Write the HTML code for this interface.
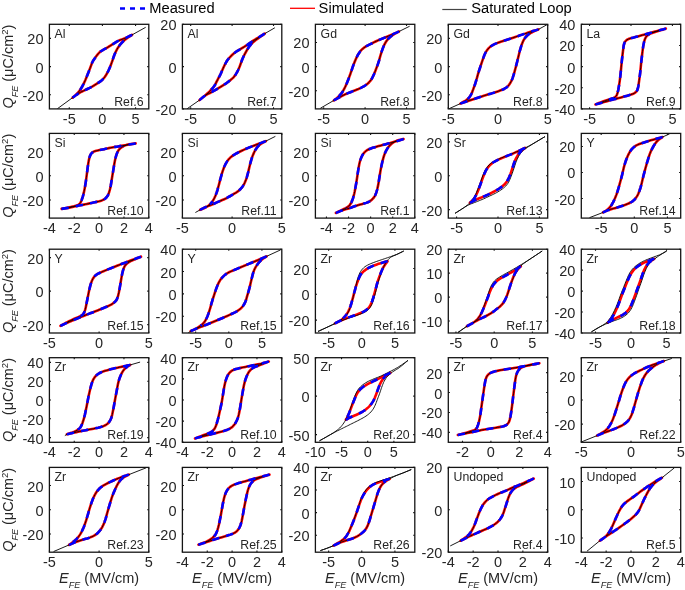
<!DOCTYPE html><html><head><meta charset="utf-8"><style>
html,body{margin:0;padding:0;background:#fff;}
svg{display:block;will-change:transform;}
text{font-family:"Liberation Sans",sans-serif;}
.red{fill:none;stroke:#ff0000;stroke-width:2.6;stroke-linejoin:round;}
.blk{fill:none;stroke:#000;stroke-width:0.9;stroke-linejoin:round;}
.blu{fill:none;stroke:#0000ff;stroke-width:2.6;stroke-dasharray:7.3 7.2;stroke-linejoin:round;}
.ax{fill:none;stroke:#141414;stroke-width:1.3;}
.tk{fill:none;stroke:#141414;stroke-width:1.1;}
.tl{font-size:14.5px;fill:#262626;}
.pl{font-size:12.3px;fill:#262626;}
.yl{font-size:14.5px;fill:#262626;}
.lg{font-size:14.7px;fill:#000;}
</style></head><body><svg width="685" height="590" viewBox="0 0 685 590"><defs><clipPath id="c00"><rect x="49.4" y="24.3" width="99.4" height="84.6"/></clipPath><clipPath id="c01"><rect x="182.4" y="24.3" width="99.4" height="84.6"/></clipPath><clipPath id="c02"><rect x="315.4" y="24.3" width="99.4" height="84.6"/></clipPath><clipPath id="c03"><rect x="448.3" y="24.3" width="99.4" height="84.6"/></clipPath><clipPath id="c04"><rect x="581.3" y="24.3" width="99.4" height="84.6"/></clipPath><clipPath id="c10"><rect x="49.4" y="133.4" width="99.4" height="84.7"/></clipPath><clipPath id="c11"><rect x="182.4" y="133.4" width="99.4" height="84.7"/></clipPath><clipPath id="c12"><rect x="315.4" y="133.4" width="99.4" height="84.7"/></clipPath><clipPath id="c13"><rect x="448.3" y="133.4" width="99.4" height="84.7"/></clipPath><clipPath id="c14"><rect x="581.3" y="133.4" width="99.4" height="84.7"/></clipPath><clipPath id="c20"><rect x="49.4" y="249.2" width="99.4" height="83.8"/></clipPath><clipPath id="c21"><rect x="182.4" y="249.2" width="99.4" height="83.8"/></clipPath><clipPath id="c22"><rect x="315.4" y="249.2" width="99.4" height="83.8"/></clipPath><clipPath id="c23"><rect x="448.3" y="249.2" width="99.4" height="83.8"/></clipPath><clipPath id="c24"><rect x="581.3" y="249.2" width="99.4" height="83.8"/></clipPath><clipPath id="c30"><rect x="49.4" y="357.7" width="99.4" height="84.6"/></clipPath><clipPath id="c31"><rect x="182.4" y="357.7" width="99.4" height="84.6"/></clipPath><clipPath id="c32"><rect x="315.4" y="357.7" width="99.4" height="84.6"/></clipPath><clipPath id="c33"><rect x="448.3" y="357.7" width="99.4" height="84.6"/></clipPath><clipPath id="c34"><rect x="581.3" y="357.7" width="99.4" height="84.6"/></clipPath><clipPath id="c40"><rect x="49.4" y="467.4" width="99.4" height="84.8"/></clipPath><clipPath id="c41"><rect x="182.4" y="467.4" width="99.4" height="84.8"/></clipPath><clipPath id="c42"><rect x="315.4" y="467.4" width="99.4" height="84.8"/></clipPath><clipPath id="c43"><rect x="448.3" y="467.4" width="99.4" height="84.8"/></clipPath><clipPath id="c44"><rect x="581.3" y="467.4" width="99.4" height="84.8"/></clipPath></defs><path d="M120 8.5H145" stroke="#0000ff" stroke-width="2.6" stroke-dasharray="5 5" fill="none"/>
<text x="149.3" y="12.6" class="lg">Measured</text>
<path d="M290 8.3H315" stroke="#ff0000" stroke-width="1.3" fill="none"/>
<text x="318.6" y="12.6" class="lg">Simulated</text>
<path d="M442.3 9.5H466.8" stroke="#444" stroke-width="1.2" fill="none"/>
<text x="471.3" y="12.6" class="lg">Saturated Loop</text><g clip-path="url(#c00)">
<path d="M132.11 34.84L130.76 35.5L129.19 36.26L127.84 36.91L126.25 37.65L124.87 38.25L123.24 38.87L121.83 39.38L120.19 40L118.83 40.62L117.29 41.44L116 42.21L114.52 43.15L113.25 43.95L111.98 44.73L110.48 45.64L109.2 46.42L107.7 47.33L106.41 48.09L104.88 48.95L103.56 49.66L102.04 50.52L100.79 51.34L99.45 52.46L98.41 53.54L97.31 54.89L96.41 56.09L95.37 57.5L94.49 58.71L93.65 59.95L92.76 61.46L92.11 62.81L91.46 64.43L90.94 65.84L90.35 67.48L89.82 68.89L89.18 70.52L88.63 71.91L87.99 73.54L87.43 74.93L86.78 76.56L86.22 77.95L85.56 79.57L84.96 80.94L84.34 82.31L83.59 83.89L82.91 85.22L82.07 86.76L81.3 88.05L80.35 89.52L79.49 90.75L78.42 92.12L77.43 93.25L76.19 94.49L75.08 95.49L73.75 96.63L72.61 97.61L73.8 96.73L75.21 95.7L76.42 94.82L77.87 93.83L79.14 93.04L80.67 92.2L82.02 91.53L83.37 90.89L84.95 90.14L86.31 89.49L87.89 88.74L89.24 88.09L90.8 87.3L92.12 86.59L93.42 85.84L94.92 84.94L96.2 84.15L97.67 83.2L98.92 82.37L100.35 81.38L101.54 80.46L102.65 79.45L103.82 78.16L104.74 76.98L105.72 75.53L106.51 74.26L107.37 72.73L108.05 71.4L108.7 70.05L109.42 68.45L110.01 67.07L110.66 65.45L111.19 64.04L111.79 62.4L112.29 60.98L112.77 59.56L113.32 57.9L113.8 56.48L114.41 54.84L114.98 53.46L115.71 51.87L116.37 50.52L117.09 49.2L117.98 47.7L118.8 46.44L119.82 45.03L120.77 43.86L121.94 42.56L123 41.5L124.1 40.49L125.44 39.36L126.63 38.44L128.05 37.43L129.31 36.61L130.79 35.67L132.06 34.88Z" class="red"/>
<path d="M132.11 34.84L130.76 35.5L129.19 36.26L127.84 36.91L126.25 37.65L124.87 38.25L123.24 38.87L121.83 39.38L120.19 40L118.83 40.62L117.29 41.44L116 42.21L114.52 43.15L113.25 43.95L111.98 44.73L110.48 45.64L109.2 46.42L107.7 47.33L106.41 48.09L104.88 48.95L103.56 49.66L102.04 50.52L100.79 51.34L99.45 52.46L98.41 53.54L97.31 54.89L96.41 56.09L95.37 57.5L94.49 58.71L93.65 59.95L92.76 61.46L92.11 62.81L91.46 64.43L90.94 65.84L90.35 67.48L89.82 68.89L89.18 70.52L88.63 71.91L87.99 73.54L87.43 74.93L86.78 76.56L86.22 77.95L85.56 79.57L84.96 80.94L84.34 82.31L83.59 83.89L82.91 85.22L82.07 86.76L81.3 88.05L80.35 89.52L79.49 90.75L78.42 92.12L77.43 93.25L76.19 94.49L75.08 95.49L73.75 96.63L72.61 97.61L73.8 96.73L75.21 95.7L76.42 94.82L77.87 93.83L79.14 93.04L80.67 92.2L82.02 91.53L83.37 90.89L84.95 90.14L86.31 89.49L87.89 88.74L89.24 88.09L90.8 87.3L92.12 86.59L93.42 85.84L94.92 84.94L96.2 84.15L97.67 83.2L98.92 82.37L100.35 81.38L101.54 80.46L102.65 79.45L103.82 78.16L104.74 76.98L105.72 75.53L106.51 74.26L107.37 72.73L108.05 71.4L108.7 70.05L109.42 68.45L110.01 67.07L110.66 65.45L111.19 64.04L111.79 62.4L112.29 60.98L112.77 59.56L113.32 57.9L113.8 56.48L114.41 54.84L114.98 53.46L115.71 51.87L116.37 50.52L117.09 49.2L117.98 47.7L118.8 46.44L119.82 45.03L120.77 43.86L121.94 42.56L123 41.5L124.1 40.49L125.44 39.36L126.63 38.44L128.05 37.43L129.31 36.61L130.79 35.67L132.06 34.88ZM57.39 108.74L72.61 97.61M132.11 34.84L145.68 27.32" class="blk"/>
<path d="M132.11 34.84L130.76 35.5L129.19 36.26L127.84 36.91L126.25 37.65L124.87 38.25L123.24 38.87L121.83 39.38L120.19 40L118.83 40.62L117.29 41.44L116 42.21L114.52 43.15L113.25 43.95L111.98 44.73L110.48 45.64L109.2 46.42L107.7 47.33L106.41 48.09L104.88 48.95L103.56 49.66L102.04 50.52L100.79 51.34L99.45 52.46L98.41 53.54L97.31 54.89L96.41 56.09L95.37 57.5L94.49 58.71L93.65 59.95L92.76 61.46L92.11 62.81L91.46 64.43L90.94 65.84L90.35 67.48L89.82 68.89L89.18 70.52L88.63 71.91L87.99 73.54L87.43 74.93L86.78 76.56L86.22 77.95L85.56 79.57L84.96 80.94L84.34 82.31L83.59 83.89L82.91 85.22L82.07 86.76L81.3 88.05L80.35 89.52L79.49 90.75L78.42 92.12M72.59 97.63L73.8 96.73L75.21 95.7L76.42 94.82L77.87 93.83L79.14 93.04L80.67 92.2L82.02 91.53L83.37 90.89L84.95 90.14L86.31 89.49L87.89 88.74L89.24 88.09L90.8 87.3L92.12 86.59L93.42 85.84L94.92 84.94L96.2 84.15L97.67 83.2L98.92 82.37L100.35 81.38L101.54 80.46L102.65 79.45L103.82 78.16L104.74 76.98L105.72 75.53L106.51 74.26L107.37 72.73L108.05 71.4L108.7 70.05L109.42 68.45L110.01 67.07L110.66 65.45L111.19 64.04L111.79 62.4L112.29 60.98L112.77 59.56L113.32 57.9L113.8 56.48L114.41 54.84L114.98 53.46L115.71 51.87L116.37 50.52L117.09 49.2L117.98 47.7L118.8 46.44L119.82 45.03L120.77 43.86L121.94 42.56L123 41.5L124.1 40.49L125.44 39.36L126.63 38.44" class="blu"/>
</g>
<rect x="49.4" y="24.3" width="99.4" height="84.6" class="ax"/>
<path d="M69.28 108.9v-1.6M69.28 24.3v1.6M102.41 108.9v-1.6M102.41 24.3v1.6M135.55 108.9v-1.6M135.55 24.3v1.6M49.4 94.8h1.6M148.8 94.8h-1.6M49.4 66.6h1.6M148.8 66.6h-1.6M49.4 38.4h1.6M148.8 38.4h-1.6" class="tk"/>
<text x="69.28" y="123.9" text-anchor="middle" class="tl">-5</text>
<text x="102.41" y="123.9" text-anchor="middle" class="tl">0</text>
<text x="135.55" y="123.9" text-anchor="middle" class="tl">5</text>
<text x="43.5" y="100.8" text-anchor="end" class="tl">-20</text>
<text x="43.5" y="72.6" text-anchor="end" class="tl">0</text>
<text x="43.5" y="44.4" text-anchor="end" class="tl">20</text>
<text x="54.6" y="37.8" class="pl">Al</text>
<text x="143.6" y="105.7" text-anchor="end" class="pl">Ref.6</text>
<g clip-path="url(#c01)">
<path d="M264.73 33.64L263.46 34.44L261.98 35.37L260.7 36.16L259.21 37.08L257.92 37.84L256.41 38.73L255.12 39.5L253.64 40.43L252.39 41.26L250.95 42.26L249.73 43.13L248.31 44.14L247.07 44.99L245.6 45.94L244.33 46.74L242.84 47.65L241.55 48.42L240.03 49.29L238.73 50.04L237.45 50.81L235.99 51.78L234.79 52.68L233.45 53.8L232.34 54.81L231.08 56.02L230.03 57.09L228.86 58.39L227.91 59.55L226.89 60.97L226.11 62.25L225.28 63.79L224.6 65.13L223.84 66.7L223.22 68.07L222.52 69.67L221.91 71.04L221.21 72.65L220.6 74.02L219.85 75.6L219.15 76.92L218.43 78.24L217.58 79.77L216.88 81.09L216.12 82.67L215.46 84.02L214.61 85.54L213.76 86.77L212.64 88.12L211.63 89.23L210.44 90.51L209.4 91.58L208.15 92.81L207.04 93.82L205.72 94.97L204.58 95.94L203.23 97.06L202.07 98.01L200.72 99.12L199.56 100.07L200.67 99.13L202.01 98.01L203.17 97.06L204.55 95.99L205.78 95.13L207.07 94.37L208.63 93.58L209.99 92.95L211.57 92.19L212.89 91.47L214.18 90.72L215.68 89.81L216.96 89.03L218.45 88.12L219.74 87.36L221.04 86.6L222.54 85.71L223.82 84.92L225.28 83.95L226.5 83.08L227.69 82.17L229.07 81.1L230.26 80.18L231.63 79.09L232.75 78.11L233.78 77.02L234.86 75.64L235.71 74.41L236.63 72.92L237.35 71.61L238.03 70.27L238.76 68.68L239.35 67.3L239.98 65.67L240.49 64.26L241 62.85L241.59 61.2L242.11 59.79L242.77 58.17L243.39 56.81L244.05 55.46L244.85 53.91L245.56 52.58L246.39 51.04L247.15 49.75L247.95 48.48L248.94 47.04L249.82 45.82L250.91 44.46L251.91 43.35L253 42.32L254.34 41.19L255.51 40.26L256.91 39.2L258.12 38.33L259.35 37.47L260.78 36.46L262 35.59L263.43 34.57L264.65 33.7Z" class="red"/>
<path d="M264.73 33.64L263.46 34.44L261.98 35.37L260.7 36.16L259.21 37.08L257.92 37.84L256.41 38.73L255.12 39.5L253.64 40.43L252.39 41.26L250.95 42.26L249.73 43.13L248.31 44.14L247.07 44.99L245.6 45.94L244.33 46.74L242.84 47.65L241.55 48.42L240.03 49.29L238.73 50.04L237.45 50.81L235.99 51.78L234.79 52.68L233.45 53.8L232.34 54.81L231.08 56.02L230.03 57.09L228.86 58.39L227.91 59.55L226.89 60.97L226.11 62.25L225.28 63.79L224.6 65.13L223.84 66.7L223.22 68.07L222.52 69.67L221.91 71.04L221.21 72.65L220.6 74.02L219.85 75.6L219.15 76.92L218.43 78.24L217.58 79.77L216.88 81.09L216.12 82.67L215.46 84.02L214.61 85.54L213.76 86.77L212.64 88.12L211.63 89.23L210.44 90.51L209.4 91.58L208.15 92.81L207.04 93.82L205.72 94.97L204.58 95.94L203.23 97.06L202.07 98.01L200.72 99.12L199.56 100.07L200.67 99.13L202.01 98.01L203.17 97.06L204.55 95.99L205.78 95.13L207.07 94.37L208.63 93.58L209.99 92.95L211.57 92.19L212.89 91.47L214.18 90.72L215.68 89.81L216.96 89.03L218.45 88.12L219.74 87.36L221.04 86.6L222.54 85.71L223.82 84.92L225.28 83.95L226.5 83.08L227.69 82.17L229.07 81.1L230.26 80.18L231.63 79.09L232.75 78.11L233.78 77.02L234.86 75.64L235.71 74.41L236.63 72.92L237.35 71.61L238.03 70.27L238.76 68.68L239.35 67.3L239.98 65.67L240.49 64.26L241 62.85L241.59 61.2L242.11 59.79L242.77 58.17L243.39 56.81L244.05 55.46L244.85 53.91L245.56 52.58L246.39 51.04L247.15 49.75L247.95 48.48L248.94 47.04L249.82 45.82L250.91 44.46L251.91 43.35L253 42.32L254.34 41.19L255.51 40.26L256.91 39.2L258.12 38.33L259.35 37.47L260.78 36.46L262 35.59L263.43 34.57L264.65 33.7ZM187.11 108.75L199.56 100.07M264.73 33.64L274.88 27.75" class="blk"/>
<path d="M264.73 33.64L263.46 34.44L261.98 35.37L260.7 36.16L259.21 37.08L257.92 37.84L256.41 38.73L255.12 39.5L253.64 40.43L252.39 41.26L250.95 42.26L249.73 43.13L248.31 44.14L247.07 44.99L245.6 45.94L244.33 46.74L242.84 47.65L241.55 48.42L240.03 49.29L238.73 50.04L237.45 50.81L235.99 51.78L234.79 52.68L233.45 53.8L232.34 54.81L231.08 56.02L230.03 57.09L228.86 58.39L227.91 59.55L226.89 60.97L226.11 62.25L225.28 63.79L224.6 65.13L223.84 66.7L223.22 68.07L222.52 69.67L221.91 71.04L221.21 72.65L220.6 74.02L219.85 75.6L219.15 76.92L218.43 78.24L217.58 79.77L216.88 81.09L216.12 82.67L215.46 84.02L214.61 85.54L213.76 86.77L212.64 88.12L211.63 89.23L210.44 90.51L209.4 91.58L208.15 92.81M199.52 100.1L200.67 99.13L202.01 98.01L203.17 97.06L204.55 95.99L205.78 95.13L207.07 94.37L208.63 93.58L209.99 92.95L211.57 92.19L212.89 91.47L214.18 90.72L215.68 89.81L216.96 89.03L218.45 88.12L219.74 87.36L221.04 86.6L222.54 85.71L223.82 84.92L225.28 83.95L226.5 83.08L227.69 82.17L229.07 81.1L230.26 80.18L231.63 79.09L232.75 78.11L233.78 77.02L234.86 75.64L235.71 74.41L236.63 72.92L237.35 71.61L238.03 70.27L238.76 68.68L239.35 67.3L239.98 65.67L240.49 64.26L241 62.85L241.59 61.2L242.11 59.79L242.77 58.17L243.39 56.81L244.05 55.46L244.85 53.91L245.56 52.58L246.39 51.04L247.15 49.75L247.95 48.48L248.94 47.04L249.82 45.82L250.91 44.46L251.91 43.35L253 42.32L254.34 41.19" class="blu"/>
</g>
<rect x="182.4" y="24.3" width="99.4" height="84.6" class="ax"/>
<path d="M190.68 108.9v-1.6M190.68 24.3v1.6M232.1 108.9v-1.6M232.1 24.3v1.6M273.52 108.9v-1.6M273.52 24.3v1.6M182.4 108.9h1.6M281.8 108.9h-1.6M182.4 66.6h1.6M281.8 66.6h-1.6M182.4 24.3h1.6M281.8 24.3h-1.6" class="tk"/>
<text x="190.68" y="123.9" text-anchor="middle" class="tl">-5</text>
<text x="232.1" y="123.9" text-anchor="middle" class="tl">0</text>
<text x="273.52" y="123.9" text-anchor="middle" class="tl">5</text>
<text x="176.5" y="114.9" text-anchor="end" class="tl">-20</text>
<text x="176.5" y="72.6" text-anchor="end" class="tl">0</text>
<text x="176.5" y="30.3" text-anchor="end" class="tl">20</text>
<text x="187.6" y="37.8" class="pl">Al</text>
<text x="276.6" y="105.7" text-anchor="end" class="pl">Ref.7</text>
<g clip-path="url(#c02)">
<path d="M398.98 31.51L397.61 32.12L396.01 32.83L394.64 33.43L393.03 34.13L391.65 34.72L390.04 35.39L388.65 35.97L387.04 36.64L385.65 37.21L384.03 37.88L382.64 38.45L381.02 39.11L379.64 39.68L378.03 40.38L376.67 41.01L375.1 41.78L373.76 42.46L372.21 43.26L370.86 43.93L369.29 44.69L367.94 45.35L366.41 46.19L365.13 46.97L363.68 47.95L362.52 48.89L361.27 50.11L360.31 51.26L359.29 52.68L358.48 53.94L357.62 55.46L356.93 56.79L356.28 58.15L355.56 59.74L354.97 61.12L354.31 62.74L353.77 64.14L353.16 65.78L352.66 67.19L352.1 68.85L351.63 70.27L351.06 71.93L350.57 73.35L349.98 75L349.47 76.41L348.86 78.05L348.33 79.45L347.7 81.08L347.14 82.48L346.46 84.09L345.85 85.45L345.11 87.04L344.44 88.39L343.61 89.93L342.84 91.21L341.88 92.67L340.99 93.87L339.86 95.21L338.81 96.28L337.51 97.45L336.36 98.41L334.99 99.5L333.82 100.44L335.08 99.74L336.6 98.87L337.91 98.14L339.45 97.29L340.77 96.59L342.1 95.89L343.66 95.1L345.01 94.45L346.6 93.72L347.98 93.13L349.6 92.48L351 91.94L352.4 91.4L354.03 90.76L355.43 90.21L357.05 89.57L358.44 88.99L359.81 88.38L361.39 87.63L362.72 86.94L364.24 86.07L365.5 85.26L366.72 84.4L368.08 83.29L369.15 82.25L370.29 80.93L371.16 79.71L372.07 78.22L372.76 76.88L373.39 75.53L374.1 73.93L374.68 72.54L375.33 70.92L375.88 69.52L376.41 68.12L377.03 66.48L377.55 65.08L378.14 63.43L378.61 62L379.12 60.33L379.52 58.89L379.92 57.44L380.39 55.75L380.81 54.31L381.34 52.64L381.8 51.22L382.29 49.8L382.9 48.16L383.44 46.76L384.13 45.15L384.79 43.81L385.54 42.51L386.5 41.05L387.39 39.85L388.53 38.52L389.59 37.47L390.94 36.36L392.16 35.48L393.4 34.65L394.89 33.72L396.19 32.98L397.72 32.17L398.98 31.51Z" class="red"/>
<path d="M398.98 31.51L397.61 32.12L396.01 32.83L394.64 33.43L393.03 34.13L391.65 34.72L390.04 35.39L388.65 35.97L387.04 36.64L385.65 37.21L384.03 37.88L382.64 38.45L381.02 39.11L379.64 39.68L378.03 40.38L376.67 41.01L375.1 41.78L373.76 42.46L372.21 43.26L370.86 43.93L369.29 44.69L367.94 45.35L366.41 46.19L365.13 46.97L363.68 47.95L362.52 48.89L361.27 50.11L360.31 51.26L359.29 52.68L358.48 53.94L357.62 55.46L356.93 56.79L356.28 58.15L355.56 59.74L354.97 61.12L354.31 62.74L353.77 64.14L353.16 65.78L352.66 67.19L352.1 68.85L351.63 70.27L351.06 71.93L350.57 73.35L349.98 75L349.47 76.41L348.86 78.05L348.33 79.45L347.7 81.08L347.14 82.48L346.46 84.09L345.85 85.45L345.11 87.04L344.44 88.39L343.61 89.93L342.84 91.21L341.88 92.67L340.99 93.87L339.86 95.21L338.81 96.28L337.51 97.45L336.36 98.41L334.99 99.5L333.82 100.44L335.08 99.74L336.6 98.87L337.91 98.14L339.45 97.29L340.77 96.59L342.1 95.89L343.66 95.1L345.01 94.45L346.6 93.72L347.98 93.13L349.6 92.48L351 91.94L352.4 91.4L354.03 90.76L355.43 90.21L357.05 89.57L358.44 88.99L359.81 88.38L361.39 87.63L362.72 86.94L364.24 86.07L365.5 85.26L366.72 84.4L368.08 83.29L369.15 82.25L370.29 80.93L371.16 79.71L372.07 78.22L372.76 76.88L373.39 75.53L374.1 73.93L374.68 72.54L375.33 70.92L375.88 69.52L376.41 68.12L377.03 66.48L377.55 65.08L378.14 63.43L378.61 62L379.12 60.33L379.52 58.89L379.92 57.44L380.39 55.75L380.81 54.31L381.34 52.64L381.8 51.22L382.29 49.8L382.9 48.16L383.44 46.76L384.13 45.15L384.79 43.81L385.54 42.51L386.5 41.05L387.39 39.85L388.53 38.52L389.59 37.47L390.94 36.36L392.16 35.48L393.4 34.65L394.89 33.72L396.19 32.98L397.72 32.17L398.98 31.51ZM320.36 108.25L333.82 100.44M398.98 31.51L409.64 26.24" class="blk"/>
<path d="M398.98 31.51L397.61 32.12L396.01 32.83L394.64 33.43L393.03 34.13L391.65 34.72L390.04 35.39L388.65 35.97L387.04 36.64L385.65 37.21L384.03 37.88L382.64 38.45L381.02 39.11L379.64 39.68L378.03 40.38L376.67 41.01L375.1 41.78L373.76 42.46L372.21 43.26L370.86 43.93L369.29 44.69L367.94 45.35L366.41 46.19L365.13 46.97L363.68 47.95L362.52 48.89L361.27 50.11L360.31 51.26L359.29 52.68L358.48 53.94L357.62 55.46L356.93 56.79L356.28 58.15L355.56 59.74L354.97 61.12L354.31 62.74L353.77 64.14L353.16 65.78L352.66 67.19L352.1 68.85L351.63 70.27L351.06 71.93L350.57 73.35L349.98 75L349.47 76.41L348.86 78.05L348.33 79.45L347.7 81.08L347.14 82.48L346.46 84.09L345.85 85.45L345.11 87.04L344.44 88.39L343.61 89.93L342.84 91.21L341.88 92.67L340.99 93.87L339.86 95.21L338.81 96.28M333.78 100.48L335.08 99.74L336.6 98.87L337.91 98.14L339.45 97.29L340.77 96.59L342.1 95.89L343.66 95.1L345.01 94.45L346.6 93.72L347.98 93.13L349.6 92.48L351 91.94L352.4 91.4L354.03 90.76L355.43 90.21L357.05 89.57L358.44 88.99L359.81 88.38L361.39 87.63L362.72 86.94L364.24 86.07L365.5 85.26L366.72 84.4L368.08 83.29L369.15 82.25L370.29 80.93L371.16 79.71L372.07 78.22L372.76 76.88L373.39 75.53L374.1 73.93L374.68 72.54L375.33 70.92L375.88 69.52L376.41 68.12L377.03 66.48L377.55 65.08L378.14 63.43L378.61 62L379.12 60.33L379.52 58.89L379.92 57.44L380.39 55.75L380.81 54.31L381.34 52.64L381.8 51.22L382.29 49.8L382.9 48.16L383.44 46.76L384.13 45.15L384.79 43.81L385.54 42.51L386.5 41.05L387.39 39.85L388.53 38.52L389.59 37.47L390.94 36.36L392.16 35.48" class="blu"/>
</g>
<rect x="315.4" y="24.3" width="99.4" height="84.6" class="ax"/>
<path d="M323.68 108.9v-1.6M323.68 24.3v1.6M365.1 108.9v-1.6M365.1 24.3v1.6M406.52 108.9v-1.6M406.52 24.3v1.6M315.4 90.77h1.6M414.8 90.77h-1.6M315.4 66.6h1.6M414.8 66.6h-1.6M315.4 42.43h1.6M414.8 42.43h-1.6" class="tk"/>
<text x="323.68" y="123.9" text-anchor="middle" class="tl">-5</text>
<text x="365.1" y="123.9" text-anchor="middle" class="tl">0</text>
<text x="406.52" y="123.9" text-anchor="middle" class="tl">5</text>
<text x="309.5" y="96.77" text-anchor="end" class="tl">-20</text>
<text x="309.5" y="72.6" text-anchor="end" class="tl">0</text>
<text x="309.5" y="48.43" text-anchor="end" class="tl">20</text>
<text x="320.6" y="37.8" class="pl">Gd</text>
<text x="409.6" y="105.7" text-anchor="end" class="pl">Ref.8</text>
<g clip-path="url(#c03)">
<path d="M538.36 29.44L536.92 29.88L535.25 30.39L533.82 30.83L532.15 31.35L530.72 31.81L529.05 32.35L527.63 32.82L525.97 33.38L524.55 33.86L523.13 34.34L521.47 34.89L520.04 35.36L518.38 35.92L516.96 36.39L515.3 36.94L513.88 37.42L512.45 37.89L510.79 38.45L509.37 38.92L507.71 39.47L506.29 39.95L504.62 40.49L503.2 40.95L501.53 41.49L500.11 41.97L498.7 42.47L497.06 43.1L495.67 43.66L494.08 44.37L492.75 45.06L491.27 45.99L490.08 46.9L488.98 47.91L487.81 49.21L486.9 50.4L485.96 51.87L485.24 53.19L484.51 54.77L483.97 56.17L483.38 57.82L482.89 59.24L482.39 60.65L481.82 62.31L481.34 63.73L480.79 65.39L480.32 66.81L479.77 68.47L479.31 69.9L478.85 71.33L478.34 73L477.92 74.44L477.45 76.13L477.05 77.58L476.58 79.26L476.16 80.7L475.64 82.37L475.18 83.8L474.7 85.22L474.11 86.87L473.6 88.28L473.01 89.93L472.5 91.34L471.84 92.96L471.2 94.31L470.47 95.62L469.49 97.06L468.53 98.21L467.26 99.4L466.07 100.31L464.59 101.24L463.29 101.99L461.76 102.84L460.45 103.57L461.84 103.1L463.5 102.53L464.92 102.05L466.58 101.49L468 101.01L469.42 100.53L471.08 99.98L472.5 99.51L474.16 98.95L475.59 98.48L477.01 98L478.67 97.44L480.09 96.96L481.75 96.41L483.18 95.95L484.61 95.51L486.28 95L487.72 94.58L489.4 94.08L490.84 93.65L492.51 93.13L493.94 92.67L495.36 92.21L497.03 91.66L498.44 91.17L500.09 90.57L501.48 90.03L502.87 89.46L504.46 88.72L505.76 87.98L507.14 86.93L508.19 85.86L509.12 84.69L510.11 83.25L510.87 81.96L511.66 80.4L512.25 79.02L512.76 77.62L513.3 75.95L513.73 74.52L514.23 72.84L514.64 71.39L515.03 69.95L515.48 68.26L515.86 66.8L516.3 65.11L516.67 63.66L517.03 62.2L517.45 60.5L517.81 59.05L518.23 57.35L518.58 55.89L518.93 54.43L519.34 52.73L519.72 51.28L520.19 49.59L520.62 48.15L521.13 46.48L521.59 45.05L522.09 43.64L522.75 42.02L523.38 40.66L524.22 39.13L525.05 37.88L526 36.72L527.23 35.49L528.39 34.54L529.81 33.53L531.09 32.74L532.4 32.01L533.98 31.26L535.35 30.67L536.97 30L538.36 29.44Z" class="red"/>
<path d="M538.36 29.44L536.92 29.88L535.25 30.39L533.82 30.83L532.15 31.35L530.72 31.81L529.05 32.35L527.63 32.82L525.97 33.38L524.55 33.86L523.13 34.34L521.47 34.89L520.04 35.36L518.38 35.92L516.96 36.39L515.3 36.94L513.88 37.42L512.45 37.89L510.79 38.45L509.37 38.92L507.71 39.47L506.29 39.95L504.62 40.49L503.2 40.95L501.53 41.49L500.11 41.97L498.7 42.47L497.06 43.1L495.67 43.66L494.08 44.37L492.75 45.06L491.27 45.99L490.08 46.9L488.98 47.91L487.81 49.21L486.9 50.4L485.96 51.87L485.24 53.19L484.51 54.77L483.97 56.17L483.38 57.82L482.89 59.24L482.39 60.65L481.82 62.31L481.34 63.73L480.79 65.39L480.32 66.81L479.77 68.47L479.31 69.9L478.85 71.33L478.34 73L477.92 74.44L477.45 76.13L477.05 77.58L476.58 79.26L476.16 80.7L475.64 82.37L475.18 83.8L474.7 85.22L474.11 86.87L473.6 88.28L473.01 89.93L472.5 91.34L471.84 92.96L471.2 94.31L470.47 95.62L469.49 97.06L468.53 98.21L467.26 99.4L466.07 100.31L464.59 101.24L463.29 101.99L461.76 102.84L460.45 103.57L461.84 103.1L463.5 102.53L464.92 102.05L466.58 101.49L468 101.01L469.42 100.53L471.08 99.98L472.5 99.51L474.16 98.95L475.59 98.48L477.01 98L478.67 97.44L480.09 96.96L481.75 96.41L483.18 95.95L484.61 95.51L486.28 95L487.72 94.58L489.4 94.08L490.84 93.65L492.51 93.13L493.94 92.67L495.36 92.21L497.03 91.66L498.44 91.17L500.09 90.57L501.48 90.03L502.87 89.46L504.46 88.72L505.76 87.98L507.14 86.93L508.19 85.86L509.12 84.69L510.11 83.25L510.87 81.96L511.66 80.4L512.25 79.02L512.76 77.62L513.3 75.95L513.73 74.52L514.23 72.84L514.64 71.39L515.03 69.95L515.48 68.26L515.86 66.8L516.3 65.11L516.67 63.66L517.03 62.2L517.45 60.5L517.81 59.05L518.23 57.35L518.58 55.89L518.93 54.43L519.34 52.73L519.72 51.28L520.19 49.59L520.62 48.15L521.13 46.48L521.59 45.05L522.09 43.64L522.75 42.02L523.38 40.66L524.22 39.13L525.05 37.88L526 36.72L527.23 35.49L528.39 34.54L529.81 33.53L531.09 32.74L532.4 32.01L533.98 31.26L535.35 30.67L536.97 30L538.36 29.44ZM448.36 109L460.45 103.57M538.36 29.44L547.71 24.29" class="blk"/>
<path d="M538.36 29.44L536.92 29.88L535.25 30.39L533.82 30.83L532.15 31.35L530.72 31.81L529.05 32.35L527.63 32.82L525.97 33.38L524.55 33.86L523.13 34.34L521.47 34.89L520.04 35.36L518.38 35.92L516.96 36.39L515.3 36.94L513.88 37.42L512.45 37.89L510.79 38.45L509.37 38.92L507.71 39.47L506.29 39.95L504.62 40.49L503.2 40.95L501.53 41.49L500.11 41.97L498.7 42.47L497.06 43.1L495.67 43.66L494.08 44.37L492.75 45.06L491.27 45.99L490.08 46.9L488.98 47.91L487.81 49.21L486.9 50.4L485.96 51.87L485.24 53.19L484.51 54.77L483.97 56.17L483.38 57.82L482.89 59.24L482.39 60.65L481.82 62.31L481.34 63.73L480.79 65.39L480.32 66.81L479.77 68.47L479.31 69.9L478.85 71.33L478.34 73L477.92 74.44L477.45 76.13L477.05 77.58L476.58 79.26L476.16 80.7L475.64 82.37L475.18 83.8L474.7 85.22L474.11 86.87L473.6 88.28L473.01 89.93L472.5 91.34L471.84 92.96L471.2 94.31L470.47 95.62L469.49 97.06L468.53 98.21L467.26 99.4L466.07 100.31L464.59 101.24M460.42 103.58L461.84 103.1L463.5 102.53L464.92 102.05L466.58 101.49L468 101.01L469.42 100.53L471.08 99.98L472.5 99.51L474.16 98.95L475.59 98.48L477.01 98L478.67 97.44L480.09 96.96L481.75 96.41L483.18 95.95L484.61 95.51L486.28 95L487.72 94.58L489.4 94.08L490.84 93.65L492.51 93.13L493.94 92.67L495.36 92.21L497.03 91.66L498.44 91.17L500.09 90.57L501.48 90.03L502.87 89.46L504.46 88.72L505.76 87.98L507.14 86.93L508.19 85.86L509.12 84.69L510.11 83.25L510.87 81.96L511.66 80.4L512.25 79.02L512.76 77.62L513.3 75.95L513.73 74.52L514.23 72.84L514.64 71.39L515.03 69.95L515.48 68.26L515.86 66.8L516.3 65.11L516.67 63.66L517.03 62.2L517.45 60.5L517.81 59.05L518.23 57.35L518.58 55.89L518.93 54.43L519.34 52.73L519.72 51.28L520.19 49.59L520.62 48.15L521.13 46.48L521.59 45.05L522.09 43.64L522.75 42.02L523.38 40.66L524.22 39.13L525.05 37.88L526 36.72L527.23 35.49L528.39 34.54L529.81 33.53L531.09 32.74" class="blu"/>
</g>
<rect x="448.3" y="24.3" width="99.4" height="84.6" class="ax"/>
<path d="M448.3 108.9v-1.6M448.3 24.3v1.6M498 108.9v-1.6M498 24.3v1.6M547.7 108.9v-1.6M547.7 24.3v1.6M448.3 94.8h1.6M547.7 94.8h-1.6M448.3 66.6h1.6M547.7 66.6h-1.6M448.3 38.4h1.6M547.7 38.4h-1.6" class="tk"/>
<text x="448.3" y="123.9" text-anchor="middle" class="tl">-5</text>
<text x="498" y="123.9" text-anchor="middle" class="tl">0</text>
<text x="547.7" y="123.9" text-anchor="middle" class="tl">5</text>
<text x="442.4" y="100.8" text-anchor="end" class="tl">-20</text>
<text x="442.4" y="72.6" text-anchor="end" class="tl">0</text>
<text x="442.4" y="44.4" text-anchor="end" class="tl">20</text>
<text x="453.5" y="37.8" class="pl">Gd</text>
<text x="542.5" y="105.7" text-anchor="end" class="pl">Ref.8</text>
<g clip-path="url(#c04)">
<path d="M665.9 28.63L664.45 29.01L662.76 29.46L661.31 29.84L659.62 30.29L658.17 30.69L656.49 31.15L655.04 31.56L653.36 32.04L651.92 32.45L650.23 32.93L648.79 33.34L647.11 33.82L645.67 34.23L643.98 34.71L642.54 35.12L640.85 35.58L639.4 35.97L637.71 36.41L636.26 36.8L634.57 37.25L633.12 37.64L631.43 38.1L629.99 38.51L628.34 39.09L627.02 39.76L625.86 40.67L624.83 42.04L624.25 43.41L623.81 45.1L623.55 46.57L623.32 48.31L623.13 49.8L622.92 51.53L622.74 53.02L622.53 54.76L622.35 56.25L622.16 57.99L622 59.48L621.81 61.22L621.66 62.71L621.49 64.45L621.34 65.95L621.17 67.69L621.03 69.18L620.86 70.92L620.72 72.42L620.54 74.16L620.38 75.65L620.17 77.39L619.99 78.87L619.79 80.36L619.55 82.09L619.33 83.58L619.06 85.31L618.82 86.79L618.53 88.51L618.25 89.99L617.86 91.69L617.47 93.14L616.89 94.78L616.18 96.08L614.97 97.26L613.65 97.91L612 98.47L610.58 98.95L608.91 99.49L607.49 99.95L605.82 100.5L604.4 100.98L602.76 101.58L601.36 102.12L599.73 102.77L598.34 103.33L596.74 103.99L595.42 104.53L596.86 104.12L598.55 103.64L599.99 103.24L601.68 102.76L603.12 102.35L604.8 101.87L606.24 101.46L607.93 100.98L609.37 100.57L611.06 100.1L612.5 99.7L613.95 99.31L615.64 98.87L617.09 98.48L618.78 98.03L620.23 97.64L621.92 97.17L623.36 96.77L625.05 96.29L626.49 95.88L628.17 95.39L629.61 94.96L631.04 94.53L632.69 93.94L634.05 93.33L635.54 92.43L636.59 91.41L637.41 89.91L637.84 88.48L638.22 86.77L638.48 85.29L638.74 83.56L638.95 82.08L639.16 80.59L639.4 78.86L639.6 77.37L639.83 75.64L640.02 74.15L640.22 72.41L640.38 70.92L640.55 69.18L640.7 67.69L640.84 66.19L641.01 64.45L641.17 62.96L641.36 61.22L641.53 59.73L641.72 57.99L641.9 56.5L642.1 54.76L642.28 53.27L642.49 51.54L642.67 50.05L642.87 48.56L643.13 46.83L643.39 45.35L643.72 43.63L644.03 42.17L644.49 40.48L644.98 39.07L645.71 37.49L646.55 36.26L647.81 35.08L649.07 34.3L650.43 33.66L652.06 33.03L653.47 32.51L655.13 31.95L656.56 31.52L658.24 31.04L659.68 30.62L661.36 30.11L662.78 29.65L664.45 29.11L665.87 28.64Z" class="red"/>
<path d="M665.9 28.63L664.45 29.01L662.76 29.46L661.31 29.84L659.62 30.29L658.17 30.69L656.49 31.15L655.04 31.56L653.36 32.04L651.92 32.45L650.23 32.93L648.79 33.34L647.11 33.82L645.67 34.23L643.98 34.71L642.54 35.12L640.85 35.58L639.4 35.97L637.71 36.41L636.26 36.8L634.57 37.25L633.12 37.64L631.43 38.1L629.99 38.51L628.34 39.09L627.02 39.76L625.86 40.67L624.83 42.04L624.25 43.41L623.81 45.1L623.55 46.57L623.32 48.31L623.13 49.8L622.92 51.53L622.74 53.02L622.53 54.76L622.35 56.25L622.16 57.99L622 59.48L621.81 61.22L621.66 62.71L621.49 64.45L621.34 65.95L621.17 67.69L621.03 69.18L620.86 70.92L620.72 72.42L620.54 74.16L620.38 75.65L620.17 77.39L619.99 78.87L619.79 80.36L619.55 82.09L619.33 83.58L619.06 85.31L618.82 86.79L618.53 88.51L618.25 89.99L617.86 91.69L617.47 93.14L616.89 94.78L616.18 96.08L614.97 97.26L613.65 97.91L612 98.47L610.58 98.95L608.91 99.49L607.49 99.95L605.82 100.5L604.4 100.98L602.76 101.58L601.36 102.12L599.73 102.77L598.34 103.33L596.74 103.99L595.42 104.53L596.86 104.12L598.55 103.64L599.99 103.24L601.68 102.76L603.12 102.35L604.8 101.87L606.24 101.46L607.93 100.98L609.37 100.57L611.06 100.1L612.5 99.7L613.95 99.31L615.64 98.87L617.09 98.48L618.78 98.03L620.23 97.64L621.92 97.17L623.36 96.77L625.05 96.29L626.49 95.88L628.17 95.39L629.61 94.96L631.04 94.53L632.69 93.94L634.05 93.33L635.54 92.43L636.59 91.41L637.41 89.91L637.84 88.48L638.22 86.77L638.48 85.29L638.74 83.56L638.95 82.08L639.16 80.59L639.4 78.86L639.6 77.37L639.83 75.64L640.02 74.15L640.22 72.41L640.38 70.92L640.55 69.18L640.7 67.69L640.84 66.19L641.01 64.45L641.17 62.96L641.36 61.22L641.53 59.73L641.72 57.99L641.9 56.5L642.1 54.76L642.28 53.27L642.49 51.54L642.67 50.05L642.87 48.56L643.13 46.83L643.39 45.35L643.72 43.63L644.03 42.17L644.49 40.48L644.98 39.07L645.71 37.49L646.55 36.26L647.81 35.08L649.07 34.3L650.43 33.66L652.06 33.03L653.47 32.51L655.13 31.95L656.56 31.52L658.24 31.04L659.68 30.62L661.36 30.11L662.78 29.65L664.45 29.11L665.87 28.64Z" class="blk"/>
<path d="M665.9 28.63L664.45 29.01L662.76 29.46L661.31 29.84L659.62 30.29L658.17 30.69L656.49 31.15L655.04 31.56L653.36 32.04L651.92 32.45L650.23 32.93L648.79 33.34L647.11 33.82L645.67 34.23L643.98 34.71L642.54 35.12L640.85 35.58L639.4 35.97L637.71 36.41L636.26 36.8L634.57 37.25L633.12 37.64L631.43 38.1L629.99 38.51L628.34 39.09L627.02 39.76L625.86 40.67L624.83 42.04L624.25 43.41L623.81 45.1L623.55 46.57L623.32 48.31L623.13 49.8L622.92 51.53L622.74 53.02L622.53 54.76L622.35 56.25L622.16 57.99L622 59.48L621.81 61.22L621.66 62.71L621.49 64.45L621.34 65.95L621.17 67.69L621.03 69.18L620.86 70.92L620.72 72.42L620.54 74.16L620.38 75.65L620.17 77.39L619.99 78.87L619.79 80.36L619.55 82.09L619.33 83.58L619.06 85.31L618.82 86.79L618.53 88.51L618.25 89.99L617.86 91.69L617.47 93.14L616.89 94.78L616.18 96.08L614.97 97.26L613.65 97.91L612 98.47L610.58 98.95L608.91 99.49M595.42 104.53L596.86 104.12L598.55 103.64L599.99 103.24L601.68 102.76L603.12 102.35L604.8 101.87L606.24 101.46L607.93 100.98L609.37 100.57L611.06 100.1L612.5 99.7L613.95 99.31L615.64 98.87L617.09 98.48L618.78 98.03L620.23 97.64L621.92 97.17L623.36 96.77L625.05 96.29L626.49 95.88L628.17 95.39L629.61 94.96L631.04 94.53L632.69 93.94L634.05 93.33L635.54 92.43L636.59 91.41L637.41 89.91L637.84 88.48L638.22 86.77L638.48 85.29L638.74 83.56L638.95 82.08L639.16 80.59L639.4 78.86L639.6 77.37L639.83 75.64L640.02 74.15L640.22 72.41L640.38 70.92L640.55 69.18L640.7 67.69L640.84 66.19L641.01 64.45L641.17 62.96L641.36 61.22L641.53 59.73L641.72 57.99L641.9 56.5L642.1 54.76L642.28 53.27L642.49 51.54L642.67 50.05L642.87 48.56L643.13 46.83L643.39 45.35L643.72 43.63L644.03 42.17L644.49 40.48L644.98 39.07L645.71 37.49L646.55 36.26L647.81 35.08L649.07 34.3" class="blu"/>
</g>
<rect x="581.3" y="24.3" width="99.4" height="84.6" class="ax"/>
<path d="M589.58 108.9v-1.6M589.58 24.3v1.6M631 108.9v-1.6M631 24.3v1.6M672.42 108.9v-1.6M672.42 24.3v1.6M581.3 108.9h1.6M680.7 108.9h-1.6M581.3 87.75h1.6M680.7 87.75h-1.6M581.3 66.6h1.6M680.7 66.6h-1.6M581.3 45.45h1.6M680.7 45.45h-1.6M581.3 24.3h1.6M680.7 24.3h-1.6" class="tk"/>
<text x="589.58" y="123.9" text-anchor="middle" class="tl">-5</text>
<text x="631" y="123.9" text-anchor="middle" class="tl">0</text>
<text x="672.42" y="123.9" text-anchor="middle" class="tl">5</text>
<text x="575.4" y="114.9" text-anchor="end" class="tl">-40</text>
<text x="575.4" y="93.75" text-anchor="end" class="tl">-20</text>
<text x="575.4" y="72.6" text-anchor="end" class="tl">0</text>
<text x="575.4" y="51.45" text-anchor="end" class="tl">20</text>
<text x="575.4" y="30.3" text-anchor="end" class="tl">40</text>
<text x="586.5" y="37.8" class="pl">La</text>
<text x="675.5" y="105.7" text-anchor="end" class="pl">Ref.9</text>
<g clip-path="url(#c10)">
<path d="M135.65 143.4L134.17 143.68L132.45 143.99L130.98 144.26L129.25 144.57L127.78 144.83L126.3 145.08L124.57 145.37L123.09 145.61L121.36 145.9L119.88 146.14L118.16 146.42L116.68 146.66L115.19 146.9L113.47 147.19L111.99 147.46L110.28 147.81L108.81 148.12L107.35 148.45L105.64 148.83L104.17 149.15L102.46 149.5L100.99 149.78L99.51 150.06L97.8 150.42L96.34 150.76L94.66 151.25L93.3 151.84L91.93 152.87L90.98 154.01L90.25 155.31L89.64 156.94L89.25 158.39L88.87 160.1L88.6 161.57L88.35 163.05L88.08 164.78L87.87 166.26L87.63 168L87.44 169.49L87.25 170.97L87.02 172.71L86.83 174.2L86.6 175.93L86.41 177.42L86.21 178.91L85.97 180.64L85.75 182.12L85.48 183.85L85.24 185.33L84.95 187.06L84.68 188.53L84.39 190L84.03 191.72L83.71 193.18L83.29 194.88L82.88 196.32L82.43 197.76L81.88 199.41L81.35 200.82L80.62 202.4L79.8 203.63L78.71 204.59L77.14 205.31L75.72 205.77L74.03 206.21L72.56 206.54L70.85 206.91L69.39 207.22L67.92 207.54L66.21 207.9L64.74 208.2L63.02 208.56L61.55 208.86L62.99 208.64L64.72 208.38L66.2 208.14L67.93 207.86L69.4 207.6L71.12 207.27L72.59 206.96L74.3 206.58L75.76 206.25L77.47 205.88L78.94 205.57L80.66 205.23L82.13 204.94L83.84 204.6L85.31 204.3L87.03 203.95L88.5 203.64L90.21 203.27L91.67 202.95L93.38 202.57L94.85 202.25L96.55 201.87L98.02 201.54L99.47 201.19L101.15 200.68L102.54 200.14L104.1 199.35L105.33 198.5L106.58 197.3L107.46 196.1L108.26 194.56L108.8 193.16L109.34 191.5L109.75 190.05L110.17 188.36L110.49 186.89L110.82 185.17L111.07 183.69L111.35 181.97L111.59 180.48L111.87 178.76L112.11 177.28L112.4 175.55L112.64 174.07L112.93 172.34L113.18 170.87L113.46 169.14L113.7 167.66L113.93 166.18L114.22 164.45L114.48 162.97L114.81 161.25L115.12 159.79L115.51 158.08L115.89 156.63L116.4 154.96L116.9 153.55L117.58 151.93L118.29 150.62L119.34 149.23L120.4 148.19L121.8 147.15L123.09 146.38L124.67 145.63L126.07 145.11L127.75 144.62L129.21 144.3L130.93 144.01L132.42 143.8L134.16 143.59L135.65 143.4Z" class="red"/>
<path d="M135.65 143.4L134.17 143.68L132.45 143.99L130.98 144.26L129.25 144.57L127.78 144.83L126.3 145.08L124.57 145.37L123.09 145.61L121.36 145.9L119.88 146.14L118.16 146.42L116.68 146.66L115.19 146.9L113.47 147.19L111.99 147.46L110.28 147.81L108.81 148.12L107.35 148.45L105.64 148.83L104.17 149.15L102.46 149.5L100.99 149.78L99.51 150.06L97.8 150.42L96.34 150.76L94.66 151.25L93.3 151.84L91.93 152.87L90.98 154.01L90.25 155.31L89.64 156.94L89.25 158.39L88.87 160.1L88.6 161.57L88.35 163.05L88.08 164.78L87.87 166.26L87.63 168L87.44 169.49L87.25 170.97L87.02 172.71L86.83 174.2L86.6 175.93L86.41 177.42L86.21 178.91L85.97 180.64L85.75 182.12L85.48 183.85L85.24 185.33L84.95 187.06L84.68 188.53L84.39 190L84.03 191.72L83.71 193.18L83.29 194.88L82.88 196.32L82.43 197.76L81.88 199.41L81.35 200.82L80.62 202.4L79.8 203.63L78.71 204.59L77.14 205.31L75.72 205.77L74.03 206.21L72.56 206.54L70.85 206.91L69.39 207.22L67.92 207.54L66.21 207.9L64.74 208.2L63.02 208.56L61.55 208.86L62.99 208.64L64.72 208.38L66.2 208.14L67.93 207.86L69.4 207.6L71.12 207.27L72.59 206.96L74.3 206.58L75.76 206.25L77.47 205.88L78.94 205.57L80.66 205.23L82.13 204.94L83.84 204.6L85.31 204.3L87.03 203.95L88.5 203.64L90.21 203.27L91.67 202.95L93.38 202.57L94.85 202.25L96.55 201.87L98.02 201.54L99.47 201.19L101.15 200.68L102.54 200.14L104.1 199.35L105.33 198.5L106.58 197.3L107.46 196.1L108.26 194.56L108.8 193.16L109.34 191.5L109.75 190.05L110.17 188.36L110.49 186.89L110.82 185.17L111.07 183.69L111.35 181.97L111.59 180.48L111.87 178.76L112.11 177.28L112.4 175.55L112.64 174.07L112.93 172.34L113.18 170.87L113.46 169.14L113.7 167.66L113.93 166.18L114.22 164.45L114.48 162.97L114.81 161.25L115.12 159.79L115.51 158.08L115.89 156.63L116.4 154.96L116.9 153.55L117.58 151.93L118.29 150.62L119.34 149.23L120.4 148.19L121.8 147.15L123.09 146.38L124.67 145.63L126.07 145.11L127.75 144.62L129.21 144.3L130.93 144.01L132.42 143.8L134.16 143.59L135.65 143.4Z" class="blk"/>
<path d="M135.65 143.4L134.17 143.68L132.45 143.99L130.98 144.26L129.25 144.57L127.78 144.83L126.3 145.08L124.57 145.37L123.09 145.61L121.36 145.9L119.88 146.14L118.16 146.42L116.68 146.66L115.19 146.9L113.47 147.19L111.99 147.46L110.28 147.81L108.81 148.12L107.35 148.45L105.64 148.83L104.17 149.15L102.46 149.5L100.99 149.78L99.51 150.06L97.8 150.42L96.34 150.76L94.66 151.25L93.3 151.84L91.93 152.87L90.98 154.01L90.25 155.31L89.64 156.94L89.25 158.39L88.87 160.1L88.6 161.57L88.35 163.05L88.08 164.78L87.87 166.26L87.63 168L87.44 169.49L87.25 170.97L87.02 172.71L86.83 174.2L86.6 175.93L86.41 177.42L86.21 178.91L85.97 180.64L85.75 182.12L85.48 183.85L85.24 185.33L84.95 187.06L84.68 188.53L84.39 190L84.03 191.72L83.71 193.18L83.29 194.88L82.88 196.32L82.43 197.76L81.88 199.41L81.35 200.82L80.62 202.4L79.8 203.63L78.71 204.59M61.51 208.87L62.99 208.64L64.72 208.38L66.2 208.14L67.93 207.86L69.4 207.6L71.12 207.27L72.59 206.96L74.3 206.58L75.76 206.25L77.47 205.88L78.94 205.57L80.66 205.23L82.13 204.94L83.84 204.6L85.31 204.3L87.03 203.95L88.5 203.64L90.21 203.27L91.67 202.95L93.38 202.57L94.85 202.25L96.55 201.87L98.02 201.54L99.47 201.19L101.15 200.68L102.54 200.14L104.1 199.35L105.33 198.5L106.58 197.3L107.46 196.1L108.26 194.56L108.8 193.16L109.34 191.5L109.75 190.05L110.17 188.36L110.49 186.89L110.82 185.17L111.07 183.69L111.35 181.97L111.59 180.48L111.87 178.76L112.11 177.28L112.4 175.55L112.64 174.07L112.93 172.34L113.18 170.87L113.46 169.14L113.7 167.66L113.93 166.18L114.22 164.45L114.48 162.97L114.81 161.25L115.12 159.79L115.51 158.08L115.89 156.63L116.4 154.96L116.9 153.55L117.58 151.93L118.29 150.62L119.34 149.23L120.4 148.19L121.8 147.15L123.09 146.38" class="blu"/>
</g>
<rect x="49.4" y="133.4" width="99.4" height="84.7" class="ax"/>
<path d="M49.4 218.1v-1.6M49.4 133.4v1.6M74.25 218.1v-1.6M74.25 133.4v1.6M99.1 218.1v-1.6M99.1 133.4v1.6M123.95 218.1v-1.6M123.95 133.4v1.6M148.8 218.1v-1.6M148.8 133.4v1.6M49.4 199.95h1.6M148.8 199.95h-1.6M49.4 175.75h1.6M148.8 175.75h-1.6M49.4 151.55h1.6M148.8 151.55h-1.6" class="tk"/>
<text x="49.4" y="233.1" text-anchor="middle" class="tl">-4</text>
<text x="74.25" y="233.1" text-anchor="middle" class="tl">-2</text>
<text x="99.1" y="233.1" text-anchor="middle" class="tl">0</text>
<text x="123.95" y="233.1" text-anchor="middle" class="tl">2</text>
<text x="148.8" y="233.1" text-anchor="middle" class="tl">4</text>
<text x="43.5" y="205.95" text-anchor="end" class="tl">-20</text>
<text x="43.5" y="181.75" text-anchor="end" class="tl">0</text>
<text x="43.5" y="157.55" text-anchor="end" class="tl">20</text>
<text x="54.6" y="146.9" class="pl">Si</text>
<text x="143.6" y="214.9" text-anchor="end" class="pl">Ref.10</text>
<g clip-path="url(#c11)">
<path d="M265.87 141.1L264.23 141.72L262.83 142.25L261.19 142.86L259.79 143.4L258.15 144.02L256.75 144.55L255.11 145.17L253.71 145.71L252.09 146.35L250.69 146.9L249.07 147.56L247.68 148.12L246.07 148.8L244.69 149.39L243.09 150.11L241.73 150.74L240.16 151.51L238.82 152.19L237.28 153.01L235.96 153.73L234.44 154.6L233.17 155.39L231.74 156.39L230.58 157.34L229.33 158.56L228.35 159.69L227.31 161.09L226.5 162.36L225.64 163.88L224.98 165.23L224.27 166.82L223.71 168.22L223.12 169.86L222.64 171.28L222.1 172.95L221.66 174.38L221.18 176.06L220.79 177.51L220.33 179.2L219.95 180.65L219.52 182.35L219.14 183.8L218.7 185.49L218.31 186.94L217.84 188.63L217.43 190.07L216.91 191.74L216.43 193.16L215.81 194.8L215.23 196.18L214.5 197.77L213.82 199.11L212.94 200.62L212.12 201.87L211.05 203.25L210.02 204.34L208.69 205.47L207.47 206.33L205.98 207.25L204.66 207.94L203.06 208.66L201.68 209.21L200.13 209.82L201.46 209.13L203.02 208.33L204.37 207.67L205.96 206.95L207.34 206.37L208.97 205.73L210.37 205.18L211.99 204.53L213.38 203.95L214.98 203.25L216.35 202.64L217.95 201.93L219.32 201.33L220.7 200.73L222.31 200.05L223.69 199.45L225.28 198.72L226.62 198.05L228.16 197.22L229.47 196.49L230.99 195.62L232.28 194.86L233.79 193.98L235.09 193.22L236.57 192.3L237.8 191.43L238.96 190.49L240.25 189.31L241.27 188.21L242.36 186.85L243.19 185.6L244.05 184.08L244.71 182.73L245.42 181.13L245.97 179.74L246.54 178.09L246.99 176.66L247.4 175.21L247.85 173.52L248.21 172.07L248.62 170.37L248.97 168.91L249.37 167.2L249.72 165.74L250.14 164.04L250.52 162.59L250.99 160.91L251.41 159.47L251.94 157.8L252.44 156.39L252.98 154.99L253.66 153.38L254.3 152.02L255.11 150.47L255.88 149.19L256.87 147.74L257.8 146.57L259.02 145.33L260.19 144.39L261.63 143.41L262.91 142.63L264.45 141.8L265.8 141.14Z" class="red"/>
<path d="M265.87 141.1L264.23 141.72L262.83 142.25L261.19 142.86L259.79 143.4L258.15 144.02L256.75 144.55L255.11 145.17L253.71 145.71L252.09 146.35L250.69 146.9L249.07 147.56L247.68 148.12L246.07 148.8L244.69 149.39L243.09 150.11L241.73 150.74L240.16 151.51L238.82 152.19L237.28 153.01L235.96 153.73L234.44 154.6L233.17 155.39L231.74 156.39L230.58 157.34L229.33 158.56L228.35 159.69L227.31 161.09L226.5 162.36L225.64 163.88L224.98 165.23L224.27 166.82L223.71 168.22L223.12 169.86L222.64 171.28L222.1 172.95L221.66 174.38L221.18 176.06L220.79 177.51L220.33 179.2L219.95 180.65L219.52 182.35L219.14 183.8L218.7 185.49L218.31 186.94L217.84 188.63L217.43 190.07L216.91 191.74L216.43 193.16L215.81 194.8L215.23 196.18L214.5 197.77L213.82 199.11L212.94 200.62L212.12 201.87L211.05 203.25L210.02 204.34L208.69 205.47L207.47 206.33L205.98 207.25L204.66 207.94L203.06 208.66L201.68 209.21L200.13 209.82L201.46 209.13L203.02 208.33L204.37 207.67L205.96 206.95L207.34 206.37L208.97 205.73L210.37 205.18L211.99 204.53L213.38 203.95L214.98 203.25L216.35 202.64L217.95 201.93L219.32 201.33L220.7 200.73L222.31 200.05L223.69 199.45L225.28 198.72L226.62 198.05L228.16 197.22L229.47 196.49L230.99 195.62L232.28 194.86L233.79 193.98L235.09 193.22L236.57 192.3L237.8 191.43L238.96 190.49L240.25 189.31L241.27 188.21L242.36 186.85L243.19 185.6L244.05 184.08L244.71 182.73L245.42 181.13L245.97 179.74L246.54 178.09L246.99 176.66L247.4 175.21L247.85 173.52L248.21 172.07L248.62 170.37L248.97 168.91L249.37 167.2L249.72 165.74L250.14 164.04L250.52 162.59L250.99 160.91L251.41 159.47L251.94 157.8L252.44 156.39L252.98 154.99L253.66 153.38L254.3 152.02L255.11 150.47L255.88 149.19L256.87 147.74L257.8 146.57L259.02 145.33L260.19 144.39L261.63 143.41L262.91 142.63L264.45 141.8L265.8 141.14ZM195.39 212.53L200.13 209.82M265.87 141.1L275.36 136.36" class="blk"/>
<path d="M265.87 141.1L264.23 141.72L262.83 142.25L261.19 142.86L259.79 143.4L258.15 144.02L256.75 144.55L255.11 145.17L253.71 145.71L252.09 146.35L250.69 146.9L249.07 147.56L247.68 148.12L246.07 148.8L244.69 149.39L243.09 150.11L241.73 150.74L240.16 151.51L238.82 152.19L237.28 153.01L235.96 153.73L234.44 154.6L233.17 155.39L231.74 156.39L230.58 157.34L229.33 158.56L228.35 159.69L227.31 161.09L226.5 162.36L225.64 163.88L224.98 165.23L224.27 166.82L223.71 168.22L223.12 169.86L222.64 171.28L222.1 172.95L221.66 174.38L221.18 176.06L220.79 177.51L220.33 179.2L219.95 180.65L219.52 182.35L219.14 183.8L218.7 185.49L218.31 186.94L217.84 188.63L217.43 190.07L216.91 191.74L216.43 193.16L215.81 194.8L215.23 196.18L214.5 197.77L213.82 199.11L212.94 200.62L212.12 201.87L211.05 203.25L210.02 204.34M200.13 209.82L201.46 209.13L203.02 208.33L204.37 207.67L205.96 206.95L207.34 206.37L208.97 205.73L210.37 205.18L211.99 204.53L213.38 203.95L214.98 203.25L216.35 202.64L217.95 201.93L219.32 201.33L220.7 200.73L222.31 200.05L223.69 199.45L225.28 198.72L226.62 198.05L228.16 197.22L229.47 196.49L230.99 195.62L232.28 194.86L233.79 193.98L235.09 193.22L236.57 192.3L237.8 191.43L238.96 190.49L240.25 189.31L241.27 188.21L242.36 186.85L243.19 185.6L244.05 184.08L244.71 182.73L245.42 181.13L245.97 179.74L246.54 178.09L246.99 176.66L247.4 175.21L247.85 173.52L248.21 172.07L248.62 170.37L248.97 168.91L249.37 167.2L249.72 165.74L250.14 164.04L250.52 162.59L250.99 160.91L251.41 159.47L251.94 157.8L252.44 156.39L252.98 154.99L253.66 153.38L254.3 152.02L255.11 150.47L255.88 149.19L256.87 147.74L257.8 146.57L259.02 145.33L260.19 144.39" class="blu"/>
</g>
<rect x="182.4" y="133.4" width="99.4" height="84.7" class="ax"/>
<path d="M182.4 218.1v-1.6M182.4 133.4v1.6M232.1 218.1v-1.6M232.1 133.4v1.6M281.8 218.1v-1.6M281.8 133.4v1.6M182.4 199.95h1.6M281.8 199.95h-1.6M182.4 175.75h1.6M281.8 175.75h-1.6M182.4 151.55h1.6M281.8 151.55h-1.6" class="tk"/>
<text x="182.4" y="233.1" text-anchor="middle" class="tl">-5</text>
<text x="232.1" y="233.1" text-anchor="middle" class="tl">0</text>
<text x="281.8" y="233.1" text-anchor="middle" class="tl">5</text>
<text x="176.5" y="205.95" text-anchor="end" class="tl">-20</text>
<text x="176.5" y="181.75" text-anchor="end" class="tl">0</text>
<text x="176.5" y="157.55" text-anchor="end" class="tl">20</text>
<text x="187.6" y="146.9" class="pl">Si</text>
<text x="276.6" y="214.9" text-anchor="end" class="pl">Ref.11</text>
<g clip-path="url(#c12)">
<path d="M403.61 139.07L402.18 139.5L400.5 140.01L399.07 140.44L397.39 140.94L395.95 141.36L394.27 141.84L392.82 142.25L391.14 142.73L389.7 143.13L388.01 143.59L386.56 143.98L384.87 144.43L383.42 144.81L381.73 145.26L380.28 145.65L378.59 146.11L377.14 146.5L375.69 146.9L374.01 147.39L372.58 147.84L370.93 148.42L369.54 148.96L367.95 149.7L366.67 150.46L365.3 151.54L364.25 152.6L363.18 153.98L362.38 155.25L361.6 156.81L361.01 158.18L360.42 159.83L359.98 161.26L359.54 162.96L359.22 164.42L358.94 165.89L358.64 167.62L358.39 169.1L358.12 170.83L357.89 172.31L357.63 174.04L357.41 175.52L357.16 177.26L356.93 178.74L356.65 180.47L356.41 181.95L356.13 183.67L355.87 185.15L355.57 186.87L355.3 188.35L354.98 190.07L354.7 191.54L354.33 193.25L353.98 194.71L353.6 196.16L353.12 197.85L352.66 199.27L352.06 200.91L351.44 202.28L350.59 203.8L349.73 205.03L348.55 206.31L347.39 207.24L345.87 208.09L344.51 208.71L342.91 209.43L341.56 210.08L340 210.86L338.65 211.53L337.11 212.31L335.84 212.94L337.23 212.36L338.85 211.7L340.24 211.14L341.87 210.51L343.29 210.02L344.72 209.57L346.4 209.08L347.84 208.66L349.51 208.14L350.93 207.65L352.57 207.05L353.98 206.53L355.39 206.03L357.06 205.49L358.5 205.08L360.19 204.62L361.63 204.22L363.08 203.82L364.76 203.33L366.19 202.88L367.83 202.28L369.18 201.63L370.63 200.68L371.79 199.73L372.86 198.69L373.97 197.34L374.77 196.08L375.53 194.51L376.08 193.12L376.56 191.69L377.04 190.01L377.4 188.56L377.78 186.85L378.08 185.38L378.36 183.91L378.66 182.18L378.9 180.7L379.17 178.97L379.41 177.49L379.69 175.76L379.93 174.28L380.17 172.8L380.45 171.08L380.72 169.6L381.04 167.88L381.34 166.41L381.64 164.94L382.02 163.23L382.36 161.77L382.78 160.07L383.17 158.62L383.65 156.94L384.1 155.51L384.61 154.1L385.27 152.48L385.9 151.12L386.73 149.58L387.53 148.32L388.4 147.1L389.5 145.74L390.54 144.65L391.85 143.51L393.07 142.64L394.57 141.75L395.92 141.1L397.32 140.56L398.99 140.06L400.45 139.72L402.16 139.36L403.61 139.07Z" class="red"/>
<path d="M403.61 139.07L402.18 139.5L400.5 140.01L399.07 140.44L397.39 140.94L395.95 141.36L394.27 141.84L392.82 142.25L391.14 142.73L389.7 143.13L388.01 143.59L386.56 143.98L384.87 144.43L383.42 144.81L381.73 145.26L380.28 145.65L378.59 146.11L377.14 146.5L375.69 146.9L374.01 147.39L372.58 147.84L370.93 148.42L369.54 148.96L367.95 149.7L366.67 150.46L365.3 151.54L364.25 152.6L363.18 153.98L362.38 155.25L361.6 156.81L361.01 158.18L360.42 159.83L359.98 161.26L359.54 162.96L359.22 164.42L358.94 165.89L358.64 167.62L358.39 169.1L358.12 170.83L357.89 172.31L357.63 174.04L357.41 175.52L357.16 177.26L356.93 178.74L356.65 180.47L356.41 181.95L356.13 183.67L355.87 185.15L355.57 186.87L355.3 188.35L354.98 190.07L354.7 191.54L354.33 193.25L353.98 194.71L353.6 196.16L353.12 197.85L352.66 199.27L352.06 200.91L351.44 202.28L350.59 203.8L349.73 205.03L348.55 206.31L347.39 207.24L345.87 208.09L344.51 208.71L342.91 209.43L341.56 210.08L340 210.86L338.65 211.53L337.11 212.31L335.84 212.94L337.23 212.36L338.85 211.7L340.24 211.14L341.87 210.51L343.29 210.02L344.72 209.57L346.4 209.08L347.84 208.66L349.51 208.14L350.93 207.65L352.57 207.05L353.98 206.53L355.39 206.03L357.06 205.49L358.5 205.08L360.19 204.62L361.63 204.22L363.08 203.82L364.76 203.33L366.19 202.88L367.83 202.28L369.18 201.63L370.63 200.68L371.79 199.73L372.86 198.69L373.97 197.34L374.77 196.08L375.53 194.51L376.08 193.12L376.56 191.69L377.04 190.01L377.4 188.56L377.78 186.85L378.08 185.38L378.36 183.91L378.66 182.18L378.9 180.7L379.17 178.97L379.41 177.49L379.69 175.76L379.93 174.28L380.17 172.8L380.45 171.08L380.72 169.6L381.04 167.88L381.34 166.41L381.64 164.94L382.02 163.23L382.36 161.77L382.78 160.07L383.17 158.62L383.65 156.94L384.1 155.51L384.61 154.1L385.27 152.48L385.9 151.12L386.73 149.58L387.53 148.32L388.4 147.1L389.5 145.74L390.54 144.65L391.85 143.51L393.07 142.64L394.57 141.75L395.92 141.1L397.32 140.56L398.99 140.06L400.45 139.72L402.16 139.36L403.61 139.07Z" class="blk"/>
<path d="M403.61 139.07L402.18 139.5L400.5 140.01L399.07 140.44L397.39 140.94L395.95 141.36L394.27 141.84L392.82 142.25L391.14 142.73L389.7 143.13L388.01 143.59L386.56 143.98L384.87 144.43L383.42 144.81L381.73 145.26L380.28 145.65L378.59 146.11L377.14 146.5L375.69 146.9L374.01 147.39L372.58 147.84L370.93 148.42L369.54 148.96L367.95 149.7L366.67 150.46L365.3 151.54L364.25 152.6L363.18 153.98L362.38 155.25L361.6 156.81L361.01 158.18L360.42 159.83L359.98 161.26L359.54 162.96L359.22 164.42L358.94 165.89L358.64 167.62L358.39 169.1L358.12 170.83L357.89 172.31L357.63 174.04L357.41 175.52L357.16 177.26L356.93 178.74L356.65 180.47L356.41 181.95L356.13 183.67L355.87 185.15L355.57 186.87L355.3 188.35L354.98 190.07L354.7 191.54L354.33 193.25L353.98 194.71L353.6 196.16L353.12 197.85L352.66 199.27L352.06 200.91L351.44 202.28L350.59 203.8L349.73 205.03L348.55 206.31L347.39 207.24L345.87 208.09M335.84 212.94L337.23 212.36L338.85 211.7L340.24 211.14L341.87 210.51L343.29 210.02L344.72 209.57L346.4 209.08L347.84 208.66L349.51 208.14L350.93 207.65L352.57 207.05L353.98 206.53L355.39 206.03L357.06 205.49L358.5 205.08L360.19 204.62L361.63 204.22L363.08 203.82L364.76 203.33L366.19 202.88L367.83 202.28L369.18 201.63L370.63 200.68L371.79 199.73L372.86 198.69L373.97 197.34L374.77 196.08L375.53 194.51L376.08 193.12L376.56 191.69L377.04 190.01L377.4 188.56L377.78 186.85L378.08 185.38L378.36 183.91L378.66 182.18L378.9 180.7L379.17 178.97L379.41 177.49L379.69 175.76L379.93 174.28L380.17 172.8L380.45 171.08L380.72 169.6L381.04 167.88L381.34 166.41L381.64 164.94L382.02 163.23L382.36 161.77L382.78 160.07L383.17 158.62L383.65 156.94L384.1 155.51L384.61 154.1L385.27 152.48L385.9 151.12L386.73 149.58L387.53 148.32L388.4 147.1L389.5 145.74L390.54 144.65L391.85 143.51" class="blu"/>
</g>
<rect x="315.4" y="133.4" width="99.4" height="84.7" class="ax"/>
<path d="M326.44 218.1v-1.6M326.44 133.4v1.6M348.53 218.1v-1.6M348.53 133.4v1.6M370.62 218.1v-1.6M370.62 133.4v1.6M392.71 218.1v-1.6M392.71 133.4v1.6M414.8 218.1v-1.6M414.8 133.4v1.6M315.4 199.95h1.6M414.8 199.95h-1.6M315.4 175.75h1.6M414.8 175.75h-1.6M315.4 151.55h1.6M414.8 151.55h-1.6" class="tk"/>
<text x="326.44" y="233.1" text-anchor="middle" class="tl">-4</text>
<text x="348.53" y="233.1" text-anchor="middle" class="tl">-2</text>
<text x="370.62" y="233.1" text-anchor="middle" class="tl">0</text>
<text x="392.71" y="233.1" text-anchor="middle" class="tl">2</text>
<text x="414.8" y="233.1" text-anchor="middle" class="tl">4</text>
<text x="309.5" y="205.95" text-anchor="end" class="tl">-20</text>
<text x="309.5" y="181.75" text-anchor="end" class="tl">0</text>
<text x="309.5" y="157.55" text-anchor="end" class="tl">20</text>
<text x="320.6" y="146.9" class="pl">Si</text>
<text x="409.6" y="214.9" text-anchor="end" class="pl">Ref.1</text>
<g clip-path="url(#c13)">
<path d="M525.21 147.88L523.86 148.53L522.29 149.29L520.93 149.94L519.35 150.69L517.99 151.32L516.39 152.04L515.02 152.64L513.42 153.34L512.04 153.93L510.42 154.59L509.02 155.14L507.39 155.78L506 156.34L504.39 157.01L503.01 157.6L501.4 158.3L500.03 158.91L498.44 159.64L497.08 160.27L495.51 161.05L494.21 161.78L492.75 162.75L491.57 163.67L490.27 164.83L489.22 165.9L488.09 167.24L487.2 168.44L486.26 169.92L485.55 171.24L484.8 172.82L484.2 174.19L483.55 175.81L483.02 177.22L482.42 178.86L481.91 180.27L481.32 181.92L480.82 183.34L480.23 184.98L479.71 186.39L479.09 188.03L478.56 189.43L477.91 191.05L477.33 192.44L476.6 194.03L475.94 195.37L475.11 196.91L474.31 198.18L473.23 199.55L472.2 200.63L470.94 201.82L469.91 202.77L471.24 202.09L472.8 201.29L474.14 200.61L475.71 199.85L477.08 199.22L478.69 198.55L480.09 198.01L481.72 197.37L483.11 196.81L484.72 196.12L486.09 195.51L487.46 194.89L489.04 194.14L490.38 193.48L491.94 192.68L493.27 191.99L494.81 191.15L496.12 190.42L497.62 189.52L498.89 188.73L500.14 187.9L501.57 186.89L502.74 185.96L504.05 184.8L505.1 183.73L506.22 182.39L507.06 181.15L507.91 179.63L508.58 178.28L509.31 176.69L509.9 175.32L510.45 173.92L511.05 172.28L511.52 170.85L512.07 169.19L512.53 167.76L513.06 166.1L513.51 164.67L514.07 163.01L514.59 161.6L515.17 160.22L515.92 158.64L516.61 157.31L517.5 155.8L518.32 154.55L519.36 153.15L520.34 152.01L521.58 150.78L522.72 149.81L524.09 148.74L525.21 147.88Z" class="red"/>
<path d="M545 136.63L543.71 137.4L542.21 138.29L540.92 139.06L539.42 139.96L538.13 140.72L536.62 141.61L535.32 142.36L533.81 143.24L532.51 143.98L531.2 144.72L529.67 145.58L528.35 146.29L526.8 147.09L525.44 147.74L523.85 148.47L522.49 149.09L520.91 149.84L519.55 150.47L518.19 151.1L516.59 151.81L515.21 152.4L513.59 153.07L512.19 153.62L510.57 154.26L509.17 154.81L507.78 155.36L506.15 156L504.75 156.56L503.13 157.22L501.75 157.79L500.14 158.48L498.77 159.09L497.18 159.82L495.82 160.46L494.48 161.13L492.93 161.95L491.66 162.74L490.27 163.79L489.18 164.81L488 166.11L487.09 167.29L486.12 168.75L485.36 170.04L484.67 171.37L483.92 172.95L483.33 174.33L482.68 175.95L482.16 177.36L481.58 179.01L481.09 180.43L480.5 182.08L479.98 183.48L479.45 184.89L478.83 186.52L478.29 187.92L477.67 189.56L477.14 190.96L476.49 192.59L475.9 193.96L475.25 195.31L474.41 196.85L473.64 198.14L472.67 199.59L471.76 200.78L470.62 202.11L469.57 203.17L468.27 204.35L467.12 205.3L465.93 206.22L464.51 207.24L463.27 208.09L461.81 209.06L460.55 209.87L459.07 210.8L457.8 211.6L456.32 212.52L455.04 213.32M455 213.34L456.27 212.54L457.74 211.6L459.01 210.79L460.49 209.86L461.75 209.06L463.24 208.13L464.5 207.32L465.99 206.39L467.28 205.63L468.61 204.94L470.2 204.22L471.59 203.66L473.23 203.04L474.63 202.5L476.26 201.86L477.65 201.32L479.28 200.67L480.67 200.11L482.06 199.53L483.66 198.83L485.02 198.21L486.61 197.47L487.97 196.83L489.55 196.09L490.91 195.46L492.27 194.82L493.85 194.06L495.19 193.39L496.73 192.56L498.03 191.81L499.52 190.9L500.78 190.09L502.21 189.08L503.4 188.16L504.54 187.19L505.79 185.97L506.78 184.85L507.83 183.45L508.61 182.18L509.38 180.61L509.97 179.23L510.63 177.61L511.18 176.21L511.71 174.81L512.3 173.16L512.8 171.75L513.37 170.09L513.85 168.67L514.4 167.01L514.86 165.58L515.4 163.92L515.89 162.5L516.43 161.1L517.1 159.49L517.72 158.12L518.51 156.56L519.25 155.26L520.18 153.77L521.04 152.55L522 151.4L523.27 150.2L524.45 149.29L525.89 148.29L527.15 147.47L528.63 146.55L529.91 145.77L531.4 144.85L532.67 144.05L533.94 143.25L535.43 142.33L536.71 141.55L538.21 140.65L539.5 139.88L541 138.99L542.29 138.23L543.79 137.34L545 136.63" class="blk"/>
<path d="M525.21 147.88L523.86 148.53L522.29 149.29L520.93 149.94L519.35 150.69L517.99 151.32L516.39 152.04L515.02 152.64L513.42 153.34L512.04 153.93L510.42 154.59L509.02 155.14L507.39 155.78L506 156.34L504.39 157.01L503.01 157.6L501.4 158.3L500.03 158.91L498.44 159.64L497.08 160.27L495.51 161.05L494.21 161.78L492.75 162.75L491.57 163.67L490.27 164.83L489.22 165.9L488.09 167.24L487.2 168.44L486.26 169.92L485.55 171.24L484.8 172.82L484.2 174.19L483.55 175.81L483.02 177.22L482.42 178.86L481.91 180.27L481.32 181.92L480.82 183.34L480.23 184.98L479.71 186.39L479.09 188.03L478.56 189.43L477.91 191.05L477.33 192.44L476.6 194.03L475.94 195.37L475.11 196.91L474.31 198.18L473.23 199.55L472.2 200.63M469.91 202.77L471.24 202.09L472.8 201.29L474.14 200.61L475.71 199.85L477.08 199.22L478.69 198.55L480.09 198.01L481.72 197.37L483.11 196.81L484.72 196.12L486.09 195.51L487.46 194.89L489.04 194.14L490.38 193.48L491.94 192.68L493.27 191.99L494.81 191.15L496.12 190.42L497.62 189.52L498.89 188.73L500.14 187.9L501.57 186.89L502.74 185.96L504.05 184.8L505.1 183.73L506.22 182.39L507.06 181.15L507.91 179.63L508.58 178.28L509.31 176.69L509.9 175.32L510.45 173.92L511.05 172.28L511.52 170.85L512.07 169.19L512.53 167.76L513.06 166.1L513.51 164.67L514.07 163.01L514.59 161.6L515.17 160.22L515.92 158.64L516.61 157.31L517.5 155.8L518.32 154.55L519.36 153.15L520.34 152.01L521.58 150.78" class="blu"/>
</g>
<rect x="448.3" y="133.4" width="99.4" height="84.7" class="ax"/>
<path d="M456.58 218.1v-1.6M456.58 133.4v1.6M498 218.1v-1.6M498 133.4v1.6M539.42 218.1v-1.6M539.42 133.4v1.6M448.3 209.63h1.6M547.7 209.63h-1.6M448.3 175.75h1.6M547.7 175.75h-1.6M448.3 141.87h1.6M547.7 141.87h-1.6" class="tk"/>
<text x="456.58" y="233.1" text-anchor="middle" class="tl">-5</text>
<text x="498" y="233.1" text-anchor="middle" class="tl">0</text>
<text x="539.42" y="233.1" text-anchor="middle" class="tl">5</text>
<text x="442.4" y="215.63" text-anchor="end" class="tl">-20</text>
<text x="442.4" y="181.75" text-anchor="end" class="tl">0</text>
<text x="442.4" y="147.87" text-anchor="end" class="tl">20</text>
<text x="453.5" y="146.9" class="pl">Sr</text>
<text x="542.5" y="214.9" text-anchor="end" class="pl">Ref.13</text>
<g clip-path="url(#c14)">
<path d="M662.52 137.03L661.07 137.45L659.39 137.94L657.95 138.35L656.27 138.83L654.82 139.24L653.14 139.7L651.69 140.1L650.01 140.59L648.57 141.02L647.14 141.46L645.47 141.99L644.05 142.46L642.39 143.02L640.97 143.5L639.32 144.08L637.93 144.64L636.37 145.42L635.1 146.21L633.9 147.11L632.61 148.28L631.6 149.39L630.56 150.79L629.76 152.06L628.9 153.58L628.22 154.92L627.5 156.51L626.92 157.9L626.37 159.29L625.78 160.94L625.3 162.36L624.78 164.03L624.36 165.47L623.91 167.16L623.56 168.62L623.17 170.33L622.84 171.79L622.45 173.49L622.09 174.95L621.72 176.4L621.27 178.1L620.88 179.54L620.42 181.23L620.03 182.68L619.57 184.37L619.17 185.81L618.7 187.5L618.28 188.94L617.84 190.37L617.3 192.04L616.82 193.46L616.23 195.11L615.69 196.51L615.03 198.12L614.43 199.5L613.69 201.09L613.03 202.43L612.3 203.74L611.38 205.23L610.5 206.44L609.38 207.78L608.33 208.85L607.01 209.99L605.78 210.84L604.27 211.74L602.97 212.47L604.23 211.89L605.82 211.15L607.19 210.55L608.82 209.9L610.24 209.43L611.92 208.95L613.37 208.57L614.82 208.18L616.5 207.69L617.94 207.25L619.6 206.72L621.03 206.26L622.69 205.7L624.1 205.2L625.52 204.7L627.15 204.07L628.53 203.48L630.11 202.73L631.43 202.02L632.88 201.06L634.02 200.09L635.04 199L636.1 197.61L636.93 196.36L637.78 194.84L638.42 193.48L639.08 191.86L639.6 190.45L640.08 189.03L640.6 187.36L641.01 185.92L641.46 184.23L641.82 182.77L642.21 181.07L642.53 179.6L642.93 177.9L643.28 176.44L643.65 174.99L644.1 173.3L644.49 171.85L644.95 170.16L645.35 168.71L645.81 167.03L646.21 165.58L646.61 164.13L647.1 162.45L647.53 161.02L648.04 159.34L648.48 157.91L649.02 156.24L649.5 154.82L650.02 153.42L650.67 151.79L651.28 150.42L652.05 148.85L652.75 147.52L653.62 146.01L654.42 144.74L655.26 143.5L656.31 142.1L657.29 140.97L658.56 139.77L659.75 138.86L661.2 137.88L662.46 137.07Z" class="red"/>
<path d="M662.52 137.03L661.07 137.45L659.39 137.94L657.95 138.35L656.27 138.83L654.82 139.24L653.14 139.7L651.69 140.1L650.01 140.59L648.57 141.02L647.14 141.46L645.47 141.99L644.05 142.46L642.39 143.02L640.97 143.5L639.32 144.08L637.93 144.64L636.37 145.42L635.1 146.21L633.9 147.11L632.61 148.28L631.6 149.39L630.56 150.79L629.76 152.06L628.9 153.58L628.22 154.92L627.5 156.51L626.92 157.9L626.37 159.29L625.78 160.94L625.3 162.36L624.78 164.03L624.36 165.47L623.91 167.16L623.56 168.62L623.17 170.33L622.84 171.79L622.45 173.49L622.09 174.95L621.72 176.4L621.27 178.1L620.88 179.54L620.42 181.23L620.03 182.68L619.57 184.37L619.17 185.81L618.7 187.5L618.28 188.94L617.84 190.37L617.3 192.04L616.82 193.46L616.23 195.11L615.69 196.51L615.03 198.12L614.43 199.5L613.69 201.09L613.03 202.43L612.3 203.74L611.38 205.23L610.5 206.44L609.38 207.78L608.33 208.85L607.01 209.99L605.78 210.84L604.27 211.74L602.97 212.47L604.23 211.89L605.82 211.15L607.19 210.55L608.82 209.9L610.24 209.43L611.92 208.95L613.37 208.57L614.82 208.18L616.5 207.69L617.94 207.25L619.6 206.72L621.03 206.26L622.69 205.7L624.1 205.2L625.52 204.7L627.15 204.07L628.53 203.48L630.11 202.73L631.43 202.02L632.88 201.06L634.02 200.09L635.04 199L636.1 197.61L636.93 196.36L637.78 194.84L638.42 193.48L639.08 191.86L639.6 190.45L640.08 189.03L640.6 187.36L641.01 185.92L641.46 184.23L641.82 182.77L642.21 181.07L642.53 179.6L642.93 177.9L643.28 176.44L643.65 174.99L644.1 173.3L644.49 171.85L644.95 170.16L645.35 168.71L645.81 167.03L646.21 165.58L646.61 164.13L647.1 162.45L647.53 161.02L648.04 159.34L648.48 157.91L649.02 156.24L649.5 154.82L650.02 153.42L650.67 151.79L651.28 150.42L652.05 148.85L652.75 147.52L653.62 146.01L654.42 144.74L655.26 143.5L656.31 142.1L657.29 140.97L658.56 139.77L659.75 138.86L661.2 137.88L662.46 137.07ZM589.46 217.68L602.97 212.47M662.52 137.03L669.56 133.92" class="blk"/>
<path d="M662.52 137.03L661.07 137.45L659.39 137.94L657.95 138.35L656.27 138.83L654.82 139.24L653.14 139.7L651.69 140.1L650.01 140.59L648.57 141.02L647.14 141.46L645.47 141.99L644.05 142.46L642.39 143.02L640.97 143.5L639.32 144.08L637.93 144.64L636.37 145.42L635.1 146.21L633.9 147.11L632.61 148.28L631.6 149.39L630.56 150.79L629.76 152.06L628.9 153.58L628.22 154.92L627.5 156.51L626.92 157.9L626.37 159.29L625.78 160.94L625.3 162.36L624.78 164.03L624.36 165.47L623.91 167.16L623.56 168.62L623.17 170.33L622.84 171.79L622.45 173.49L622.09 174.95L621.72 176.4L621.27 178.1L620.88 179.54L620.42 181.23L620.03 182.68L619.57 184.37L619.17 185.81L618.7 187.5L618.28 188.94L617.84 190.37L617.3 192.04L616.82 193.46L616.23 195.11L615.69 196.51L615.03 198.12L614.43 199.5L613.69 201.09L613.03 202.43L612.3 203.74L611.38 205.23L610.5 206.44L609.38 207.78L608.33 208.85M602.88 212.53L604.23 211.89L605.82 211.15L607.19 210.55L608.82 209.9L610.24 209.43L611.92 208.95L613.37 208.57L614.82 208.18L616.5 207.69L617.94 207.25L619.6 206.72L621.03 206.26L622.69 205.7L624.1 205.2L625.52 204.7L627.15 204.07L628.53 203.48L630.11 202.73L631.43 202.02L632.88 201.06L634.02 200.09L635.04 199L636.1 197.61L636.93 196.36L637.78 194.84L638.42 193.48L639.08 191.86L639.6 190.45L640.08 189.03L640.6 187.36L641.01 185.92L641.46 184.23L641.82 182.77L642.21 181.07L642.53 179.6L642.93 177.9L643.28 176.44L643.65 174.99L644.1 173.3L644.49 171.85L644.95 170.16L645.35 168.71L645.81 167.03L646.21 165.58L646.61 164.13L647.1 162.45L647.53 161.02L648.04 159.34L648.48 157.91L649.02 156.24L649.5 154.82L650.02 153.42L650.67 151.79L651.28 150.42L652.05 148.85L652.75 147.52L653.62 146.01L654.42 144.74L655.26 143.5L656.31 142.1L657.29 140.97L658.56 139.77L659.75 138.86" class="blu"/>
</g>
<rect x="581.3" y="133.4" width="99.4" height="84.7" class="ax"/>
<path d="M601.18 218.1v-1.6M601.18 133.4v1.6M634.31 218.1v-1.6M634.31 133.4v1.6M667.45 218.1v-1.6M667.45 133.4v1.6M581.3 198.55h1.6M680.7 198.55h-1.6M581.3 172.49h1.6M680.7 172.49h-1.6M581.3 146.43h1.6M680.7 146.43h-1.6" class="tk"/>
<text x="601.18" y="233.1" text-anchor="middle" class="tl">-5</text>
<text x="634.31" y="233.1" text-anchor="middle" class="tl">0</text>
<text x="667.45" y="233.1" text-anchor="middle" class="tl">5</text>
<text x="575.4" y="204.55" text-anchor="end" class="tl">-20</text>
<text x="575.4" y="178.49" text-anchor="end" class="tl">0</text>
<text x="575.4" y="152.43" text-anchor="end" class="tl">20</text>
<text x="586.5" y="146.9" class="pl">Y</text>
<text x="675.5" y="214.9" text-anchor="end" class="pl">Ref.14</text>
<g clip-path="url(#c20)">
<path d="M141.07 256.69L139.66 257.2L138.01 257.8L136.6 258.31L134.96 258.91L133.55 259.43L131.91 260.05L130.51 260.58L128.88 261.21L127.48 261.75L125.85 262.38L124.45 262.92L122.81 263.54L121.41 264.07L120.01 264.61L118.38 265.24L116.98 265.79L115.35 266.43L113.96 266.98L112.33 267.63L110.94 268.19L109.32 268.85L107.93 269.42L106.31 270.08L104.92 270.65L103.54 271.23L101.94 271.93L100.57 272.54L98.98 273.27L97.65 273.96L96.18 274.9L95.04 275.86L93.9 277.18L93.08 278.43L92.28 279.98L91.71 281.36L91.19 282.77L90.65 284.43L90.24 285.87L89.8 287.57L89.45 289.03L89.07 290.74L88.75 292.2L88.41 293.92L88.13 295.39L87.8 297.11L87.5 298.58L87.17 300.3L86.87 301.77L86.57 303.24L86.23 304.95L85.94 306.43L85.57 308.14L85.18 309.58L84.64 311.24L84.06 312.63L83.17 314.1L82.12 315.14L80.63 316.01L79.26 316.62L77.66 317.32L76.29 317.93L74.92 318.53L73.31 319.24L71.95 319.85L70.36 320.59L69.02 321.26L67.46 322.06L66.13 322.76L64.59 323.58L63.27 324.29L61.73 325.12L60.42 325.82L61.79 325.2L63.38 324.47L64.75 323.86L66.34 323.14L67.71 322.53L69.32 321.83L70.7 321.25L72.32 320.58L73.7 320L75.32 319.34L76.71 318.76L78.32 318.09L79.7 317.5L81.09 316.92L82.7 316.25L84.09 315.68L85.71 315.03L87.11 314.49L88.75 313.87L90.15 313.34L91.79 312.71L93.19 312.17L94.81 311.53L96.21 310.98L97.6 310.42L99.22 309.77L100.61 309.2L102.24 308.55L103.63 307.98L105.25 307.32L106.63 306.74L108.23 306.03L109.58 305.38L111.12 304.55L112.4 303.77L113.62 302.9L114.96 301.78L115.97 300.69L116.9 299.23L117.47 297.85L117.97 296.18L118.34 294.72L118.74 293.02L119.05 291.55L119.38 289.83L119.65 288.36L119.95 286.63L120.2 285.15L120.44 283.67L120.72 281.95L120.97 280.47L121.28 278.74L121.54 277.27L121.86 275.55L122.15 274.08L122.53 272.37L122.9 270.91L123.39 269.24L123.9 267.83L124.66 266.26L125.49 265.02L126.5 263.92L127.84 262.81L129.09 262L130.64 261.17L131.99 260.54L133.59 259.82L134.97 259.22L136.58 258.54L137.96 257.97L139.58 257.3L140.97 256.73Z" class="red"/>
<path d="M141.07 256.69L139.66 257.2L138.01 257.8L136.6 258.31L134.96 258.91L133.55 259.43L131.91 260.05L130.51 260.58L128.88 261.21L127.48 261.75L125.85 262.38L124.45 262.92L122.81 263.54L121.41 264.07L120.01 264.61L118.38 265.24L116.98 265.79L115.35 266.43L113.96 266.98L112.33 267.63L110.94 268.19L109.32 268.85L107.93 269.42L106.31 270.08L104.92 270.65L103.54 271.23L101.94 271.93L100.57 272.54L98.98 273.27L97.65 273.96L96.18 274.9L95.04 275.86L93.9 277.18L93.08 278.43L92.28 279.98L91.71 281.36L91.19 282.77L90.65 284.43L90.24 285.87L89.8 287.57L89.45 289.03L89.07 290.74L88.75 292.2L88.41 293.92L88.13 295.39L87.8 297.11L87.5 298.58L87.17 300.3L86.87 301.77L86.57 303.24L86.23 304.95L85.94 306.43L85.57 308.14L85.18 309.58L84.64 311.24L84.06 312.63L83.17 314.1L82.12 315.14L80.63 316.01L79.26 316.62L77.66 317.32L76.29 317.93L74.92 318.53L73.31 319.24L71.95 319.85L70.36 320.59L69.02 321.26L67.46 322.06L66.13 322.76L64.59 323.58L63.27 324.29L61.73 325.12L60.42 325.82L61.79 325.2L63.38 324.47L64.75 323.86L66.34 323.14L67.71 322.53L69.32 321.83L70.7 321.25L72.32 320.58L73.7 320L75.32 319.34L76.71 318.76L78.32 318.09L79.7 317.5L81.09 316.92L82.7 316.25L84.09 315.68L85.71 315.03L87.11 314.49L88.75 313.87L90.15 313.34L91.79 312.71L93.19 312.17L94.81 311.53L96.21 310.98L97.6 310.42L99.22 309.77L100.61 309.2L102.24 308.55L103.63 307.98L105.25 307.32L106.63 306.74L108.23 306.03L109.58 305.38L111.12 304.55L112.4 303.77L113.62 302.9L114.96 301.78L115.97 300.69L116.9 299.23L117.47 297.85L117.97 296.18L118.34 294.72L118.74 293.02L119.05 291.55L119.38 289.83L119.65 288.36L119.95 286.63L120.2 285.15L120.44 283.67L120.72 281.95L120.97 280.47L121.28 278.74L121.54 277.27L121.86 275.55L122.15 274.08L122.53 272.37L122.9 270.91L123.39 269.24L123.9 267.83L124.66 266.26L125.49 265.02L126.5 263.92L127.84 262.81L129.09 262L130.64 261.17L131.99 260.54L133.59 259.82L134.97 259.22L136.58 258.54L137.96 257.97L139.58 257.3L140.97 256.73Z" class="blk"/>
<path d="M141.07 256.69L139.66 257.2L138.01 257.8L136.6 258.31L134.96 258.91L133.55 259.43L131.91 260.05L130.51 260.58L128.88 261.21L127.48 261.75L125.85 262.38L124.45 262.92L122.81 263.54L121.41 264.07L120.01 264.61L118.38 265.24L116.98 265.79L115.35 266.43L113.96 266.98L112.33 267.63L110.94 268.19L109.32 268.85L107.93 269.42L106.31 270.08L104.92 270.65L103.54 271.23L101.94 271.93L100.57 272.54L98.98 273.27L97.65 273.96L96.18 274.9L95.04 275.86L93.9 277.18L93.08 278.43L92.28 279.98L91.71 281.36L91.19 282.77L90.65 284.43L90.24 285.87L89.8 287.57L89.45 289.03L89.07 290.74L88.75 292.2L88.41 293.92L88.13 295.39L87.8 297.11L87.5 298.58L87.17 300.3L86.87 301.77L86.57 303.24L86.23 304.95L85.94 306.43L85.57 308.14L85.18 309.58L84.64 311.24L84.06 312.63L83.17 314.1L82.12 315.14L80.63 316.01M60.42 325.82L61.79 325.2L63.38 324.47L64.75 323.86L66.34 323.14L67.71 322.53L69.32 321.83L70.7 321.25L72.32 320.58L73.7 320L75.32 319.34L76.71 318.76L78.32 318.09L79.7 317.5L81.09 316.92L82.7 316.25L84.09 315.68L85.71 315.03L87.11 314.49L88.75 313.87L90.15 313.34L91.79 312.71L93.19 312.17L94.81 311.53L96.21 310.98L97.6 310.42L99.22 309.77L100.61 309.2L102.24 308.55L103.63 307.98L105.25 307.32L106.63 306.74L108.23 306.03L109.58 305.38L111.12 304.55L112.4 303.77L113.62 302.9L114.96 301.78L115.97 300.69L116.9 299.23L117.47 297.85L117.97 296.18L118.34 294.72L118.74 293.02L119.05 291.55L119.38 289.83L119.65 288.36L119.95 286.63L120.2 285.15L120.44 283.67L120.72 281.95L120.97 280.47L121.28 278.74L121.54 277.27L121.86 275.55L122.15 274.08L122.53 272.37L122.9 270.91L123.39 269.24L123.9 267.83L124.66 266.26L125.49 265.02L126.5 263.92L127.84 262.81" class="blu"/>
</g>
<rect x="49.4" y="249.2" width="99.4" height="83.8" class="ax"/>
<path d="M49.4 333v-1.6M49.4 249.2v1.6M99.1 333v-1.6M99.1 249.2v1.6M148.8 333v-1.6M148.8 249.2v1.6M49.4 324.62h1.6M148.8 324.62h-1.6M49.4 291.1h1.6M148.8 291.1h-1.6M49.4 257.58h1.6M148.8 257.58h-1.6" class="tk"/>
<text x="49.4" y="348" text-anchor="middle" class="tl">-5</text>
<text x="99.1" y="348" text-anchor="middle" class="tl">0</text>
<text x="148.8" y="348" text-anchor="middle" class="tl">5</text>
<text x="43.5" y="330.62" text-anchor="end" class="tl">-20</text>
<text x="43.5" y="297.1" text-anchor="end" class="tl">0</text>
<text x="43.5" y="263.58" text-anchor="end" class="tl">20</text>
<text x="54.6" y="262.7" class="pl">Y</text>
<text x="143.6" y="329.8" text-anchor="end" class="pl">Ref.15</text>
<g clip-path="url(#c21)">
<path d="M266.58 256.34L265.2 256.95L263.6 257.66L262.23 258.27L260.63 258.97L259.25 259.56L257.64 260.24L256.25 260.82L254.64 261.49L253.25 262.06L251.64 262.73L250.25 263.31L248.87 263.89L247.25 264.56L245.87 265.14L244.25 265.81L242.87 266.39L241.25 267.06L239.86 267.63L238.24 268.3L236.86 268.87L235.48 269.45L233.87 270.14L232.49 270.73L230.88 271.42L229.51 272.03L227.95 272.82L226.67 273.6L225.26 274.63L224.13 275.61L222.89 276.84L221.87 277.94L220.92 279.1L219.92 280.53L219.17 281.82L218.39 283.39L217.78 284.76L217.12 286.38L216.57 287.78L215.97 289.42L215.49 290.84L215.02 292.26L214.47 293.93L214.01 295.35L213.46 297.02L213 298.44L212.47 300.11L212.04 301.55L211.55 303.23L211.15 304.67L210.69 306.36L210.29 307.81L209.86 309.25L209.34 310.92L208.87 312.34L208.31 314L207.79 315.41L207.13 317.03L206.51 318.39L205.7 319.94L204.94 321.23L204.07 322.45L202.92 323.76L201.81 324.77L200.43 325.83L199.19 326.68L197.71 327.6L196.4 328.35L194.85 329.15L193.5 329.81L191.93 330.55L190.63 331.17L191.99 330.55L193.59 329.84L194.96 329.23L196.57 328.54L197.95 327.96L199.58 327.32L200.98 326.79L202.62 326.17L204.03 325.64L205.66 325.01L207.05 324.45L208.67 323.79L210.05 323.21L211.67 322.53L213.05 321.95L214.66 321.27L216.05 320.7L217.67 320.03L219.05 319.46L220.67 318.79L222.05 318.2L223.66 317.51L225.03 316.91L226.63 316.2L228 315.59L229.59 314.86L230.95 314.23L232.53 313.48L233.89 312.83L235.45 312.05L236.77 311.33L238.26 310.41L239.47 309.54L240.8 308.41L241.85 307.34L242.96 305.99L243.82 304.77L244.7 303.26L245.35 301.91L245.95 300.27L246.38 298.83L246.85 297.14L247.26 295.7L247.76 294.03L248.19 292.59L248.68 290.91L249.09 289.47L249.54 287.77L249.89 286.32L250.28 284.61L250.61 283.15L251 281.44L251.35 279.98L251.77 278.28L252.13 276.83L252.56 275.13L252.95 273.68L253.47 272.01L253.98 270.6L254.67 269L255.36 267.67L256.25 266.16L257.07 264.91L258.1 263.5L259.05 262.34L260.25 261.06L261.34 260.03L262.69 258.93L263.91 258.06L265.37 257.12L266.58 256.34Z" class="red"/>
<path d="M266.58 256.34L265.2 256.95L263.6 257.66L262.23 258.27L260.63 258.97L259.25 259.56L257.64 260.24L256.25 260.82L254.64 261.49L253.25 262.06L251.64 262.73L250.25 263.31L248.87 263.89L247.25 264.56L245.87 265.14L244.25 265.81L242.87 266.39L241.25 267.06L239.86 267.63L238.24 268.3L236.86 268.87L235.48 269.45L233.87 270.14L232.49 270.73L230.88 271.42L229.51 272.03L227.95 272.82L226.67 273.6L225.26 274.63L224.13 275.61L222.89 276.84L221.87 277.94L220.92 279.1L219.92 280.53L219.17 281.82L218.39 283.39L217.78 284.76L217.12 286.38L216.57 287.78L215.97 289.42L215.49 290.84L215.02 292.26L214.47 293.93L214.01 295.35L213.46 297.02L213 298.44L212.47 300.11L212.04 301.55L211.55 303.23L211.15 304.67L210.69 306.36L210.29 307.81L209.86 309.25L209.34 310.92L208.87 312.34L208.31 314L207.79 315.41L207.13 317.03L206.51 318.39L205.7 319.94L204.94 321.23L204.07 322.45L202.92 323.76L201.81 324.77L200.43 325.83L199.19 326.68L197.71 327.6L196.4 328.35L194.85 329.15L193.5 329.81L191.93 330.55L190.63 331.17L191.99 330.55L193.59 329.84L194.96 329.23L196.57 328.54L197.95 327.96L199.58 327.32L200.98 326.79L202.62 326.17L204.03 325.64L205.66 325.01L207.05 324.45L208.67 323.79L210.05 323.21L211.67 322.53L213.05 321.95L214.66 321.27L216.05 320.7L217.67 320.03L219.05 319.46L220.67 318.79L222.05 318.2L223.66 317.51L225.03 316.91L226.63 316.2L228 315.59L229.59 314.86L230.95 314.23L232.53 313.48L233.89 312.83L235.45 312.05L236.77 311.33L238.26 310.41L239.47 309.54L240.8 308.41L241.85 307.34L242.96 305.99L243.82 304.77L244.7 303.26L245.35 301.91L245.95 300.27L246.38 298.83L246.85 297.14L247.26 295.7L247.76 294.03L248.19 292.59L248.68 290.91L249.09 289.47L249.54 287.77L249.89 286.32L250.28 284.61L250.61 283.15L251 281.44L251.35 279.98L251.77 278.28L252.13 276.83L252.56 275.13L252.95 273.68L253.47 272.01L253.98 270.6L254.67 269L255.36 267.67L256.25 266.16L257.07 264.91L258.1 263.5L259.05 262.34L260.25 261.06L261.34 260.03L262.69 258.93L263.91 258.06L265.37 257.12L266.58 256.34ZM187.81 333.42L190.63 331.17M266.58 256.34L280.64 249.87" class="blk"/>
<path d="M266.58 256.34L265.2 256.95L263.6 257.66L262.23 258.27L260.63 258.97L259.25 259.56L257.64 260.24L256.25 260.82L254.64 261.49L253.25 262.06L251.64 262.73L250.25 263.31L248.87 263.89L247.25 264.56L245.87 265.14L244.25 265.81L242.87 266.39L241.25 267.06L239.86 267.63L238.24 268.3L236.86 268.87L235.48 269.45L233.87 270.14L232.49 270.73L230.88 271.42L229.51 272.03L227.95 272.82L226.67 273.6L225.26 274.63L224.13 275.61L222.89 276.84L221.87 277.94L220.92 279.1L219.92 280.53L219.17 281.82L218.39 283.39L217.78 284.76L217.12 286.38L216.57 287.78L215.97 289.42L215.49 290.84L215.02 292.26L214.47 293.93L214.01 295.35L213.46 297.02L213 298.44L212.47 300.11L212.04 301.55L211.55 303.23L211.15 304.67L210.69 306.36L210.29 307.81L209.86 309.25L209.34 310.92L208.87 312.34L208.31 314L207.79 315.41L207.13 317.03L206.51 318.39L205.7 319.94L204.94 321.23L204.07 322.45L202.92 323.76L201.81 324.77L200.43 325.83M190.63 331.17L191.99 330.55L193.59 329.84L194.96 329.23L196.57 328.54L197.95 327.96L199.58 327.32L200.98 326.79L202.62 326.17L204.03 325.64L205.66 325.01L207.05 324.45L208.67 323.79L210.05 323.21L211.67 322.53L213.05 321.95L214.66 321.27L216.05 320.7L217.67 320.03L219.05 319.46L220.67 318.79L222.05 318.2L223.66 317.51L225.03 316.91L226.63 316.2L228 315.59L229.59 314.86L230.95 314.23L232.53 313.48L233.89 312.83L235.45 312.05L236.77 311.33L238.26 310.41L239.47 309.54L240.8 308.41L241.85 307.34L242.96 305.99L243.82 304.77L244.7 303.26L245.35 301.91L245.95 300.27L246.38 298.83L246.85 297.14L247.26 295.7L247.76 294.03L248.19 292.59L248.68 290.91L249.09 289.47L249.54 287.77L249.89 286.32L250.28 284.61L250.61 283.15L251 281.44L251.35 279.98L251.77 278.28L252.13 276.83L252.56 275.13L252.95 273.68L253.47 272.01L253.98 270.6L254.67 269L255.36 267.67L256.25 266.16L257.07 264.91L258.1 263.5L259.05 262.34L260.25 261.06L261.34 260.03L262.69 258.93" class="blu"/>
</g>
<rect x="182.4" y="249.2" width="99.4" height="83.8" class="ax"/>
<path d="M195.65 333v-1.6M195.65 249.2v1.6M228.79 333v-1.6M228.79 249.2v1.6M261.92 333v-1.6M261.92 249.2v1.6M182.4 316.24h1.6M281.8 316.24h-1.6M182.4 293.89h1.6M281.8 293.89h-1.6M182.4 271.55h1.6M281.8 271.55h-1.6M182.4 249.2h1.6M281.8 249.2h-1.6" class="tk"/>
<text x="195.65" y="348" text-anchor="middle" class="tl">-5</text>
<text x="228.79" y="348" text-anchor="middle" class="tl">0</text>
<text x="261.92" y="348" text-anchor="middle" class="tl">5</text>
<text x="176.5" y="322.24" text-anchor="end" class="tl">-20</text>
<text x="176.5" y="299.89" text-anchor="end" class="tl">0</text>
<text x="176.5" y="277.55" text-anchor="end" class="tl">20</text>
<text x="176.5" y="255.2" text-anchor="end" class="tl">40</text>
<text x="187.6" y="262.7" class="pl">Y</text>
<text x="276.6" y="329.8" text-anchor="end" class="pl">Ref.15</text>
<g clip-path="url(#c22)">
<path d="M387.62 261.13L386.18 261.53L384.49 262.01L383.05 262.43L381.38 262.93L379.95 263.39L378.52 263.85L376.86 264.41L375.45 264.91L373.81 265.53L372.42 266.1L371.05 266.7L369.47 267.46L368.15 268.17L366.66 269.07L365.43 269.93L364.25 270.85L362.93 272L361.88 273.06L360.8 274.43L360.04 275.72L359.38 277.07L358.7 278.67L358.14 280.07L357.53 281.71L357.03 283.12L356.56 284.54L356.03 286.21L355.61 287.65L355.14 289.34L354.74 290.79L354.36 292.23L353.91 293.93L353.54 295.38L353.11 297.08L352.73 298.53L352.33 299.97L351.86 301.66L351.45 303.1L350.94 304.78L350.47 306.2L349.95 307.61L349.31 309.23L348.71 310.61L347.92 312.17L347.15 313.45L346.3 314.69L345.23 316.07L344.26 317.21L343.03 318.46L341.9 319.43L340.68 320.31L339.2 321.24L337.89 321.97L336.33 322.75L334.97 323.39L336.21 322.74L337.77 321.95L339.11 321.28L340.7 320.55L342.08 319.95L343.7 319.29L345.09 318.74L346.49 318.2L348.13 317.6L349.55 317.11L351.21 316.55L352.64 316.08L354.05 315.59L355.7 314.99L357.1 314.45L358.72 313.79L360.1 313.21L361.7 312.5L363.06 311.87L364.39 311.18L365.86 310.24L367.05 309.33L368.32 308.14L369.28 306.99L370.1 305.74L370.91 304.19L371.51 302.82L372.14 301.19L372.62 299.77L373.14 298.1L373.57 296.66L373.98 295.22L374.45 293.53L374.83 292.08L375.28 290.39L375.67 288.94L376.06 287.49L376.5 285.8L376.88 284.35L377.35 282.66L377.79 281.23L378.33 279.57L378.83 278.15L379.34 276.74L379.96 275.11L380.51 273.71L381.16 272.08L381.72 270.69L382.33 269.32L383.11 267.76L383.86 266.46L384.82 265L385.68 263.77L386.71 262.36L387.6 261.15Z" class="red"/>
<path d="M403.79 251L402.45 251.66L400.88 252.43L399.53 253.09L397.94 253.83L396.57 254.44L394.95 255.1L393.55 255.63L391.9 256.22L390.49 256.71L388.83 257.28L387.41 257.76L385.75 258.32L384.33 258.8L382.67 259.36L381.25 259.83L379.83 260.31L378.17 260.88L376.76 261.38L375.11 261.97L373.7 262.49L372.07 263.11L370.68 263.68L369.08 264.39L367.73 265.04L366.2 265.88L364.95 266.71L363.6 267.82L362.55 268.88L361.45 270.23L360.62 271.48L359.78 273.01L359.16 274.38L358.61 275.77L358.05 277.43L357.62 278.86L357.17 280.55L356.81 282.01L356.41 283.71L356.1 285.18L355.73 286.89L355.41 288.36L355 290.06L354.63 291.51L354.18 293.2L353.8 294.65L353.36 296.35L353 297.8L352.64 299.26L352.22 300.96L351.84 302.41L351.36 304.09L350.92 305.53L350.36 307.18L349.83 308.59L349.15 310.2L348.5 311.55L347.67 313.09L346.87 314.35L345.81 315.74L344.77 316.82L343.46 317.97L342.29 318.91L340.9 319.97L339.67 320.83L338.39 321.61L336.87 322.47L335.54 323.16L333.98 323.95L332.63 324.61L331.06 325.38L329.7 326.03L328.12 326.78L326.76 327.42L325.18 328.15L323.82 328.78L322.23 329.51L320.86 330.14L319.29 330.86L318 331.45M318 331.45L319.36 330.82L320.95 330.09L322.31 329.46L323.9 328.72L325.26 328.09L326.85 327.36L328.21 326.73L329.8 325.99L331.16 325.36L332.52 324.73L334.11 324L335.48 323.38L337.07 322.66L338.45 322.06L340.06 321.38L341.45 320.81L343.07 320.16L344.47 319.62L345.88 319.1L347.52 318.49L348.93 317.99L350.59 317.42L352.01 316.94L353.67 316.38L355.09 315.9L356.74 315.34L358.17 314.86L359.58 314.36L361.22 313.74L362.61 313.18L364.21 312.48L365.53 311.78L366.97 310.79L368.09 309.81L369.27 308.52L370.17 307.33L370.96 306.05L371.75 304.5L372.35 303.12L372.95 301.48L373.41 300.05L373.9 298.37L374.31 296.93L374.72 295.49L375.17 293.8L375.56 292.35L376 290.65L376.38 289.2L376.82 287.51L377.19 286.06L377.63 284.36L378.01 282.91L378.42 281.47L378.92 279.79L379.37 278.36L379.91 276.69L380.39 275.27L380.97 273.62L381.48 272.21L382.1 270.58L382.65 269.18L383.23 267.8L383.96 266.21L384.63 264.87L385.47 263.33L386.27 262.07L387.31 260.66L388.27 259.51L389.5 258.27L390.65 257.32L391.91 256.52L393.49 255.79L394.9 255.26L396.52 254.6L397.88 253.97L399.45 253.2L400.79 252.53L402.35 251.73L403.68 251.06" class="blk"/>
<path d="M387.62 261.13L386.18 261.53L384.49 262.01L383.05 262.43L381.38 262.93L379.95 263.39L378.52 263.85L376.86 264.41L375.45 264.91L373.81 265.53L372.42 266.1L371.05 266.7L369.47 267.46L368.15 268.17L366.66 269.07L365.43 269.93L364.25 270.85L362.93 272L361.88 273.06L360.8 274.43L360.04 275.72L359.38 277.07L358.7 278.67L358.14 280.07L357.53 281.71L357.03 283.12L356.56 284.54L356.03 286.21L355.61 287.65L355.14 289.34L354.74 290.79L354.36 292.23L353.91 293.93L353.54 295.38L353.11 297.08L352.73 298.53L352.33 299.97L351.86 301.66L351.45 303.1L350.94 304.78L350.47 306.2L349.95 307.61L349.31 309.23L348.71 310.61L347.92 312.17L347.15 313.45L346.3 314.69L345.23 316.07L344.26 317.21L343.03 318.46M334.88 323.43L336.21 322.74L337.77 321.95L339.11 321.28L340.7 320.55L342.08 319.95L343.7 319.29L345.09 318.74L346.49 318.2L348.13 317.6L349.55 317.11L351.21 316.55L352.64 316.08L354.05 315.59L355.7 314.99L357.1 314.45L358.72 313.79L360.1 313.21L361.7 312.5L363.06 311.87L364.39 311.18L365.86 310.24L367.05 309.33L368.32 308.14L369.28 306.99L370.1 305.74L370.91 304.19L371.51 302.82L372.14 301.19L372.62 299.77L373.14 298.1L373.57 296.66L373.98 295.22L374.45 293.53L374.83 292.08L375.28 290.39L375.67 288.94L376.06 287.49L376.5 285.8L376.88 284.35L377.35 282.66L377.79 281.23L378.33 279.57L378.83 278.15L379.34 276.74L379.96 275.11L380.51 273.71L381.16 272.08L381.72 270.69L382.33 269.32L383.11 267.76L383.86 266.46L384.82 265L385.68 263.77L386.71 262.36" class="blu"/>
</g>
<rect x="315.4" y="249.2" width="99.4" height="83.8" class="ax"/>
<path d="M328.65 333v-1.6M328.65 249.2v1.6M361.79 333v-1.6M361.79 249.2v1.6M394.92 333v-1.6M394.92 249.2v1.6M315.4 320.11h1.6M414.8 320.11h-1.6M315.4 294.32h1.6M414.8 294.32h-1.6M315.4 268.54h1.6M414.8 268.54h-1.6" class="tk"/>
<text x="328.65" y="348" text-anchor="middle" class="tl">-5</text>
<text x="361.79" y="348" text-anchor="middle" class="tl">0</text>
<text x="394.92" y="348" text-anchor="middle" class="tl">5</text>
<text x="309.5" y="326.11" text-anchor="end" class="tl">-20</text>
<text x="309.5" y="300.32" text-anchor="end" class="tl">0</text>
<text x="309.5" y="274.54" text-anchor="end" class="tl">20</text>
<text x="320.6" y="262.7" class="pl">Zr</text>
<text x="409.6" y="329.8" text-anchor="end" class="pl">Ref.16</text>
<g clip-path="url(#c23)">
<path d="M520.82 266.19L519.61 267.07L518.2 268.1L516.97 268.97L515.52 269.94L514.24 270.73L512.73 271.61L511.42 272.35L509.89 273.2L508.58 273.93L507.05 274.77L505.73 275.49L504.2 276.33L502.88 277.05L501.36 277.91L500.07 278.67L498.61 279.63L497.41 280.53L496.09 281.68L495.05 282.76L493.94 284.11L493.08 285.33L492.19 286.83L491.49 288.16L490.74 289.74L490.15 291.12L489.6 292.51L488.99 294.16L488.47 295.56L487.86 297.21L487.34 298.61L486.72 300.25L486.19 301.65L485.57 303.28L485.03 304.68L484.39 306.31L483.83 307.71L483.15 309.32L482.54 310.69L481.82 312.28L481.16 313.63L480.33 315.17L479.53 316.44L478.51 317.86L477.57 319.02L476.38 320.3L475.25 321.28L473.82 322.27L472.53 323.05L471.02 323.94L469.73 324.69L468.21 325.54L466.95 326.25L468.26 325.5L469.78 324.63L471.3 323.76L472.59 323.01L473.89 322.25L475.4 321.37L476.93 320.52L478.26 319.83L479.61 319.17L481.19 318.43L482.78 317.69L484.12 317.03L485.46 316.34L487 315.52L488.54 314.68L489.84 313.93L491.12 313.15L492.58 312.19L494 311.16L495.19 310.25L496.36 309.32L497.74 308.24L499.12 307.16L500.27 306.2L501.35 305.17L502.5 303.86L503.54 302.45L504.33 301.18L505.05 299.87L505.8 298.29L506.49 296.68L507.04 295.28L507.55 293.87L508.11 292.21L508.64 290.55L509.1 289.12L509.57 287.69L510.12 286.03L510.67 284.37L511.16 282.95L511.65 281.54L512.24 279.89L512.87 278.25L513.44 276.87L514.04 275.49L514.77 273.9L515.6 272.37L516.43 271.12L517.35 269.94L518.51 268.63L519.71 267.36L520.75 266.27Z" class="red"/>
<path d="M542.2 251L540.95 251.83L539.5 252.8L538.25 253.64L536.79 254.61L535.55 255.44L534.09 256.41L532.84 257.24L531.38 258.21L530.14 259.04L528.88 259.87L527.42 260.82L526.15 261.62L524.66 262.54L523.37 263.3L521.86 264.2L520.57 264.96L519.07 265.87L517.79 266.64L516.5 267.41L514.99 268.3L513.7 269.05L512.18 269.93L510.88 270.67L509.35 271.53L508.04 272.25L506.5 273.09L505.19 273.81L503.66 274.66L502.35 275.4L501.05 276.14L499.55 277.04L498.28 277.84L496.84 278.84L495.67 279.77L494.42 280.99L493.46 282.13L492.44 283.56L491.68 284.84L491.01 286.18L490.32 287.79L489.79 289.19L489.21 290.84L488.77 292.28L488.26 293.95L487.82 295.39L487.27 297.05L486.78 298.46L486.27 299.87L485.68 301.52L485.17 302.93L484.59 304.58L484.09 306L483.49 307.64L482.95 309.04L482.29 310.66L481.7 312.04L480.96 313.63L480.27 314.96L479.5 316.24L478.53 317.69L477.62 318.88L476.46 320.19L475.36 321.2L473.94 322.21L472.65 322.98L471.13 323.85L469.82 324.57L468.51 325.31L467.02 326.22L465.77 327.04L464.32 328.03L463.09 328.88L461.65 329.88L460.42 330.74L459 331.74L457.81 332.58M457.81 332.58L459.04 331.71L460.47 330.71L461.7 329.85L463.14 328.85L464.37 327.99L465.82 327.01L467.07 326.19L468.35 325.4L469.87 324.53L471.18 323.81L472.7 322.95L474 322.19L475.29 321.43L476.82 320.58L478.15 319.88L479.72 319.12L481.08 318.48L482.67 317.74L484.01 317.08L485.35 316.4L486.89 315.58L488.21 314.86L489.73 313.99L491.01 313.22L492.48 312.26L493.7 311.39L494.89 310.48L496.27 309.4L497.45 308.47L498.82 307.39L499.98 306.44L501.09 305.43L502.29 304.16L503.23 303L504.23 301.56L504.99 300.27L505.76 298.7L506.36 297.33L506.92 295.94L507.54 294.3L508.03 292.88L508.57 291.22L509.03 289.79L509.57 288.13L510.03 286.7L510.5 285.28L511.06 283.62L511.57 282.21L512.18 280.57L512.74 279.17L513.32 277.79L514.02 276.19L514.65 274.83L515.42 273.26L516.15 271.95L517.1 270.48L517.99 269.27L518.93 268.11L520.1 266.81L521.15 265.74L522.44 264.55L523.59 263.59L524.97 262.52L526.19 261.64L527.42 260.79L528.88 259.82L530.13 259L531.6 258.04L532.86 257.22L534.11 256.4L535.56 255.43L536.81 254.59L538.27 253.62L539.52 252.79L540.97 251.82L542.2 251" class="blk"/>
<path d="M520.82 266.19L519.61 267.07L518.2 268.1L516.97 268.97L515.52 269.94L514.24 270.73L512.73 271.61L511.42 272.35L509.89 273.2L508.58 273.93L507.05 274.77L505.73 275.49L504.2 276.33L502.88 277.05L501.36 277.91L500.07 278.67L498.61 279.63L497.41 280.53L496.09 281.68L495.05 282.76L493.94 284.11L493.08 285.33L492.19 286.83L491.49 288.16L490.74 289.74L490.15 291.12L489.6 292.51L488.99 294.16L488.47 295.56L487.86 297.21L487.34 298.61L486.72 300.25L486.19 301.65L485.57 303.28L485.03 304.68L484.39 306.31L483.83 307.71L483.15 309.32L482.54 310.69L481.82 312.28L481.16 313.63L480.33 315.17L479.53 316.44L478.51 317.86L477.57 319.02M466.95 326.25L468.26 325.5L469.78 324.63L471.3 323.76L472.59 323.01L473.89 322.25L475.4 321.37L476.93 320.52L478.26 319.83L479.61 319.17L481.19 318.43L482.78 317.69L484.12 317.03L485.46 316.34L487 315.52L488.54 314.68L489.84 313.93L491.12 313.15L492.58 312.19L494 311.16L495.19 310.25L496.36 309.32L497.74 308.24L499.12 307.16L500.27 306.2L501.35 305.17L502.5 303.86L503.54 302.45L504.33 301.18L505.05 299.87L505.8 298.29L506.49 296.68L507.04 295.28L507.55 293.87L508.11 292.21L508.64 290.55L509.1 289.12L509.57 287.69L510.12 286.03L510.67 284.37L511.16 282.95L511.65 281.54L512.24 279.89L512.87 278.25L513.44 276.87L514.04 275.49L514.77 273.9L515.6 272.37L516.43 271.12L517.35 269.94" class="blu"/>
</g>
<rect x="448.3" y="249.2" width="99.4" height="83.8" class="ax"/>
<path d="M455.95 333v-1.6M455.95 249.2v1.6M494.18 333v-1.6M494.18 249.2v1.6M532.41 333v-1.6M532.41 249.2v1.6M448.3 321.03h1.6M547.7 321.03h-1.6M448.3 297.09h1.6M547.7 297.09h-1.6M448.3 273.14h1.6M547.7 273.14h-1.6M448.3 249.2h1.6M547.7 249.2h-1.6" class="tk"/>
<text x="455.95" y="348" text-anchor="middle" class="tl">-5</text>
<text x="494.18" y="348" text-anchor="middle" class="tl">0</text>
<text x="532.41" y="348" text-anchor="middle" class="tl">5</text>
<text x="442.4" y="327.03" text-anchor="end" class="tl">-10</text>
<text x="442.4" y="303.09" text-anchor="end" class="tl">0</text>
<text x="442.4" y="279.14" text-anchor="end" class="tl">10</text>
<text x="442.4" y="255.2" text-anchor="end" class="tl">20</text>
<text x="453.5" y="262.7" class="pl">Zr</text>
<text x="542.5" y="329.8" text-anchor="end" class="pl">Ref.17</text>
<g clip-path="url(#c24)">
<path d="M654.42 258.74L652.75 259.28L651.33 259.76L649.68 260.35L648.28 260.88L646.66 261.53L645.28 262.12L643.69 262.85L642.35 263.52L640.81 264.36L639.53 265.13L638.07 266.1L636.87 266.99L635.53 268.12L634.46 269.16L633.32 270.49L632.42 271.69L631.45 273.14L630.56 274.64L629.84 275.96L629.07 277.53L628.43 278.89L627.72 280.49L627.13 281.87L626.48 283.49L625.93 284.89L625.29 286.52L624.74 287.91L624.09 289.54L623.52 290.93L622.87 292.55L622.32 293.95L621.71 295.58L621.2 297L620.62 298.65L620.03 300.29L619.51 301.7L618.88 303.34L618.34 304.73L617.69 306.36L617.11 307.74L616.41 309.35L615.79 310.71L615.03 312.29L614.36 313.63L613.52 315.16L612.76 316.45L611.81 317.93L610.95 319.15L609.85 320.51L608.81 321.58L607.58 322.73L608.88 321.97L610.39 321.1L611.7 320.36L613.24 319.54L614.58 318.86L615.92 318.19L617.49 317.42L618.84 316.77L620.43 316.02L621.78 315.37L623.09 314.66L624.55 313.69L625.71 312.75L626.97 311.53L627.96 310.41L628.87 309.22L629.81 307.75L630.54 306.44L631.29 304.87L631.88 303.48L632.44 302.09L633.08 300.46L633.62 299.07L634.24 297.43L634.76 296.02L635.28 294.62L635.88 292.97L636.39 291.56L636.98 289.91L637.49 288.5L638.08 286.85L638.59 285.44L639.1 284.03L639.69 282.39L640.19 280.97L640.76 279.32L641.23 277.89L641.7 276.47L642.27 274.81L642.79 273.41L643.43 271.78L644 270.39L644.62 269.03L645.42 267.47L646.18 266.18L647.16 264.74L648.11 263.58L649.16 262.51L650.5 261.4L651.72 260.52L653.17 259.55L654.42 258.74Z" class="red"/>
<path d="M666.65 251L665.35 251.75L663.84 252.62L662.53 253.36L660.98 254.17L659.62 254.81L658 255.45L656.59 255.96L654.94 256.54L653.53 257.06L651.89 257.66L650.48 258.19L648.85 258.83L647.46 259.38L645.84 260.05L644.47 260.65L642.89 261.41L641.56 262.11L640.04 262.96L638.76 263.75L637.32 264.74L636.13 265.65L634.79 266.77L633.69 267.8L632.49 269.07L631.54 270.23L630.53 271.65L629.74 272.92L628.9 274.46L628.26 275.81L627.57 277.42L626.99 278.8L626.33 280.42L625.76 281.81L625.11 283.44L624.56 284.83L623.92 286.46L623.36 287.85L622.79 289.24L622.14 290.86L621.58 292.26L620.95 293.89L620.43 295.3L619.84 296.94L619.34 298.36L618.75 300L618.23 301.41L617.6 303.04L617.05 304.44L616.4 306.06L615.82 307.45L615.1 309.04L614.47 310.4L613.7 311.98L613.02 313.31L612.19 314.85L611.44 316.15L610.51 317.63L609.65 318.86L608.59 320.25L607.62 321.39L606.38 322.63L605.23 323.57L603.78 324.56L602.5 325.33L600.98 326.2L599.67 326.94L598.16 327.82L596.88 328.59L595.37 329.49L594.09 330.26L592.61 331.15L591.41 331.87M591.41 331.87L592.68 331.09L594.18 330.17L595.46 329.39L596.96 328.5L598.27 327.76L599.8 326.92L601.13 326.23L602.47 325.56L604.05 324.8L605.41 324.17L607.02 323.47L608.41 322.9L610.04 322.27L611.44 321.73L612.84 321.21L614.49 320.62L615.91 320.14L617.56 319.56L618.96 319.02L620.33 318.41L621.9 317.64L623.22 316.92L624.7 315.99L625.91 315.11L627.24 313.98L628.31 312.93L629.3 311.81L630.32 310.39L631.09 309.11L631.9 307.56L632.54 306.2L633.21 304.59L633.75 303.19L634.28 301.78L634.9 300.15L635.43 298.74L636.03 297.1L636.54 295.69L637.13 294.04L637.61 292.62L638.09 291.2L638.65 289.54L639.14 288.12L639.72 286.47L640.23 285.06L640.83 283.42L641.33 282L641.83 280.59L642.39 278.93L642.86 277.51L643.42 275.85L643.92 274.43L644.53 272.79L645.07 271.4L645.64 270.01L646.36 268.41L647.04 267.08L647.93 265.57L648.77 264.34L649.7 263.16L650.89 261.89L652.01 260.88L653.38 259.8L654.59 258.91L656 257.88L657.23 257.01L658.46 256.17L659.92 255.2L661.19 254.39L662.67 253.46L663.94 252.67L665.42 251.76L666.65 251" class="blk"/>
<path d="M654.42 258.74L652.75 259.28L651.33 259.76L649.68 260.35L648.28 260.88L646.66 261.53L645.28 262.12L643.69 262.85L642.35 263.52L640.81 264.36L639.53 265.13L638.07 266.1L636.87 266.99L635.53 268.12L634.46 269.16L633.32 270.49L632.42 271.69L631.45 273.14L630.56 274.64L629.84 275.96L629.07 277.53L628.43 278.89L627.72 280.49L627.13 281.87L626.48 283.49L625.93 284.89L625.29 286.52L624.74 287.91L624.09 289.54L623.52 290.93L622.87 292.55L622.32 293.95L621.71 295.58L621.2 297L620.62 298.65L620.03 300.29L619.51 301.7L618.88 303.34L618.34 304.73L617.69 306.36L617.11 307.74L616.41 309.35L615.79 310.71L615.03 312.29L614.36 313.63L613.52 315.16L612.76 316.45L611.81 317.93L610.95 319.15L609.85 320.51M607.58 322.73L608.88 321.97L610.39 321.1L611.7 320.36L613.24 319.54L614.58 318.86L615.92 318.19L617.49 317.42L618.84 316.77L620.43 316.02L621.78 315.37L623.09 314.66L624.55 313.69L625.71 312.75L626.97 311.53L627.96 310.41L628.87 309.22L629.81 307.75L630.54 306.44L631.29 304.87L631.88 303.48L632.44 302.09L633.08 300.46L633.62 299.07L634.24 297.43L634.76 296.02L635.28 294.62L635.88 292.97L636.39 291.56L636.98 289.91L637.49 288.5L638.08 286.85L638.59 285.44L639.1 284.03L639.69 282.39L640.19 280.97L640.76 279.32L641.23 277.89L641.7 276.47L642.27 274.81L642.79 273.41L643.43 271.78L644 270.39L644.62 269.03L645.42 267.47L646.18 266.18L647.16 264.74L648.11 263.58L649.16 262.51L650.5 261.4L651.72 260.52" class="blu"/>
</g>
<rect x="581.3" y="249.2" width="99.4" height="83.8" class="ax"/>
<path d="M595.5 333v-1.6M595.5 249.2v1.6M631 333v-1.6M631 249.2v1.6M666.5 333v-1.6M666.5 249.2v1.6M581.3 333h1.6M680.7 333h-1.6M581.3 312.05h1.6M680.7 312.05h-1.6M581.3 291.1h1.6M680.7 291.1h-1.6M581.3 270.15h1.6M680.7 270.15h-1.6M581.3 249.2h1.6M680.7 249.2h-1.6" class="tk"/>
<text x="595.5" y="348" text-anchor="middle" class="tl">-5</text>
<text x="631" y="348" text-anchor="middle" class="tl">0</text>
<text x="666.5" y="348" text-anchor="middle" class="tl">5</text>
<text x="575.4" y="339" text-anchor="end" class="tl">-40</text>
<text x="575.4" y="318.05" text-anchor="end" class="tl">-20</text>
<text x="575.4" y="297.1" text-anchor="end" class="tl">0</text>
<text x="575.4" y="276.15" text-anchor="end" class="tl">20</text>
<text x="575.4" y="255.2" text-anchor="end" class="tl">40</text>
<text x="586.5" y="262.7" class="pl">Zr</text>
<text x="675.5" y="329.8" text-anchor="end" class="pl">Ref.18</text>
<g clip-path="url(#c30)">
<path d="M130.25 364.91L128.78 365.23L127.07 365.61L125.61 365.94L123.9 366.32L122.43 366.63L120.72 367L119.26 367.31L117.55 367.68L116.08 368.01L114.62 368.34L112.92 368.74L111.46 369.09L109.76 369.51L108.31 369.9L106.63 370.38L105.19 370.82L103.77 371.29L102.13 371.89L100.74 372.47L99.19 373.26L97.93 374.07L96.57 375.16L95.52 376.22L94.43 377.59L93.64 378.86L92.96 380.19L92.3 381.81L91.81 383.23L91.3 384.9L90.89 386.34L90.45 388.04L90.09 389.49L89.75 390.95L89.37 392.66L89.05 394.13L88.69 395.84L88.39 397.31L88.05 399.03L87.76 400.5L87.42 402.22L87.13 403.69L86.85 405.16L86.51 406.88L86.22 408.35L85.87 410.06L85.56 411.53L85.19 413.24L84.87 414.71L84.46 416.41L84.08 417.86L83.67 419.3L83.16 420.97L82.69 422.4L82.1 424.05L81.52 425.43L80.68 426.95L79.77 428.13L78.68 429.14L77.26 430.15L75.96 430.91L74.39 431.66L73 432.24L71.36 432.85L69.94 433.32L68.29 433.84L66.95 434.25L68.42 433.92L70.13 433.54L71.59 433.21L73.3 432.84L74.77 432.51L76.47 432.14L77.94 431.82L79.41 431.5L81.12 431.14L82.59 430.83L84.3 430.49L85.77 430.19L87.24 429.9L88.96 429.56L90.43 429.27L92.15 428.94L93.63 428.66L95.34 428.33L96.81 428.03L98.28 427.7L99.97 427.27L101.41 426.85L103.06 426.28L104.44 425.68L105.77 424.99L107.22 424.03L108.32 423.03L109.41 421.68L110.19 420.4L110.93 418.82L111.46 417.42L111.88 415.98L112.28 414.28L112.59 412.81L112.93 411.09L113.23 409.62L113.51 408.15L113.83 406.43L114.09 404.95L114.4 403.23L114.67 401.76L114.99 400.03L115.26 398.56L115.53 397.08L115.85 395.36L116.12 393.89L116.45 392.17L116.73 390.69L117 389.22L117.31 387.5L117.59 386.02L117.93 384.31L118.25 382.84L118.68 381.15L119.1 379.71L119.56 378.28L120.17 376.64L120.76 375.26L121.5 373.68L122.19 372.35L122.96 371.06L123.98 369.65L125 368.55L126.34 367.44L127.57 366.59L129.04 365.66L130.25 364.91Z" class="red"/>
<path d="M130.25 364.91L128.78 365.23L127.07 365.61L125.61 365.94L123.9 366.32L122.43 366.63L120.72 367L119.26 367.31L117.55 367.68L116.08 368.01L114.62 368.34L112.92 368.74L111.46 369.09L109.76 369.51L108.31 369.9L106.63 370.38L105.19 370.82L103.77 371.29L102.13 371.89L100.74 372.47L99.19 373.26L97.93 374.07L96.57 375.16L95.52 376.22L94.43 377.59L93.64 378.86L92.96 380.19L92.3 381.81L91.81 383.23L91.3 384.9L90.89 386.34L90.45 388.04L90.09 389.49L89.75 390.95L89.37 392.66L89.05 394.13L88.69 395.84L88.39 397.31L88.05 399.03L87.76 400.5L87.42 402.22L87.13 403.69L86.85 405.16L86.51 406.88L86.22 408.35L85.87 410.06L85.56 411.53L85.19 413.24L84.87 414.71L84.46 416.41L84.08 417.86L83.67 419.3L83.16 420.97L82.69 422.4L82.1 424.05L81.52 425.43L80.68 426.95L79.77 428.13L78.68 429.14L77.26 430.15L75.96 430.91L74.39 431.66L73 432.24L71.36 432.85L69.94 433.32L68.29 433.84L66.95 434.25L68.42 433.92L70.13 433.54L71.59 433.21L73.3 432.84L74.77 432.51L76.47 432.14L77.94 431.82L79.41 431.5L81.12 431.14L82.59 430.83L84.3 430.49L85.77 430.19L87.24 429.9L88.96 429.56L90.43 429.27L92.15 428.94L93.63 428.66L95.34 428.33L96.81 428.03L98.28 427.7L99.97 427.27L101.41 426.85L103.06 426.28L104.44 425.68L105.77 424.99L107.22 424.03L108.32 423.03L109.41 421.68L110.19 420.4L110.93 418.82L111.46 417.42L111.88 415.98L112.28 414.28L112.59 412.81L112.93 411.09L113.23 409.62L113.51 408.15L113.83 406.43L114.09 404.95L114.4 403.23L114.67 401.76L114.99 400.03L115.26 398.56L115.53 397.08L115.85 395.36L116.12 393.89L116.45 392.17L116.73 390.69L117 389.22L117.31 387.5L117.59 386.02L117.93 384.31L118.25 382.84L118.68 381.15L119.1 379.71L119.56 378.28L120.17 376.64L120.76 375.26L121.5 373.68L122.19 372.35L122.96 371.06L123.98 369.65L125 368.55L126.34 367.44L127.57 366.59L129.04 365.66L130.25 364.91ZM64.85 435.65L66.95 434.25M130.25 364.91L140.09 362.09" class="blk"/>
<path d="M130.25 364.91L128.78 365.23L127.07 365.61L125.61 365.94L123.9 366.32L122.43 366.63L120.72 367L119.26 367.31L117.55 367.68L116.08 368.01L114.62 368.34L112.92 368.74L111.46 369.09L109.76 369.51L108.31 369.9L106.63 370.38L105.19 370.82L103.77 371.29L102.13 371.89L100.74 372.47L99.19 373.26L97.93 374.07L96.57 375.16L95.52 376.22L94.43 377.59L93.64 378.86L92.96 380.19L92.3 381.81L91.81 383.23L91.3 384.9L90.89 386.34L90.45 388.04L90.09 389.49L89.75 390.95L89.37 392.66L89.05 394.13L88.69 395.84L88.39 397.31L88.05 399.03L87.76 400.5L87.42 402.22L87.13 403.69L86.85 405.16L86.51 406.88L86.22 408.35L85.87 410.06L85.56 411.53L85.19 413.24L84.87 414.71L84.46 416.41L84.08 417.86L83.67 419.3L83.16 420.97L82.69 422.4L82.1 424.05L81.52 425.43L80.68 426.95L79.77 428.13L78.68 429.14L77.26 430.15L75.96 430.91L74.39 431.66M66.95 434.25L68.42 433.92L70.13 433.54L71.59 433.21L73.3 432.84L74.77 432.51L76.47 432.14L77.94 431.82L79.41 431.5L81.12 431.14L82.59 430.83L84.3 430.49L85.77 430.19L87.24 429.9L88.96 429.56L90.43 429.27L92.15 428.94L93.63 428.66L95.34 428.33L96.81 428.03L98.28 427.7L99.97 427.27L101.41 426.85L103.06 426.28L104.44 425.68L105.77 424.99L107.22 424.03L108.32 423.03L109.41 421.68L110.19 420.4L110.93 418.82L111.46 417.42L111.88 415.98L112.28 414.28L112.59 412.81L112.93 411.09L113.23 409.62L113.51 408.15L113.83 406.43L114.09 404.95L114.4 403.23L114.67 401.76L114.99 400.03L115.26 398.56L115.53 397.08L115.85 395.36L116.12 393.89L116.45 392.17L116.73 390.69L117 389.22L117.31 387.5L117.59 386.02L117.93 384.31L118.25 382.84L118.68 381.15L119.1 379.71L119.56 378.28L120.17 376.64L120.76 375.26L121.5 373.68L122.19 372.35L122.96 371.06L123.98 369.65L125 368.55L126.34 367.44L127.57 366.59" class="blu"/>
</g>
<rect x="49.4" y="357.7" width="99.4" height="84.6" class="ax"/>
<path d="M49.4 442.3v-1.6M49.4 357.7v1.6M74.25 442.3v-1.6M74.25 357.7v1.6M99.1 442.3v-1.6M99.1 357.7v1.6M123.95 442.3v-1.6M123.95 357.7v1.6M148.8 442.3v-1.6M148.8 357.7v1.6M49.4 437.6h1.6M148.8 437.6h-1.6M49.4 418.8h1.6M148.8 418.8h-1.6M49.4 400h1.6M148.8 400h-1.6M49.4 381.2h1.6M148.8 381.2h-1.6M49.4 362.4h1.6M148.8 362.4h-1.6" class="tk"/>
<text x="49.4" y="457.3" text-anchor="middle" class="tl">-4</text>
<text x="74.25" y="457.3" text-anchor="middle" class="tl">-2</text>
<text x="99.1" y="457.3" text-anchor="middle" class="tl">0</text>
<text x="123.95" y="457.3" text-anchor="middle" class="tl">2</text>
<text x="148.8" y="457.3" text-anchor="middle" class="tl">4</text>
<text x="43.5" y="443.6" text-anchor="end" class="tl">-40</text>
<text x="43.5" y="424.8" text-anchor="end" class="tl">-20</text>
<text x="43.5" y="406" text-anchor="end" class="tl">0</text>
<text x="43.5" y="387.2" text-anchor="end" class="tl">20</text>
<text x="43.5" y="368.4" text-anchor="end" class="tl">40</text>
<text x="54.6" y="371.2" class="pl">Zr</text>
<text x="143.6" y="439.1" text-anchor="end" class="pl">Ref.19</text>
<g clip-path="url(#c31)">
<path d="M268.76 361.53L267.32 361.95L265.64 362.44L264.2 362.85L262.51 363.3L261.05 363.65L259.58 363.96L257.86 364.29L256.39 364.57L254.67 364.92L253.21 365.22L251.74 365.54L250.03 365.91L248.56 366.23L246.85 366.6L245.39 366.92L243.67 367.27L242.2 367.57L240.74 367.88L239.03 368.27L237.58 368.64L235.89 369.11L234.47 369.57L233.08 370.13L231.56 370.99L230.39 371.9L229.19 373.17L228.32 374.38L227.57 375.67L226.85 377.26L226.32 378.67L225.78 380.33L225.38 381.77L225.02 383.23L224.63 384.94L224.33 386.41L224.02 388.13L223.77 389.61L223.5 391.34L223.27 392.82L223.03 394.3L222.75 396.03L222.51 397.51L222.23 399.24L221.98 400.71L221.72 402.19L221.38 403.91L221.08 405.38L220.71 407.09L220.38 408.55L220.05 410.01L219.67 411.72L219.35 413.19L218.97 414.9L218.64 416.36L218.28 417.82L217.84 419.51L217.43 420.95L216.95 422.64L216.52 424.07L216.04 425.49L215.38 427.11L214.69 428.44L213.7 429.86L212.66 430.93L211.27 431.97L209.97 432.71L208.6 433.31L206.95 433.91L205.54 434.41L203.9 435.02L202.5 435.56L201.1 436.1L199.47 436.73L198.06 437.26L196.43 437.89L195.03 438.42L196.37 438.07L198.06 437.6L199.5 437.2L201.19 436.75L202.64 436.36L204.09 435.99L205.79 435.56L207.25 435.2L208.95 434.78L210.4 434.42L212.1 434L213.56 433.64L215.01 433.29L216.71 432.87L218.17 432.5L219.86 432.05L221.3 431.65L222.75 431.24L224.42 430.74L225.85 430.27L227.49 429.66L228.87 429.08L230.42 428.28L231.65 427.44L232.77 426.45L233.93 425.15L234.82 423.94L235.75 422.46L236.47 421.15L237.11 419.79L237.76 418.17L238.22 416.75L238.66 415.05L238.99 413.59L239.29 412.12L239.62 410.4L239.89 408.93L240.18 407.2L240.42 405.72L240.69 403.99L240.93 402.51L241.17 401.03L241.46 399.3L241.7 397.82L241.99 396.1L242.24 394.62L242.5 393.14L242.8 391.42L243.05 389.94L243.36 388.22L243.64 386.74L243.95 385.27L244.34 383.57L244.71 382.12L245.19 380.43L245.65 379.01L246.24 377.36L246.8 375.97L247.41 374.6L248.22 373.05L249.02 371.79L250.11 370.42L251.15 369.36L252.31 368.41L253.79 367.49L255.14 366.84L256.77 366.21L258.18 365.7L259.82 365.09L261.22 364.55L262.61 363.99L264.24 363.34L265.63 362.78L267.25 362.13L268.65 361.58Z" class="red"/>
<path d="M268.76 361.53L267.32 361.95L265.64 362.44L264.2 362.85L262.51 363.3L261.05 363.65L259.58 363.96L257.86 364.29L256.39 364.57L254.67 364.92L253.21 365.22L251.74 365.54L250.03 365.91L248.56 366.23L246.85 366.6L245.39 366.92L243.67 367.27L242.2 367.57L240.74 367.88L239.03 368.27L237.58 368.64L235.89 369.11L234.47 369.57L233.08 370.13L231.56 370.99L230.39 371.9L229.19 373.17L228.32 374.38L227.57 375.67L226.85 377.26L226.32 378.67L225.78 380.33L225.38 381.77L225.02 383.23L224.63 384.94L224.33 386.41L224.02 388.13L223.77 389.61L223.5 391.34L223.27 392.82L223.03 394.3L222.75 396.03L222.51 397.51L222.23 399.24L221.98 400.71L221.72 402.19L221.38 403.91L221.08 405.38L220.71 407.09L220.38 408.55L220.05 410.01L219.67 411.72L219.35 413.19L218.97 414.9L218.64 416.36L218.28 417.82L217.84 419.51L217.43 420.95L216.95 422.64L216.52 424.07L216.04 425.49L215.38 427.11L214.69 428.44L213.7 429.86L212.66 430.93L211.27 431.97L209.97 432.71L208.6 433.31L206.95 433.91L205.54 434.41L203.9 435.02L202.5 435.56L201.1 436.1L199.47 436.73L198.06 437.26L196.43 437.89L195.03 438.42L196.37 438.07L198.06 437.6L199.5 437.2L201.19 436.75L202.64 436.36L204.09 435.99L205.79 435.56L207.25 435.2L208.95 434.78L210.4 434.42L212.1 434L213.56 433.64L215.01 433.29L216.71 432.87L218.17 432.5L219.86 432.05L221.3 431.65L222.75 431.24L224.42 430.74L225.85 430.27L227.49 429.66L228.87 429.08L230.42 428.28L231.65 427.44L232.77 426.45L233.93 425.15L234.82 423.94L235.75 422.46L236.47 421.15L237.11 419.79L237.76 418.17L238.22 416.75L238.66 415.05L238.99 413.59L239.29 412.12L239.62 410.4L239.89 408.93L240.18 407.2L240.42 405.72L240.69 403.99L240.93 402.51L241.17 401.03L241.46 399.3L241.7 397.82L241.99 396.1L242.24 394.62L242.5 393.14L242.8 391.42L243.05 389.94L243.36 388.22L243.64 386.74L243.95 385.27L244.34 383.57L244.71 382.12L245.19 380.43L245.65 379.01L246.24 377.36L246.8 375.97L247.41 374.6L248.22 373.05L249.02 371.79L250.11 370.42L251.15 369.36L252.31 368.41L253.79 367.49L255.14 366.84L256.77 366.21L258.18 365.7L259.82 365.09L261.22 364.55L262.61 363.99L264.24 363.34L265.63 362.78L267.25 362.13L268.65 361.58Z" class="blk"/>
<path d="M268.76 361.53L267.32 361.95L265.64 362.44L264.2 362.85L262.51 363.3L261.05 363.65L259.58 363.96L257.86 364.29L256.39 364.57L254.67 364.92L253.21 365.22L251.74 365.54L250.03 365.91L248.56 366.23L246.85 366.6L245.39 366.92L243.67 367.27L242.2 367.57L240.74 367.88L239.03 368.27L237.58 368.64L235.89 369.11L234.47 369.57L233.08 370.13L231.56 370.99L230.39 371.9L229.19 373.17L228.32 374.38L227.57 375.67L226.85 377.26L226.32 378.67L225.78 380.33L225.38 381.77L225.02 383.23L224.63 384.94L224.33 386.41L224.02 388.13L223.77 389.61L223.5 391.34L223.27 392.82L223.03 394.3L222.75 396.03L222.51 397.51L222.23 399.24L221.98 400.71L221.72 402.19L221.38 403.91L221.08 405.38L220.71 407.09L220.38 408.55L220.05 410.01L219.67 411.72L219.35 413.19L218.97 414.9L218.64 416.36L218.28 417.82L217.84 419.51L217.43 420.95L216.95 422.64L216.52 424.07L216.04 425.49L215.38 427.11L214.69 428.44L213.7 429.86L212.66 430.93L211.27 431.97L209.97 432.71L208.6 433.31L206.95 433.91L205.54 434.41M194.92 438.47L196.37 438.07L198.06 437.6L199.5 437.2L201.19 436.75L202.64 436.36L204.09 435.99L205.79 435.56L207.25 435.2L208.95 434.78L210.4 434.42L212.1 434L213.56 433.64L215.01 433.29L216.71 432.87L218.17 432.5L219.86 432.05L221.3 431.65L222.75 431.24L224.42 430.74L225.85 430.27L227.49 429.66L228.87 429.08L230.42 428.28L231.65 427.44L232.77 426.45L233.93 425.15L234.82 423.94L235.75 422.46L236.47 421.15L237.11 419.79L237.76 418.17L238.22 416.75L238.66 415.05L238.99 413.59L239.29 412.12L239.62 410.4L239.89 408.93L240.18 407.2L240.42 405.72L240.69 403.99L240.93 402.51L241.17 401.03L241.46 399.3L241.7 397.82L241.99 396.1L242.24 394.62L242.5 393.14L242.8 391.42L243.05 389.94L243.36 388.22L243.64 386.74L243.95 385.27L244.34 383.57L244.71 382.12L245.19 380.43L245.65 379.01L246.24 377.36L246.8 375.97L247.41 374.6L248.22 373.05L249.02 371.79L250.11 370.42L251.15 369.36L252.31 368.41L253.79 367.49L255.14 366.84L256.77 366.21L258.18 365.7L259.82 365.09" class="blu"/>
</g>
<rect x="182.4" y="357.7" width="99.4" height="84.6" class="ax"/>
<path d="M182.4 442.3v-1.6M182.4 357.7v1.6M207.25 442.3v-1.6M207.25 357.7v1.6M232.1 442.3v-1.6M232.1 357.7v1.6M256.95 442.3v-1.6M256.95 357.7v1.6M281.8 442.3v-1.6M281.8 357.7v1.6M182.4 442.3h1.6M281.8 442.3h-1.6M182.4 421.15h1.6M281.8 421.15h-1.6M182.4 400h1.6M281.8 400h-1.6M182.4 378.85h1.6M281.8 378.85h-1.6M182.4 357.7h1.6M281.8 357.7h-1.6" class="tk"/>
<text x="182.4" y="457.3" text-anchor="middle" class="tl">-4</text>
<text x="207.25" y="457.3" text-anchor="middle" class="tl">-2</text>
<text x="232.1" y="457.3" text-anchor="middle" class="tl">0</text>
<text x="256.95" y="457.3" text-anchor="middle" class="tl">2</text>
<text x="281.8" y="457.3" text-anchor="middle" class="tl">4</text>
<text x="176.5" y="448.3" text-anchor="end" class="tl">-40</text>
<text x="176.5" y="427.15" text-anchor="end" class="tl">-20</text>
<text x="176.5" y="406" text-anchor="end" class="tl">0</text>
<text x="176.5" y="384.85" text-anchor="end" class="tl">20</text>
<text x="176.5" y="363.7" text-anchor="end" class="tl">40</text>
<text x="187.6" y="371.2" class="pl">Zr</text>
<text x="276.6" y="439.1" text-anchor="end" class="pl">Ref.10</text>
<g clip-path="url(#c32)">
<path d="M390.43 372.78L388.86 373.55L387.51 374.2L385.94 374.97L384.59 375.63L383.02 376.41L381.68 377.09L380.12 377.87L378.78 378.54L377.21 379.32L375.87 379.99L374.31 380.78L372.96 381.44L371.39 382.21L370.05 382.89L368.5 383.69L367.17 384.39L365.64 385.24L364.36 386.02L362.92 387.01L361.75 387.94L360.46 389.13L359.29 390.42L358.36 391.6L357.37 393.04L356.62 394.33L355.86 395.91L355.28 397.29L354.63 398.92L354.07 400.31L353.42 401.93L352.86 403.32L352.22 404.95L351.68 406.35L351.07 407.99L350.54 409.4L349.92 411.03L349.37 412.42L348.7 414.04L348.1 415.42L347.35 417L346.66 418.32L345.85 419.76L347.16 419.04L348.7 418.21L350.04 417.53L351.64 416.81L353.02 416.23L354.63 415.56L356.01 414.95L357.59 414.22L358.94 413.56L360.5 412.76L361.81 412.03L363.1 411.27L364.58 410.33L365.8 409.46L367.16 408.36L368.26 407.35L369.49 406.1L370.48 404.98L371.57 403.61L372.42 402.38L373.32 400.88L374 399.55L374.61 398.18L375.27 396.56L375.82 395.16L376.45 393.53L376.97 392.12L377.57 390.48L378.09 389.07L378.67 387.42L379.19 386.01L379.77 384.63L380.52 383.05L381.23 381.73L382.14 380.24L383.01 379.02L384.12 377.67L385.16 376.59L386.47 375.44L387.67 374.54L389.14 373.59L390.41 372.8Z" class="red"/>
<path d="M408.01 360.41L406.79 361.28L405.37 362.29L404.14 363.16L402.71 364.16L401.47 365L400 365.95L398.73 366.75L397.44 367.53L395.94 368.41L394.63 369.16L393.1 370L391.76 370.68L390.19 371.45L388.84 372.11L387.5 372.78L385.95 373.58L384.61 374.26L383.04 375.04L381.69 375.68L380.32 376.29L378.7 376.95L377.3 377.49L375.67 378.13L374.28 378.69L372.66 379.36L371.28 379.95L369.91 380.56L368.33 381.31L367.01 382.02L365.5 382.91L364.25 383.73L362.83 384.75L361.67 385.7L360.56 386.7L359.35 387.97L358.42 389.14L357.46 390.6L356.72 391.9L356.05 393.24L355.35 394.84L354.8 396.24L354.19 397.88L353.67 399.29L353.08 400.94L352.58 402.35L352.09 403.77L351.51 405.42L351.01 406.83L350.43 408.48L349.92 409.89L349.32 411.54L348.78 412.94L348.23 414.33L347.56 415.95L346.95 417.32L346.2 418.9L345.51 420.23L344.61 421.73L343.79 422.99L342.93 424.22L341.87 425.61L340.9 426.75L339.68 428L338.57 429.01L337.22 430.12L336.03 431.02L334.8 431.89L333.34 432.85L332.06 433.64L330.55 434.52L329.25 435.27L327.95 436.01L326.43 436.89L325.13 437.63L323.61 438.49L322.3 439.23L320.78 440.09L319.47 440.82M319.41 440.86L320.71 440.12L322.23 439.25L323.54 438.51L325.06 437.65L326.37 436.91L327.67 436.17L329.19 435.31L330.5 434.57L332.02 433.7L333.33 432.97L334.65 432.26L336.2 431.45L337.54 430.78L339.11 430L340.45 429.33L341.8 428.67L343.37 427.89L344.71 427.22L346.27 426.44L347.61 425.77L348.96 425.1L350.52 424.31L351.86 423.65L353.43 422.87L354.78 422.2L356.12 421.54L357.68 420.75L359.01 420.06L360.56 419.24L361.88 418.53L363.19 417.8L364.7 416.91L365.96 416.1L367.39 415.09L368.57 414.17L369.69 413.18L370.92 411.93L371.89 410.8L372.93 409.39L373.73 408.12L374.42 406.79L375.15 405.2L375.73 403.82L376.29 402.43L376.9 400.79L377.41 399.38L378.02 397.74L378.55 396.34L379.08 394.93L379.69 393.29L380.18 391.87L380.72 390.21L381.19 388.78L381.67 387.36L382.27 385.72L382.8 384.32L383.48 382.7L384.12 381.35L384.84 380.04L385.77 378.55L386.65 377.34L387.79 376.02L388.85 374.96L389.97 373.96L391.33 372.86L392.53 371.97L393.98 371L395.26 370.21L396.54 369.43L398.02 368.5L399.26 367.65L400.65 366.59L401.82 365.65L402.98 364.7L404.32 363.57L405.46 362.6L406.78 361.46L407.92 360.48" class="blk"/>
<path d="M390.43 372.78L388.86 373.55L387.51 374.2L385.94 374.97L384.59 375.63L383.02 376.41L381.68 377.09L380.12 377.87L378.78 378.54L377.21 379.32L375.87 379.99L374.31 380.78L372.96 381.44L371.39 382.21L370.05 382.89L368.5 383.69L367.17 384.39L365.64 385.24L364.36 386.02L362.92 387.01L361.75 387.94L360.46 389.13L359.29 390.42L358.36 391.6L357.37 393.04L356.62 394.33L355.86 395.91L355.28 397.29L354.63 398.92L354.07 400.31L353.42 401.93L352.86 403.32L352.22 404.95L351.68 406.35L351.07 407.99L350.54 409.4L349.92 411.03L349.37 412.42L348.7 414.04L348.1 415.42L347.35 417L346.66 418.32M345.85 419.76L347.16 419.04L348.7 418.21L350.04 417.53L351.64 416.81L353.02 416.23L354.63 415.56L356.01 414.95L357.59 414.22L358.94 413.56L360.5 412.76L361.81 412.03L363.1 411.27L364.58 410.33L365.8 409.46L367.16 408.36L368.26 407.35L369.49 406.1L370.48 404.98L371.57 403.61L372.42 402.38L373.32 400.88L374 399.55L374.61 398.18L375.27 396.56L375.82 395.16L376.45 393.53L376.97 392.12L377.57 390.48L378.09 389.07L378.67 387.42L379.19 386.01L379.77 384.63L380.52 383.05L381.23 381.73L382.14 380.24L383.01 379.02L384.12 377.67L385.16 376.59" class="blu"/>
</g>
<rect x="315.4" y="357.7" width="99.4" height="84.6" class="ax"/>
<path d="M315.4 442.3v-1.6M315.4 357.7v1.6M341.56 442.3v-1.6M341.56 357.7v1.6M367.72 442.3v-1.6M367.72 357.7v1.6M393.87 442.3v-1.6M393.87 357.7v1.6M315.4 434.61h1.6M414.8 434.61h-1.6M315.4 396.15h1.6M414.8 396.15h-1.6M315.4 357.7h1.6M414.8 357.7h-1.6" class="tk"/>
<text x="315.4" y="457.3" text-anchor="middle" class="tl">-10</text>
<text x="341.56" y="457.3" text-anchor="middle" class="tl">-5</text>
<text x="367.72" y="457.3" text-anchor="middle" class="tl">0</text>
<text x="393.87" y="457.3" text-anchor="middle" class="tl">5</text>
<text x="309.5" y="440.61" text-anchor="end" class="tl">-50</text>
<text x="309.5" y="402.15" text-anchor="end" class="tl">0</text>
<text x="309.5" y="363.7" text-anchor="end" class="tl">50</text>
<text x="320.6" y="371.2" class="pl">Zr</text>
<text x="409.6" y="439.1" text-anchor="end" class="pl">Ref.20</text>
<g clip-path="url(#c33)">
<path d="M539.39 363.22L537.92 363.51L536.2 363.86L534.73 364.15L533.01 364.49L531.54 364.79L529.83 365.14L528.36 365.44L526.89 365.74L525.17 366.07L523.7 366.35L521.97 366.65L520.5 366.9L518.77 367.18L517.29 367.42L515.81 367.67L514.08 367.95L512.6 368.2L510.87 368.49L509.4 368.73L507.92 368.98L506.19 369.26L504.71 369.5L502.98 369.77L501.5 370.01L499.77 370.31L498.3 370.6L496.83 370.91L495.13 371.29L493.68 371.67L492.02 372.22L490.66 372.84L489.19 373.77L488.08 374.76L487.16 375.92L486.34 377.46L485.84 378.87L485.39 380.55L485.09 382.02L484.79 383.75L484.55 385.23L484.32 386.71L484.05 388.44L483.84 389.92L483.59 391.66L483.38 393.14L483.14 394.88L482.93 396.36L482.72 397.85L482.48 399.58L482.26 401.06L482.02 402.8L481.8 404.28L481.56 406.01L481.35 407.5L481.15 408.98L480.92 410.72L480.72 412.21L480.47 413.94L480.24 415.42L479.94 417.14L479.65 418.62L479.34 420.08L478.94 421.79L478.55 423.23L478.03 424.91L477.54 426.32L476.93 427.68L475.91 429.06L474.74 429.93L473.14 430.61L471.71 431.06L470.04 431.58L468.61 432.03L467.18 432.47L465.5 432.96L464.06 433.37L462.37 433.82L460.91 434.2L459.22 434.61L457.81 434.95L459.28 434.66L461 434.31L462.47 434.02L464.19 433.67L465.66 433.38L467.37 433.04L468.85 432.75L470.56 432.41L472.03 432.11L473.75 431.75L475.21 431.44L476.92 431.06L478.38 430.73L479.85 430.41L481.56 430.06L483.04 429.79L484.76 429.49L486.24 429.25L487.97 428.97L489.45 428.74L491.18 428.45L492.66 428.21L494.39 427.94L495.87 427.69L497.59 427.39L499.07 427.13L500.55 426.87L502.26 426.54L503.72 426.18L505.34 425.55L506.62 424.79L507.88 423.62L508.72 422.39L509.4 420.8L509.82 419.36L510.21 417.66L510.51 416.19L510.81 414.46L511.05 412.98L511.27 411.5L511.52 409.77L511.72 408.28L511.95 406.55L512.14 405.06L512.35 403.32L512.53 401.83L512.74 400.09L512.92 398.61L513.13 396.87L513.32 395.38L513.53 393.64L513.71 392.15L513.93 390.42L514.12 388.93L514.31 387.44L514.54 385.71L514.73 384.22L514.95 382.48L515.15 381L515.41 379.27L515.67 377.79L516.04 376.08L516.42 374.63L516.99 372.98L517.64 371.64L518.57 370.16L519.54 369.03L520.68 368.07L522.18 367.21L523.56 366.63L525.23 366.1L526.68 365.7L528.37 365.28L529.84 364.96L531.55 364.61L533.03 364.34L534.75 364.03L536.23 363.77L537.95 363.47L539.39 363.22Z" class="red"/>
<path d="M539.39 363.22L537.92 363.51L536.2 363.86L534.73 364.15L533.01 364.49L531.54 364.79L529.83 365.14L528.36 365.44L526.89 365.74L525.17 366.07L523.7 366.35L521.97 366.65L520.5 366.9L518.77 367.18L517.29 367.42L515.81 367.67L514.08 367.95L512.6 368.2L510.87 368.49L509.4 368.73L507.92 368.98L506.19 369.26L504.71 369.5L502.98 369.77L501.5 370.01L499.77 370.31L498.3 370.6L496.83 370.91L495.13 371.29L493.68 371.67L492.02 372.22L490.66 372.84L489.19 373.77L488.08 374.76L487.16 375.92L486.34 377.46L485.84 378.87L485.39 380.55L485.09 382.02L484.79 383.75L484.55 385.23L484.32 386.71L484.05 388.44L483.84 389.92L483.59 391.66L483.38 393.14L483.14 394.88L482.93 396.36L482.72 397.85L482.48 399.58L482.26 401.06L482.02 402.8L481.8 404.28L481.56 406.01L481.35 407.5L481.15 408.98L480.92 410.72L480.72 412.21L480.47 413.94L480.24 415.42L479.94 417.14L479.65 418.62L479.34 420.08L478.94 421.79L478.55 423.23L478.03 424.91L477.54 426.32L476.93 427.68L475.91 429.06L474.74 429.93L473.14 430.61L471.71 431.06L470.04 431.58L468.61 432.03L467.18 432.47L465.5 432.96L464.06 433.37L462.37 433.82L460.91 434.2L459.22 434.61L457.81 434.95L459.28 434.66L461 434.31L462.47 434.02L464.19 433.67L465.66 433.38L467.37 433.04L468.85 432.75L470.56 432.41L472.03 432.11L473.75 431.75L475.21 431.44L476.92 431.06L478.38 430.73L479.85 430.41L481.56 430.06L483.04 429.79L484.76 429.49L486.24 429.25L487.97 428.97L489.45 428.74L491.18 428.45L492.66 428.21L494.39 427.94L495.87 427.69L497.59 427.39L499.07 427.13L500.55 426.87L502.26 426.54L503.72 426.18L505.34 425.55L506.62 424.79L507.88 423.62L508.72 422.39L509.4 420.8L509.82 419.36L510.21 417.66L510.51 416.19L510.81 414.46L511.05 412.98L511.27 411.5L511.52 409.77L511.72 408.28L511.95 406.55L512.14 405.06L512.35 403.32L512.53 401.83L512.74 400.09L512.92 398.61L513.13 396.87L513.32 395.38L513.53 393.64L513.71 392.15L513.93 390.42L514.12 388.93L514.31 387.44L514.54 385.71L514.73 384.22L514.95 382.48L515.15 381L515.41 379.27L515.67 377.79L516.04 376.08L516.42 374.63L516.99 372.98L517.64 371.64L518.57 370.16L519.54 369.03L520.68 368.07L522.18 367.21L523.56 366.63L525.23 366.1L526.68 365.7L528.37 365.28L529.84 364.96L531.55 364.61L533.03 364.34L534.75 364.03L536.23 363.77L537.95 363.47L539.39 363.22Z" class="blk"/>
<path d="M539.39 363.22L537.92 363.51L536.2 363.86L534.73 364.15L533.01 364.49L531.54 364.79L529.83 365.14L528.36 365.44L526.89 365.74L525.17 366.07L523.7 366.35L521.97 366.65L520.5 366.9L518.77 367.18L517.29 367.42L515.81 367.67L514.08 367.95L512.6 368.2L510.87 368.49L509.4 368.73L507.92 368.98L506.19 369.26L504.71 369.5L502.98 369.77L501.5 370.01L499.77 370.31L498.3 370.6L496.83 370.91L495.13 371.29L493.68 371.67L492.02 372.22L490.66 372.84L489.19 373.77L488.08 374.76L487.16 375.92L486.34 377.46L485.84 378.87L485.39 380.55L485.09 382.02L484.79 383.75L484.55 385.23L484.32 386.71L484.05 388.44L483.84 389.92L483.59 391.66L483.38 393.14L483.14 394.88L482.93 396.36L482.72 397.85L482.48 399.58L482.26 401.06L482.02 402.8L481.8 404.28L481.56 406.01L481.35 407.5L481.15 408.98L480.92 410.72L480.72 412.21L480.47 413.94L480.24 415.42L479.94 417.14L479.65 418.62L479.34 420.08L478.94 421.79L478.55 423.23L478.03 424.91L477.54 426.32L476.93 427.68L475.91 429.06L474.74 429.93L473.14 430.61L471.71 431.06M457.81 434.95L459.28 434.66L461 434.31L462.47 434.02L464.19 433.67L465.66 433.38L467.37 433.04L468.85 432.75L470.56 432.41L472.03 432.11L473.75 431.75L475.21 431.44L476.92 431.06L478.38 430.73L479.85 430.41L481.56 430.06L483.04 429.79L484.76 429.49L486.24 429.25L487.97 428.97L489.45 428.74L491.18 428.45L492.66 428.21L494.39 427.94L495.87 427.69L497.59 427.39L499.07 427.13L500.55 426.87L502.26 426.54L503.72 426.18L505.34 425.55L506.62 424.79L507.88 423.62L508.72 422.39L509.4 420.8L509.82 419.36L510.21 417.66L510.51 416.19L510.81 414.46L511.05 412.98L511.27 411.5L511.52 409.77L511.72 408.28L511.95 406.55L512.14 405.06L512.35 403.32L512.53 401.83L512.74 400.09L512.92 398.61L513.13 396.87L513.32 395.38L513.53 393.64L513.71 392.15L513.93 390.42L514.12 388.93L514.31 387.44L514.54 385.71L514.73 384.22L514.95 382.48L515.15 381L515.41 379.27L515.67 377.79L516.04 376.08L516.42 374.63L516.99 372.98L517.64 371.64L518.57 370.16L519.54 369.03L520.68 368.07" class="blu"/>
</g>
<rect x="448.3" y="357.7" width="99.4" height="84.6" class="ax"/>
<path d="M462.5 442.3v-1.6M462.5 357.7v1.6M490.9 442.3v-1.6M490.9 357.7v1.6M519.3 442.3v-1.6M519.3 357.7v1.6M547.7 442.3v-1.6M547.7 357.7v1.6M448.3 432.35h1.6M547.7 432.35h-1.6M448.3 412.44h1.6M547.7 412.44h-1.6M448.3 392.54h1.6M547.7 392.54h-1.6M448.3 372.63h1.6M547.7 372.63h-1.6" class="tk"/>
<text x="462.5" y="457.3" text-anchor="middle" class="tl">-2</text>
<text x="490.9" y="457.3" text-anchor="middle" class="tl">0</text>
<text x="519.3" y="457.3" text-anchor="middle" class="tl">2</text>
<text x="547.7" y="457.3" text-anchor="middle" class="tl">4</text>
<text x="442.4" y="438.35" text-anchor="end" class="tl">-40</text>
<text x="442.4" y="418.44" text-anchor="end" class="tl">-20</text>
<text x="442.4" y="398.54" text-anchor="end" class="tl">0</text>
<text x="442.4" y="378.63" text-anchor="end" class="tl">20</text>
<text x="453.5" y="371.2" class="pl">Zr</text>
<text x="542.5" y="439.1" text-anchor="end" class="pl">Ref.4</text>
<g clip-path="url(#c34)">
<path d="M663.84 361.11L662.41 361.58L660.75 362.12L659.33 362.6L657.67 363.17L656.26 363.66L654.84 364.16L653.2 364.75L651.79 365.27L650.15 365.89L648.76 366.45L647.38 367.04L645.79 367.76L644.43 368.4L642.85 369.16L641.5 369.8L640.15 370.45L638.57 371.21L637.23 371.88L635.68 372.7L634.39 373.45L633.12 374.26L631.7 375.27L630.53 376.22L629.26 377.42L628.26 378.53L627.34 379.71L626.37 381.16L625.62 382.46L624.83 384.02L624.21 385.39L623.63 386.77L622.99 388.4L622.47 389.8L621.9 391.46L621.42 392.88L620.87 394.54L620.42 395.97L619.98 397.41L619.48 399.08L619.04 400.52L618.53 402.19L618.09 403.62L617.65 405.06L617.13 406.73L616.68 408.16L616.16 409.83L615.71 411.26L615.26 412.69L614.72 414.36L614.23 415.77L613.62 417.41L613.07 418.81L612.49 420.19L611.77 421.79L611.1 423.13L610.25 424.66L609.47 425.94L608.62 427.17L607.54 428.54L606.5 429.62L605.16 430.74L603.93 431.59L602.66 432.4L601.17 433.31L599.88 434.07L598.35 434.92L597.04 435.65L598.41 435.05L600.01 434.36L601.4 433.78L603.02 433.13L604.43 432.61L606.08 432.03L607.49 431.53L608.9 431.02L610.54 430.4L611.94 429.87L613.57 429.23L614.96 428.66L616.34 428.08L617.95 427.38L619.31 426.76L620.89 426L622.21 425.29L623.7 424.38L624.94 423.53L626.12 422.61L627.41 421.43L628.41 420.32L629.44 418.91L630.2 417.62L630.89 416.29L631.6 414.69L632.13 413.29L632.69 411.63L633.14 410.2L633.65 408.53L634.07 407.09L634.48 405.65L634.94 403.96L635.34 402.51L635.81 400.83L636.22 399.38L636.62 397.94L637.09 396.25L637.5 394.81L637.99 393.13L638.43 391.7L638.95 390.02L639.41 388.6L639.88 387.17L640.46 385.52L640.96 384.11L641.55 382.46L642.09 381.06L642.66 379.67L643.41 378.1L644.13 376.78L645.02 375.28L645.85 374.03L646.89 372.62L647.86 371.48L648.9 370.4L650.19 369.22L651.34 368.26L652.72 367.18L653.93 366.29L655.16 365.44L656.65 364.51L657.94 363.76L659.49 362.95L660.85 362.32L662.47 361.66L663.84 361.11Z" class="red"/>
<path d="M663.84 361.11L662.41 361.58L660.75 362.12L659.33 362.6L657.67 363.17L656.26 363.66L654.84 364.16L653.2 364.75L651.79 365.27L650.15 365.89L648.76 366.45L647.38 367.04L645.79 367.76L644.43 368.4L642.85 369.16L641.5 369.8L640.15 370.45L638.57 371.21L637.23 371.88L635.68 372.7L634.39 373.45L633.12 374.26L631.7 375.27L630.53 376.22L629.26 377.42L628.26 378.53L627.34 379.71L626.37 381.16L625.62 382.46L624.83 384.02L624.21 385.39L623.63 386.77L622.99 388.4L622.47 389.8L621.9 391.46L621.42 392.88L620.87 394.54L620.42 395.97L619.98 397.41L619.48 399.08L619.04 400.52L618.53 402.19L618.09 403.62L617.65 405.06L617.13 406.73L616.68 408.16L616.16 409.83L615.71 411.26L615.26 412.69L614.72 414.36L614.23 415.77L613.62 417.41L613.07 418.81L612.49 420.19L611.77 421.79L611.1 423.13L610.25 424.66L609.47 425.94L608.62 427.17L607.54 428.54L606.5 429.62L605.16 430.74L603.93 431.59L602.66 432.4L601.17 433.31L599.88 434.07L598.35 434.92L597.04 435.65L598.41 435.05L600.01 434.36L601.4 433.78L603.02 433.13L604.43 432.61L606.08 432.03L607.49 431.53L608.9 431.02L610.54 430.4L611.94 429.87L613.57 429.23L614.96 428.66L616.34 428.08L617.95 427.38L619.31 426.76L620.89 426L622.21 425.29L623.7 424.38L624.94 423.53L626.12 422.61L627.41 421.43L628.41 420.32L629.44 418.91L630.2 417.62L630.89 416.29L631.6 414.69L632.13 413.29L632.69 411.63L633.14 410.2L633.65 408.53L634.07 407.09L634.48 405.65L634.94 403.96L635.34 402.51L635.81 400.83L636.22 399.38L636.62 397.94L637.09 396.25L637.5 394.81L637.99 393.13L638.43 391.7L638.95 390.02L639.41 388.6L639.88 387.17L640.46 385.52L640.96 384.11L641.55 382.46L642.09 381.06L642.66 379.67L643.41 378.1L644.13 376.78L645.02 375.28L645.85 374.03L646.89 372.62L647.86 371.48L648.9 370.4L650.19 369.22L651.34 368.26L652.72 367.18L653.93 366.29L655.16 365.44L656.65 364.51L657.94 363.76L659.49 362.95L660.85 362.32L662.47 361.66L663.84 361.11ZM581.98 441.7L597.04 435.65M663.84 361.11L671.86 358.44" class="blk"/>
<path d="M663.84 361.11L662.41 361.58L660.75 362.12L659.33 362.6L657.67 363.17L656.26 363.66L654.84 364.16L653.2 364.75L651.79 365.27L650.15 365.89L648.76 366.45L647.38 367.04L645.79 367.76L644.43 368.4L642.85 369.16L641.5 369.8L640.15 370.45L638.57 371.21L637.23 371.88L635.68 372.7L634.39 373.45L633.12 374.26L631.7 375.27L630.53 376.22L629.26 377.42L628.26 378.53L627.34 379.71L626.37 381.16L625.62 382.46L624.83 384.02L624.21 385.39L623.63 386.77L622.99 388.4L622.47 389.8L621.9 391.46L621.42 392.88L620.87 394.54L620.42 395.97L619.98 397.41L619.48 399.08L619.04 400.52L618.53 402.19L618.09 403.62L617.65 405.06L617.13 406.73L616.68 408.16L616.16 409.83L615.71 411.26L615.26 412.69L614.72 414.36L614.23 415.77L613.62 417.41L613.07 418.81L612.49 420.19L611.77 421.79L611.1 423.13L610.25 424.66L609.47 425.94L608.62 427.17L607.54 428.54L606.5 429.62L605.16 430.74L603.93 431.59M597.03 435.65L598.41 435.05L600.01 434.36L601.4 433.78L603.02 433.13L604.43 432.61L606.08 432.03L607.49 431.53L608.9 431.02L610.54 430.4L611.94 429.87L613.57 429.23L614.96 428.66L616.34 428.08L617.95 427.38L619.31 426.76L620.89 426L622.21 425.29L623.7 424.38L624.94 423.53L626.12 422.61L627.41 421.43L628.41 420.32L629.44 418.91L630.2 417.62L630.89 416.29L631.6 414.69L632.13 413.29L632.69 411.63L633.14 410.2L633.65 408.53L634.07 407.09L634.48 405.65L634.94 403.96L635.34 402.51L635.81 400.83L636.22 399.38L636.62 397.94L637.09 396.25L637.5 394.81L637.99 393.13L638.43 391.7L638.95 390.02L639.41 388.6L639.88 387.17L640.46 385.52L640.96 384.11L641.55 382.46L642.09 381.06L642.66 379.67L643.41 378.1L644.13 376.78L645.02 375.28L645.85 374.03L646.89 372.62L647.86 371.48L648.9 370.4L650.19 369.22L651.34 368.26L652.72 367.18L653.93 366.29L655.16 365.44L656.65 364.51" class="blu"/>
</g>
<rect x="581.3" y="357.7" width="99.4" height="84.6" class="ax"/>
<path d="M581.3 442.3v-1.6M581.3 357.7v1.6M631 442.3v-1.6M631 357.7v1.6M680.7 442.3v-1.6M680.7 357.7v1.6M581.3 424.17h1.6M680.7 424.17h-1.6M581.3 400h1.6M680.7 400h-1.6M581.3 375.83h1.6M680.7 375.83h-1.6" class="tk"/>
<text x="581.3" y="457.3" text-anchor="middle" class="tl">-5</text>
<text x="631" y="457.3" text-anchor="middle" class="tl">0</text>
<text x="680.7" y="457.3" text-anchor="middle" class="tl">5</text>
<text x="575.4" y="430.17" text-anchor="end" class="tl">-20</text>
<text x="575.4" y="406" text-anchor="end" class="tl">0</text>
<text x="575.4" y="381.83" text-anchor="end" class="tl">20</text>
<text x="586.5" y="371.2" class="pl">Zr</text>
<text x="675.5" y="439.1" text-anchor="end" class="pl">Ref.22</text>
<g clip-path="url(#c40)">
<path d="M128.84 474.63L127.41 475.09L125.75 475.63L124.33 476.1L122.67 476.68L121.27 477.21L119.64 477.84L118.24 478.4L116.63 479.06L115.25 479.65L113.87 480.25L112.28 480.97L110.91 481.6L109.33 482.35L107.99 483.02L106.43 483.81L105.11 484.52L103.6 485.4L102.35 486.22L101.14 487.11L99.8 488.24L98.74 489.29L97.59 490.61L96.69 491.81L95.73 493.26L94.97 494.56L94.18 496.12L93.56 497.48L92.98 498.87L92.34 500.49L91.81 501.9L91.23 503.55L90.75 504.97L90.21 506.64L89.76 508.07L89.33 509.5L88.85 511.18L88.44 512.63L87.95 514.31L87.53 515.75L87.03 517.43L86.61 518.86L86.09 520.54L85.63 521.97L85.15 523.38L84.56 525.03L84.03 526.43L83.37 528.06L82.77 529.43L82.01 531.01L81.31 532.33L80.45 533.86L79.65 535.12L78.79 536.35L77.7 537.71L76.68 538.82L75.43 540.04L74.31 541.03L72.94 542.12L71.74 543.02L70.32 544.05L69.1 544.92L70.42 544.31L72.01 543.58L73.38 542.97L75 542.31L76.41 541.79L78.06 541.22L79.49 540.75L80.91 540.29L82.59 539.77L84.03 539.35L85.71 538.87L87.15 538.44L88.57 537.97L90.21 537.37L91.61 536.82L93.2 536.11L94.53 535.4L95.98 534.44L97.15 533.5L98.24 532.48L99.43 531.19L100.37 530.03L101.35 528.59L102.11 527.29L102.8 525.96L103.54 524.38L104.12 522.99L104.74 521.36L105.24 519.94L105.77 518.28L106.18 516.83L106.57 515.39L107.02 513.69L107.42 512.25L107.9 510.57L108.32 509.13L108.81 507.45L109.23 506.01L109.66 504.57L110.16 502.89L110.58 501.45L111.1 499.78L111.55 498.35L112.04 496.93L112.64 495.29L113.18 493.89L113.84 492.27L114.43 490.89L115.14 489.29L115.76 487.92L116.4 486.57L117.19 485.01L117.92 483.7L118.87 482.23L119.75 481.02L120.72 479.87L121.96 478.65L123.14 477.73L124.62 476.8L125.94 476.09L127.5 475.3L128.84 474.63Z" class="red"/>
<path d="M128.84 474.63L127.41 475.09L125.75 475.63L124.33 476.1L122.67 476.68L121.27 477.21L119.64 477.84L118.24 478.4L116.63 479.06L115.25 479.65L113.87 480.25L112.28 480.97L110.91 481.6L109.33 482.35L107.99 483.02L106.43 483.81L105.11 484.52L103.6 485.4L102.35 486.22L101.14 487.11L99.8 488.24L98.74 489.29L97.59 490.61L96.69 491.81L95.73 493.26L94.97 494.56L94.18 496.12L93.56 497.48L92.98 498.87L92.34 500.49L91.81 501.9L91.23 503.55L90.75 504.97L90.21 506.64L89.76 508.07L89.33 509.5L88.85 511.18L88.44 512.63L87.95 514.31L87.53 515.75L87.03 517.43L86.61 518.86L86.09 520.54L85.63 521.97L85.15 523.38L84.56 525.03L84.03 526.43L83.37 528.06L82.77 529.43L82.01 531.01L81.31 532.33L80.45 533.86L79.65 535.12L78.79 536.35L77.7 537.71L76.68 538.82L75.43 540.04L74.31 541.03L72.94 542.12L71.74 543.02L70.32 544.05L69.1 544.92L70.42 544.31L72.01 543.58L73.38 542.97L75 542.31L76.41 541.79L78.06 541.22L79.49 540.75L80.91 540.29L82.59 539.77L84.03 539.35L85.71 538.87L87.15 538.44L88.57 537.97L90.21 537.37L91.61 536.82L93.2 536.11L94.53 535.4L95.98 534.44L97.15 533.5L98.24 532.48L99.43 531.19L100.37 530.03L101.35 528.59L102.11 527.29L102.8 525.96L103.54 524.38L104.12 522.99L104.74 521.36L105.24 519.94L105.77 518.28L106.18 516.83L106.57 515.39L107.02 513.69L107.42 512.25L107.9 510.57L108.32 509.13L108.81 507.45L109.23 506.01L109.66 504.57L110.16 502.89L110.58 501.45L111.1 499.78L111.55 498.35L112.04 496.93L112.64 495.29L113.18 493.89L113.84 492.27L114.43 490.89L115.14 489.29L115.76 487.92L116.4 486.57L117.19 485.01L117.92 483.7L118.87 482.23L119.75 481.02L120.72 479.87L121.96 478.65L123.14 477.73L124.62 476.8L125.94 476.09L127.5 475.3L128.84 474.63ZM53.59 551.56L69.1 544.92M128.84 474.63L146 467.87" class="blk"/>
<path d="M128.84 474.63L127.41 475.09L125.75 475.63L124.33 476.1L122.67 476.68L121.27 477.21L119.64 477.84L118.24 478.4L116.63 479.06L115.25 479.65L113.87 480.25L112.28 480.97L110.91 481.6L109.33 482.35L107.99 483.02L106.43 483.81L105.11 484.52L103.6 485.4L102.35 486.22L101.14 487.11L99.8 488.24L98.74 489.29L97.59 490.61L96.69 491.81L95.73 493.26L94.97 494.56L94.18 496.12L93.56 497.48L92.98 498.87L92.34 500.49L91.81 501.9L91.23 503.55L90.75 504.97L90.21 506.64L89.76 508.07L89.33 509.5L88.85 511.18L88.44 512.63L87.95 514.31L87.53 515.75L87.03 517.43L86.61 518.86L86.09 520.54L85.63 521.97L85.15 523.38L84.56 525.03L84.03 526.43L83.37 528.06L82.77 529.43L82.01 531.01L81.31 532.33L80.45 533.86L79.65 535.12L78.79 536.35L77.7 537.71L76.68 538.82L75.43 540.04L74.31 541.03L72.94 542.12M69.06 544.95L70.42 544.31L72.01 543.58L73.38 542.97L75 542.31L76.41 541.79L78.06 541.22L79.49 540.75L80.91 540.29L82.59 539.77L84.03 539.35L85.71 538.87L87.15 538.44L88.57 537.97L90.21 537.37L91.61 536.82L93.2 536.11L94.53 535.4L95.98 534.44L97.15 533.5L98.24 532.48L99.43 531.19L100.37 530.03L101.35 528.59L102.11 527.29L102.8 525.96L103.54 524.38L104.12 522.99L104.74 521.36L105.24 519.94L105.77 518.28L106.18 516.83L106.57 515.39L107.02 513.69L107.42 512.25L107.9 510.57L108.32 509.13L108.81 507.45L109.23 506.01L109.66 504.57L110.16 502.89L110.58 501.45L111.1 499.78L111.55 498.35L112.04 496.93L112.64 495.29L113.18 493.89L113.84 492.27L114.43 490.89L115.14 489.29L115.76 487.92L116.4 486.57L117.19 485.01L117.92 483.7L118.87 482.23L119.75 481.02L120.72 479.87L121.96 478.65L123.14 477.73" class="blu"/>
</g>
<rect x="49.4" y="467.4" width="99.4" height="84.8" class="ax"/>
<path d="M49.4 552.2v-1.6M49.4 467.4v1.6M99.1 552.2v-1.6M99.1 467.4v1.6M148.8 552.2v-1.6M148.8 467.4v1.6M49.4 534.03h1.6M148.8 534.03h-1.6M49.4 509.8h1.6M148.8 509.8h-1.6M49.4 485.57h1.6M148.8 485.57h-1.6" class="tk"/>
<text x="49.4" y="567.2" text-anchor="middle" class="tl">-5</text>
<text x="99.1" y="567.2" text-anchor="middle" class="tl">0</text>
<text x="148.8" y="567.2" text-anchor="middle" class="tl">5</text>
<text x="43.5" y="540.03" text-anchor="end" class="tl">-20</text>
<text x="43.5" y="515.8" text-anchor="end" class="tl">0</text>
<text x="43.5" y="491.57" text-anchor="end" class="tl">20</text>
<text x="54.6" y="480.9" class="pl">Zr</text>
<text x="143.6" y="549" text-anchor="end" class="pl">Ref.23</text>
<g clip-path="url(#c41)">
<path d="M269.47 474.63L268.02 475.01L266.33 475.46L264.88 475.85L263.18 476.3L261.74 476.68L260.28 477.07L258.59 477.52L257.14 477.9L255.45 478.36L254.01 478.76L252.32 479.23L250.88 479.64L249.44 480.05L247.75 480.53L246.31 480.94L244.62 481.4L243.18 481.8L241.73 482.19L240.05 482.67L238.61 483.1L236.95 483.64L235.53 484.13L233.89 484.75L232.53 485.36L231.22 486.1L229.82 487.13L228.75 488.17L227.64 489.52L226.82 490.77L226.12 492.09L225.42 493.69L224.91 495.1L224.42 496.78L224.04 498.23L223.7 499.69L223.33 501.4L223.03 502.87L222.7 504.59L222.44 506.07L222.14 507.79L221.88 509.27L221.61 510.75L221.3 512.47L221.04 513.94L220.73 515.67L220.45 517.14L220.16 518.61L219.82 520.33L219.53 521.8L219.16 523.51L218.83 524.97L218.4 526.67L218.01 528.12L217.58 529.56L217.04 531.22L216.49 532.61L215.71 534.17L214.89 535.42L213.92 536.56L212.65 537.76L211.48 538.69L210.04 539.68L208.75 540.45L207.2 541.25L205.84 541.88L204.45 542.45L202.82 543.08L201.41 543.59L199.78 544.18L198.44 544.67L199.87 544.21L201.54 543.68L202.97 543.23L204.63 542.69L206.05 542.22L207.47 541.74L209.13 541.17L210.55 540.68L212.21 540.13L213.64 539.67L215.07 539.24L216.75 538.74L218.19 538.32L219.87 537.82L221.31 537.39L222.74 536.96L224.42 536.46L225.86 536.03L227.53 535.52L228.97 535.08L230.39 534.63L232.03 534.02L233.4 533.41L234.94 532.58L236.16 531.72L237.27 530.72L238.37 529.38L239.16 528.11L239.93 526.54L240.48 525.15L240.95 523.73L241.42 522.04L241.77 520.58L242.12 518.87L242.4 517.39L242.67 515.92L242.99 514.2L243.26 512.72L243.58 511L243.84 509.53L244.11 508.05L244.43 506.33L244.71 504.86L245.04 503.14L245.32 501.66L245.61 500.19L245.97 498.48L246.29 497.01L246.66 495.3L246.99 493.84L247.34 492.38L247.77 490.69L248.2 489.25L248.79 487.6L249.37 486.22L250.04 484.88L250.98 483.41L251.92 482.26L253.19 481.07L254.4 480.19L255.7 479.44L257.28 478.71L258.69 478.19L260.35 477.62L261.77 477.14L263.19 476.66L264.85 476.12L266.28 475.65L267.94 475.12L269.37 474.66Z" class="red"/>
<path d="M269.47 474.63L268.02 475.01L266.33 475.46L264.88 475.85L263.18 476.3L261.74 476.68L260.28 477.07L258.59 477.52L257.14 477.9L255.45 478.36L254.01 478.76L252.32 479.23L250.88 479.64L249.44 480.05L247.75 480.53L246.31 480.94L244.62 481.4L243.18 481.8L241.73 482.19L240.05 482.67L238.61 483.1L236.95 483.64L235.53 484.13L233.89 484.75L232.53 485.36L231.22 486.1L229.82 487.13L228.75 488.17L227.64 489.52L226.82 490.77L226.12 492.09L225.42 493.69L224.91 495.1L224.42 496.78L224.04 498.23L223.7 499.69L223.33 501.4L223.03 502.87L222.7 504.59L222.44 506.07L222.14 507.79L221.88 509.27L221.61 510.75L221.3 512.47L221.04 513.94L220.73 515.67L220.45 517.14L220.16 518.61L219.82 520.33L219.53 521.8L219.16 523.51L218.83 524.97L218.4 526.67L218.01 528.12L217.58 529.56L217.04 531.22L216.49 532.61L215.71 534.17L214.89 535.42L213.92 536.56L212.65 537.76L211.48 538.69L210.04 539.68L208.75 540.45L207.2 541.25L205.84 541.88L204.45 542.45L202.82 543.08L201.41 543.59L199.78 544.18L198.44 544.67L199.87 544.21L201.54 543.68L202.97 543.23L204.63 542.69L206.05 542.22L207.47 541.74L209.13 541.17L210.55 540.68L212.21 540.13L213.64 539.67L215.07 539.24L216.75 538.74L218.19 538.32L219.87 537.82L221.31 537.39L222.74 536.96L224.42 536.46L225.86 536.03L227.53 535.52L228.97 535.08L230.39 534.63L232.03 534.02L233.4 533.41L234.94 532.58L236.16 531.72L237.27 530.72L238.37 529.38L239.16 528.11L239.93 526.54L240.48 525.15L240.95 523.73L241.42 522.04L241.77 520.58L242.12 518.87L242.4 517.39L242.67 515.92L242.99 514.2L243.26 512.72L243.58 511L243.84 509.53L244.11 508.05L244.43 506.33L244.71 504.86L245.04 503.14L245.32 501.66L245.61 500.19L245.97 498.48L246.29 497.01L246.66 495.3L246.99 493.84L247.34 492.38L247.77 490.69L248.2 489.25L248.79 487.6L249.37 486.22L250.04 484.88L250.98 483.41L251.92 482.26L253.19 481.07L254.4 480.19L255.7 479.44L257.28 478.71L258.69 478.19L260.35 477.62L261.77 477.14L263.19 476.66L264.85 476.12L266.28 475.65L267.94 475.12L269.37 474.66Z" class="blk"/>
<path d="M269.47 474.63L268.02 475.01L266.33 475.46L264.88 475.85L263.18 476.3L261.74 476.68L260.28 477.07L258.59 477.52L257.14 477.9L255.45 478.36L254.01 478.76L252.32 479.23L250.88 479.64L249.44 480.05L247.75 480.53L246.31 480.94L244.62 481.4L243.18 481.8L241.73 482.19L240.05 482.67L238.61 483.1L236.95 483.64L235.53 484.13L233.89 484.75L232.53 485.36L231.22 486.1L229.82 487.13L228.75 488.17L227.64 489.52L226.82 490.77L226.12 492.09L225.42 493.69L224.91 495.1L224.42 496.78L224.04 498.23L223.7 499.69L223.33 501.4L223.03 502.87L222.7 504.59L222.44 506.07L222.14 507.79L221.88 509.27L221.61 510.75L221.3 512.47L221.04 513.94L220.73 515.67L220.45 517.14L220.16 518.61L219.82 520.33L219.53 521.8L219.16 523.51L218.83 524.97L218.4 526.67L218.01 528.12L217.58 529.56L217.04 531.22L216.49 532.61L215.71 534.17L214.89 535.42L213.92 536.56L212.65 537.76L211.48 538.69L210.04 539.68M198.44 544.67L199.87 544.21L201.54 543.68L202.97 543.23L204.63 542.69L206.05 542.22L207.47 541.74L209.13 541.17L210.55 540.68L212.21 540.13L213.64 539.67L215.07 539.24L216.75 538.74L218.19 538.32L219.87 537.82L221.31 537.39L222.74 536.96L224.42 536.46L225.86 536.03L227.53 535.52L228.97 535.08L230.39 534.63L232.03 534.02L233.4 533.41L234.94 532.58L236.16 531.72L237.27 530.72L238.37 529.38L239.16 528.11L239.93 526.54L240.48 525.15L240.95 523.73L241.42 522.04L241.77 520.58L242.12 518.87L242.4 517.39L242.67 515.92L242.99 514.2L243.26 512.72L243.58 511L243.84 509.53L244.11 508.05L244.43 506.33L244.71 504.86L245.04 503.14L245.32 501.66L245.61 500.19L245.97 498.48L246.29 497.01L246.66 495.3L246.99 493.84L247.34 492.38L247.77 490.69L248.2 489.25L248.79 487.6L249.37 486.22L250.04 484.88L250.98 483.41L251.92 482.26L253.19 481.07L254.4 480.19L255.7 479.44" class="blu"/>
</g>
<rect x="182.4" y="467.4" width="99.4" height="84.8" class="ax"/>
<path d="M182.4 552.2v-1.6M182.4 467.4v1.6M207.25 552.2v-1.6M207.25 467.4v1.6M232.1 552.2v-1.6M232.1 467.4v1.6M256.95 552.2v-1.6M256.95 467.4v1.6M281.8 552.2v-1.6M281.8 467.4v1.6M182.4 534.03h1.6M281.8 534.03h-1.6M182.4 509.8h1.6M281.8 509.8h-1.6M182.4 485.57h1.6M281.8 485.57h-1.6" class="tk"/>
<text x="182.4" y="567.2" text-anchor="middle" class="tl">-4</text>
<text x="207.25" y="567.2" text-anchor="middle" class="tl">-2</text>
<text x="232.1" y="567.2" text-anchor="middle" class="tl">0</text>
<text x="256.95" y="567.2" text-anchor="middle" class="tl">2</text>
<text x="281.8" y="567.2" text-anchor="middle" class="tl">4</text>
<text x="176.5" y="540.03" text-anchor="end" class="tl">-20</text>
<text x="176.5" y="515.8" text-anchor="end" class="tl">0</text>
<text x="176.5" y="491.57" text-anchor="end" class="tl">20</text>
<text x="187.6" y="480.9" class="pl">Zr</text>
<text x="276.6" y="549" text-anchor="end" class="pl">Ref.25</text>
<g clip-path="url(#c42)">
<path d="M389.73 478.85L388.29 479.27L386.61 479.77L385.18 480.2L383.51 480.72L382.07 481.16L380.64 481.62L378.99 482.18L377.58 482.7L375.95 483.33L374.57 483.92L373.23 484.58L371.73 485.48L370.52 486.36L369.19 487.5L368.11 488.54L367.1 489.64L366 491.01L365.13 492.22L364.17 493.69L363.4 494.97L362.67 496.28L361.9 497.85L361.29 499.22L360.66 500.86L360.16 502.27L359.66 503.68L359.08 505.33L358.6 506.75L358.04 508.41L357.56 509.84L357.08 511.25L356.5 512.91L356 514.32L355.49 515.73L354.89 517.37L354.36 518.78L353.72 520.41L353.17 521.8L352.61 523.19L351.94 524.81L351.37 526.2L350.7 527.81L350.11 529.19L349.5 530.56L348.73 532.13L348.01 533.45L347.13 534.96L346.3 536.21L345.39 537.4L344.2 538.68L343.07 539.65L341.65 540.66L340.4 541.49L339.13 542.3L337.64 543.21L336.34 543.97L334.83 544.86L333.54 545.61L334.83 545.01L336.41 544.26L337.99 543.52L339.36 542.91L340.75 542.34L342.39 541.73L344.05 541.17L345.47 540.7L346.9 540.24L348.56 539.7L350.23 539.17L351.66 538.71L353.07 538.21L354.69 537.55L356.26 536.79L357.57 536.06L358.85 535.28L360.31 534.31L361.72 533.28L362.88 532.33L363.97 531.3L365.12 529.99L366.13 528.56L366.89 527.27L367.54 525.93L368.21 524.31L368.79 522.66L369.27 521.24L369.72 519.81L370.23 518.13L370.73 516.45L371.15 515.01L371.58 513.58L372.08 511.9L372.58 510.22L373.01 508.79L373.44 507.35L373.95 505.67L374.45 504L374.88 502.56L375.31 501.12L375.81 499.45L376.29 497.76L376.7 496.32L377.13 494.88L377.68 493.22L378.28 491.58L378.84 490.19L379.45 488.82L380.23 487.26L381.14 485.76L382.02 484.55L383.01 483.43L384.3 482.26L385.71 481.24L386.98 480.44L388.27 479.69L389.73 478.85Z" class="red"/>
<path d="M411.25 469.56L409.87 470.14L408.25 470.82L406.87 471.4L405.25 472.06L403.86 472.63L402.23 473.27L400.83 473.81L399.19 474.43L397.79 474.94L396.14 475.53L394.73 476.04L393.31 476.54L391.66 477.11L390.24 477.59L388.58 478.15L387.16 478.62L385.5 479.18L384.07 479.65L382.41 480.21L381 480.7L379.35 481.29L377.94 481.81L376.31 482.43L374.92 483.01L373.57 483.65L372.03 484.49L370.77 485.3L369.38 486.36L368.27 487.35L367.05 488.61L366.09 489.75L365.05 491.16L364.22 492.41L363.34 493.92L362.64 495.25L361.98 496.6L361.3 498.21L360.79 499.61L360.25 501.28L359.81 502.71L359.27 504.38L358.8 505.8L358.24 507.46L357.76 508.88L357.19 510.53L356.69 511.95L356.2 513.37L355.61 515.01L355.1 516.42L354.49 518.06L353.95 519.47L353.31 521.09L352.75 522.49L352.09 524.11L351.52 525.49L350.85 527.11L350.27 528.49L349.67 529.87L348.93 531.45L348.24 532.79L347.38 534.31L346.59 535.58L345.57 537L344.6 538.14L343.32 539.32L342.13 540.23L340.69 541.22L339.44 542.05L337.97 543.01L336.7 543.81L335.42 544.58L333.88 545.42L332.54 546.08L330.93 546.77L329.54 547.32L327.9 547.93L326.49 548.45L324.84 549.04L323.43 549.54L321.78 550.1L320.39 550.58M320.39 550.58L321.81 550.09L323.47 549.52L324.88 549.03L326.53 548.43L327.93 547.9L329.56 547.26L330.95 546.7L332.34 546.13L333.94 545.43L335.31 544.81L336.89 544.06L338.24 543.42L339.84 542.71L341.23 542.15L342.64 541.64L344.3 541.08L345.73 540.62L347.39 540.08L348.82 539.61L350.49 539.09L351.91 538.62L353.33 538.12L354.94 537.44L356.28 536.78L357.81 535.92L359.08 535.13L360.53 534.15L361.74 533.26L362.9 532.31L364.16 531.11L365.14 529.97L366.14 528.55L366.89 527.25L367.65 525.68L368.21 524.29L368.72 522.88L369.27 521.22L369.73 519.79L370.24 518.11L370.66 516.68L371.15 515L371.58 513.56L372.01 512.12L372.51 510.44L372.95 509.01L373.45 507.33L373.88 505.89L374.31 504.46L374.81 502.78L375.24 501.35L375.74 499.67L376.16 498.23L376.64 496.54L377.06 495.1L377.52 493.68L378.11 492.03L378.66 490.63L379.34 489.02L380 487.68L380.88 486.17L381.73 484.94L382.68 483.78L383.91 482.54L385.07 481.59L386.52 480.62L387.82 479.88L389.36 479.04L390.68 478.34L392.01 477.64L393.57 476.85L394.92 476.19L396.51 475.46L397.89 474.88L399.53 474.26L400.94 473.76L402.34 473.23L403.97 472.58L405.36 472.01L406.97 471.34L408.36 470.76L409.96 470.1L411.25 469.56" class="blk"/>
<path d="M389.73 478.85L388.29 479.27L386.61 479.77L385.18 480.2L383.51 480.72L382.07 481.16L380.64 481.62L378.99 482.18L377.58 482.7L375.95 483.33L374.57 483.92L373.23 484.58L371.73 485.48L370.52 486.36L369.19 487.5L368.11 488.54L367.1 489.64L366 491.01L365.13 492.22L364.17 493.69L363.4 494.97L362.67 496.28L361.9 497.85L361.29 499.22L360.66 500.86L360.16 502.27L359.66 503.68L359.08 505.33L358.6 506.75L358.04 508.41L357.56 509.84L357.08 511.25L356.5 512.91L356 514.32L355.49 515.73L354.89 517.37L354.36 518.78L353.72 520.41L353.17 521.8L352.61 523.19L351.94 524.81L351.37 526.2L350.7 527.81L350.11 529.19L349.5 530.56L348.73 532.13L348.01 533.45L347.13 534.96L346.3 536.21L345.39 537.4L344.2 538.68L343.07 539.65L341.65 540.66L340.4 541.49M333.47 545.65L334.83 545.01L336.41 544.26L337.99 543.52L339.36 542.91L340.75 542.34L342.39 541.73L344.05 541.17L345.47 540.7L346.9 540.24L348.56 539.7L350.23 539.17L351.66 538.71L353.07 538.21L354.69 537.55L356.26 536.79L357.57 536.06L358.85 535.28L360.31 534.31L361.72 533.28L362.88 532.33L363.97 531.3L365.12 529.99L366.13 528.56L366.89 527.27L367.54 525.93L368.21 524.31L368.79 522.66L369.27 521.24L369.72 519.81L370.23 518.13L370.73 516.45L371.15 515.01L371.58 513.58L372.08 511.9L372.58 510.22L373.01 508.79L373.44 507.35L373.95 505.67L374.45 504L374.88 502.56L375.31 501.12L375.81 499.45L376.29 497.76L376.7 496.32L377.13 494.88L377.68 493.22L378.28 491.58L378.84 490.19L379.45 488.82L380.23 487.26L381.14 485.76L382.02 484.55L383.01 483.43L384.3 482.26L385.71 481.24" class="blu"/>
</g>
<rect x="315.4" y="467.4" width="99.4" height="84.8" class="ax"/>
<path d="M328.65 552.2v-1.6M328.65 467.4v1.6M361.79 552.2v-1.6M361.79 467.4v1.6M394.92 552.2v-1.6M394.92 467.4v1.6M315.4 535.24h1.6M414.8 535.24h-1.6M315.4 512.63h1.6M414.8 512.63h-1.6M315.4 490.01h1.6M414.8 490.01h-1.6M315.4 467.4h1.6M414.8 467.4h-1.6" class="tk"/>
<text x="328.65" y="567.2" text-anchor="middle" class="tl">-5</text>
<text x="361.79" y="567.2" text-anchor="middle" class="tl">0</text>
<text x="394.92" y="567.2" text-anchor="middle" class="tl">5</text>
<text x="309.5" y="541.24" text-anchor="end" class="tl">-20</text>
<text x="309.5" y="518.63" text-anchor="end" class="tl">0</text>
<text x="309.5" y="496.01" text-anchor="end" class="tl">20</text>
<text x="309.5" y="473.4" text-anchor="end" class="tl">40</text>
<text x="320.6" y="480.9" class="pl">Zr</text>
<text x="409.6" y="549" text-anchor="end" class="pl">Ref.26</text>
<g clip-path="url(#c43)">
<path d="M533.76 478.56L532.39 479.17L530.79 479.87L529.41 480.48L527.81 481.18L526.44 481.79L524.84 482.5L523.47 483.11L522.1 483.71L520.49 484.41L519.11 484.99L517.49 485.64L516.09 486.19L514.46 486.83L513.07 487.4L511.7 488L510.11 488.73L508.75 489.37L507.17 490.11L505.8 490.72L504.18 491.39L502.78 491.94L501.39 492.48L499.76 493.13L498.38 493.72L496.8 494.46L495.45 495.13L493.9 495.94L492.57 496.63L491.25 497.34L489.72 498.19L488.46 498.99L487.09 500.07L486.01 501.11L484.84 502.41L483.91 503.59L483.05 504.81L482.12 506.3L481.41 507.61L480.65 509.19L480.05 510.56L479.37 512.18L478.81 513.57L478.27 514.97L477.66 516.61L477.14 518.01L476.53 519.66L476.02 521.06L475.42 522.71L474.87 524.11L474.3 525.49L473.59 527.09L472.94 528.44L472.12 529.98L471.34 531.26L470.36 532.71L469.44 533.9L468.44 535.01L467.16 536.19L465.98 537.12L464.55 538.13L463.3 538.96L461.85 539.92L460.63 540.73L461.96 540.05L463.53 539.26L464.87 538.59L466.43 537.81L467.78 537.16L469.37 536.41L470.73 535.78L472.32 535.05L473.68 534.43L475.05 533.82L476.65 533.11L478.03 532.5L479.63 531.8L481 531.2L482.61 530.5L483.99 529.91L485.6 529.23L486.97 528.62L488.33 527.99L489.89 527.2L491.21 526.49L492.72 525.61L493.99 524.8L495.42 523.8L496.6 522.88L497.9 521.72L498.94 520.63L499.9 519.48L500.92 518.06L501.71 516.79L502.51 515.24L503.09 513.86L503.69 512.21L504.17 510.79L504.73 509.13L505.19 507.71L505.64 506.28L506.17 504.61L506.62 503.18L507.16 501.51L507.61 500.08L508.15 498.42L508.66 497.01L509.32 495.39L509.95 494.03L510.67 492.71L511.64 491.27L512.61 490.13L513.88 488.93L515.08 488.03L516.56 487.11L517.9 486.44L519.5 485.74L520.89 485.17L522.26 484.57L523.85 483.83L525.19 483.16L526.75 482.37L528.08 481.68L529.63 480.85L530.94 480.13L532.47 479.28L533.76 478.56Z" class="red"/>
<path d="M533.76 478.56L532.39 479.17L530.79 479.87L529.41 480.48L527.81 481.18L526.44 481.79L524.84 482.5L523.47 483.11L522.1 483.71L520.49 484.41L519.11 484.99L517.49 485.64L516.09 486.19L514.46 486.83L513.07 487.4L511.7 488L510.11 488.73L508.75 489.37L507.17 490.11L505.8 490.72L504.18 491.39L502.78 491.94L501.39 492.48L499.76 493.13L498.38 493.72L496.8 494.46L495.45 495.13L493.9 495.94L492.57 496.63L491.25 497.34L489.72 498.19L488.46 498.99L487.09 500.07L486.01 501.11L484.84 502.41L483.91 503.59L483.05 504.81L482.12 506.3L481.41 507.61L480.65 509.19L480.05 510.56L479.37 512.18L478.81 513.57L478.27 514.97L477.66 516.61L477.14 518.01L476.53 519.66L476.02 521.06L475.42 522.71L474.87 524.11L474.3 525.49L473.59 527.09L472.94 528.44L472.12 529.98L471.34 531.26L470.36 532.71L469.44 533.9L468.44 535.01L467.16 536.19L465.98 537.12L464.55 538.13L463.3 538.96L461.85 539.92L460.63 540.73L461.96 540.05L463.53 539.26L464.87 538.59L466.43 537.81L467.78 537.16L469.37 536.41L470.73 535.78L472.32 535.05L473.68 534.43L475.05 533.82L476.65 533.11L478.03 532.5L479.63 531.8L481 531.2L482.61 530.5L483.99 529.91L485.6 529.23L486.97 528.62L488.33 527.99L489.89 527.2L491.21 526.49L492.72 525.61L493.99 524.8L495.42 523.8L496.6 522.88L497.9 521.72L498.94 520.63L499.9 519.48L500.92 518.06L501.71 516.79L502.51 515.24L503.09 513.86L503.69 512.21L504.17 510.79L504.73 509.13L505.19 507.71L505.64 506.28L506.17 504.61L506.62 503.18L507.16 501.51L507.61 500.08L508.15 498.42L508.66 497.01L509.32 495.39L509.95 494.03L510.67 492.71L511.64 491.27L512.61 490.13L513.88 488.93L515.08 488.03L516.56 487.11L517.9 486.44L519.5 485.74L520.89 485.17L522.26 484.57L523.85 483.83L525.19 483.16L526.75 482.37L528.08 481.68L529.63 480.85L530.94 480.13L532.47 479.28L533.76 478.56ZM450.22 545.93L460.63 540.73" class="blk"/>
<path d="M533.76 478.56L532.39 479.17L530.79 479.87L529.41 480.48L527.81 481.18L526.44 481.79L524.84 482.5L523.47 483.11L522.1 483.71L520.49 484.41L519.11 484.99L517.49 485.64L516.09 486.19L514.46 486.83L513.07 487.4L511.7 488L510.11 488.73L508.75 489.37L507.17 490.11L505.8 490.72L504.18 491.39L502.78 491.94L501.39 492.48L499.76 493.13L498.38 493.72L496.8 494.46L495.45 495.13L493.9 495.94L492.57 496.63L491.25 497.34L489.72 498.19L488.46 498.99L487.09 500.07L486.01 501.11L484.84 502.41L483.91 503.59L483.05 504.81L482.12 506.3L481.41 507.61L480.65 509.19L480.05 510.56L479.37 512.18L478.81 513.57L478.27 514.97L477.66 516.61L477.14 518.01L476.53 519.66L476.02 521.06L475.42 522.71L474.87 524.11L474.3 525.49L473.59 527.09L472.94 528.44L472.12 529.98L471.34 531.26L470.36 532.71L469.44 533.9L468.44 535.01L467.16 536.19M460.63 540.73L461.96 540.05L463.53 539.26L464.87 538.59L466.43 537.81L467.78 537.16L469.37 536.41L470.73 535.78L472.32 535.05L473.68 534.43L475.05 533.82L476.65 533.11L478.03 532.5L479.63 531.8L481 531.2L482.61 530.5L483.99 529.91L485.6 529.23L486.97 528.62L488.33 527.99L489.89 527.2L491.21 526.49L492.72 525.61L493.99 524.8L495.42 523.8L496.6 522.88L497.9 521.72L498.94 520.63L499.9 519.48L500.92 518.06L501.71 516.79L502.51 515.24L503.09 513.86L503.69 512.21L504.17 510.79L504.73 509.13L505.19 507.71L505.64 506.28L506.17 504.61L506.62 503.18L507.16 501.51L507.61 500.08L508.15 498.42L508.66 497.01L509.32 495.39L509.95 494.03L510.67 492.71L511.64 491.27L512.61 490.13L513.88 488.93L515.08 488.03L516.56 487.11" class="blu"/>
</g>
<rect x="448.3" y="467.4" width="99.4" height="84.8" class="ax"/>
<path d="M448.3 552.2v-1.6M448.3 467.4v1.6M473.15 552.2v-1.6M473.15 467.4v1.6M498 552.2v-1.6M498 467.4v1.6M522.85 552.2v-1.6M522.85 467.4v1.6M547.7 552.2v-1.6M547.7 467.4v1.6M448.3 552.2h1.6M547.7 552.2h-1.6M448.3 509.8h1.6M547.7 509.8h-1.6M448.3 467.4h1.6M547.7 467.4h-1.6" class="tk"/>
<text x="448.3" y="567.2" text-anchor="middle" class="tl">-4</text>
<text x="473.15" y="567.2" text-anchor="middle" class="tl">-2</text>
<text x="498" y="567.2" text-anchor="middle" class="tl">0</text>
<text x="522.85" y="567.2" text-anchor="middle" class="tl">2</text>
<text x="547.7" y="567.2" text-anchor="middle" class="tl">4</text>
<text x="442.4" y="558.2" text-anchor="end" class="tl">-20</text>
<text x="442.4" y="515.8" text-anchor="end" class="tl">0</text>
<text x="442.4" y="473.4" text-anchor="end" class="tl">20</text>
<text x="453.5" y="480.9" class="pl">Undoped</text>
<text x="542.5" y="549" text-anchor="end" class="pl">Ref.4</text>
<g clip-path="url(#c44)">
<path d="M662.01 477.72L660.69 478.42L659.14 479.24L657.61 480.09L656.31 480.84L655.04 481.63L653.57 482.58L652.11 483.55L650.86 484.39L649.62 485.23L648.17 486.2L646.71 487.17L645.47 488.01L644.23 488.85L642.79 489.85L641.37 490.87L640.17 491.77L638.98 492.68L637.59 493.75L636.2 494.82L635 495.72L633.79 496.6L632.36 497.61L630.93 498.61L629.7 499.48L628.49 500.36L627.08 501.4L625.69 502.46L624.55 503.43L623.5 504.49L622.38 505.84L621.38 507.27L620.58 508.54L619.83 509.84L619.01 511.38L618.25 512.96L617.61 514.32L616.98 515.68L616.27 517.28L615.56 518.88L614.96 520.25L614.36 521.63L613.67 523.23L612.97 524.84L612.35 526.2L611.7 527.55L610.89 529.11L610.04 530.64L609.26 531.92L608.42 533.16L607.35 534.54L606.18 535.83L605.1 536.88L603.96 537.84L602.55 538.89L601.11 539.88L599.87 540.71L601.07 539.87L602.5 538.86L603.73 538L605.17 537L606.41 536.16L607.86 535.18L609.11 534.35L610.57 533.39L611.82 532.56L613.28 531.59L614.53 530.76L615.99 529.8L617.23 528.96L618.47 528.11L619.91 527.11L621.13 526.25L622.56 525.23L623.77 524.35L625.19 523.32L626.4 522.43L627.8 521.39L628.99 520.48L630.37 519.4L631.54 518.46L632.88 517.34L634.01 516.34L635.26 515.13L636.29 514.04L637.26 512.9L638.29 511.48L639.07 510.2L639.85 508.64L640.47 507.27L641.18 505.68L641.8 504.31L642.51 502.71L643.13 501.34L643.87 499.76L644.53 498.41L645.31 496.85L646 495.51L646.81 493.96L647.5 492.63L648.21 491.31L649.09 489.8L649.91 488.54L650.96 487.14L651.92 485.99L653.1 484.7L654.16 483.64L655.47 482.49L656.66 481.58L658.07 480.54L659.29 479.66L660.71 478.65L661.93 477.78Z" class="red"/>
<path d="M662.01 477.72L660.69 478.42L659.14 479.24L657.61 480.09L656.31 480.84L655.04 481.63L653.57 482.58L652.11 483.55L650.86 484.39L649.62 485.23L648.17 486.2L646.71 487.17L645.47 488.01L644.23 488.85L642.79 489.85L641.37 490.87L640.17 491.77L638.98 492.68L637.59 493.75L636.2 494.82L635 495.72L633.79 496.6L632.36 497.61L630.93 498.61L629.7 499.48L628.49 500.36L627.08 501.4L625.69 502.46L624.55 503.43L623.5 504.49L622.38 505.84L621.38 507.27L620.58 508.54L619.83 509.84L619.01 511.38L618.25 512.96L617.61 514.32L616.98 515.68L616.27 517.28L615.56 518.88L614.96 520.25L614.36 521.63L613.67 523.23L612.97 524.84L612.35 526.2L611.7 527.55L610.89 529.11L610.04 530.64L609.26 531.92L608.42 533.16L607.35 534.54L606.18 535.83L605.1 536.88L603.96 537.84L602.55 538.89L601.11 539.88L599.87 540.71L601.07 539.87L602.5 538.86L603.73 538L605.17 537L606.41 536.16L607.86 535.18L609.11 534.35L610.57 533.39L611.82 532.56L613.28 531.59L614.53 530.76L615.99 529.8L617.23 528.96L618.47 528.11L619.91 527.11L621.13 526.25L622.56 525.23L623.77 524.35L625.19 523.32L626.4 522.43L627.8 521.39L628.99 520.48L630.37 519.4L631.54 518.46L632.88 517.34L634.01 516.34L635.26 515.13L636.29 514.04L637.26 512.9L638.29 511.48L639.07 510.2L639.85 508.64L640.47 507.27L641.18 505.68L641.8 504.31L642.51 502.71L643.13 501.34L643.87 499.76L644.53 498.41L645.31 496.85L646 495.51L646.81 493.96L647.5 492.63L648.21 491.31L649.09 489.8L649.91 488.54L650.96 487.14L651.92 485.99L653.1 484.7L654.16 483.64L655.47 482.49L656.66 481.58L658.07 480.54L659.29 479.66L660.71 478.65L661.93 477.78ZM586.91 551.28L599.87 540.71M662.01 477.72L674.39 467.87" class="blk"/>
<path d="M662.01 477.72L660.69 478.42L659.14 479.24L657.61 480.09L656.31 480.84L655.04 481.63L653.57 482.58L652.11 483.55L650.86 484.39L649.62 485.23L648.17 486.2L646.71 487.17L645.47 488.01L644.23 488.85L642.79 489.85L641.37 490.87L640.17 491.77L638.98 492.68L637.59 493.75L636.2 494.82L635 495.72L633.79 496.6L632.36 497.61L630.93 498.61L629.7 499.48L628.49 500.36L627.08 501.4L625.69 502.46L624.55 503.43L623.5 504.49L622.38 505.84L621.38 507.27L620.58 508.54L619.83 509.84L619.01 511.38L618.25 512.96L617.61 514.32L616.98 515.68L616.27 517.28L615.56 518.88L614.96 520.25L614.36 521.63L613.67 523.23L612.97 524.84L612.35 526.2L611.7 527.55L610.89 529.11L610.04 530.64L609.26 531.92L608.42 533.16L607.35 534.54M599.85 540.73L601.07 539.87L602.5 538.86L603.73 538L605.17 537L606.41 536.16L607.86 535.18L609.11 534.35L610.57 533.39L611.82 532.56L613.28 531.59L614.53 530.76L615.99 529.8L617.23 528.96L618.47 528.11L619.91 527.11L621.13 526.25L622.56 525.23L623.77 524.35L625.19 523.32L626.4 522.43L627.8 521.39L628.99 520.48L630.37 519.4L631.54 518.46L632.88 517.34L634.01 516.34L635.26 515.13L636.29 514.04L637.26 512.9L638.29 511.48L639.07 510.2L639.85 508.64L640.47 507.27L641.18 505.68L641.8 504.31L642.51 502.71L643.13 501.34L643.87 499.76L644.53 498.41L645.31 496.85L646 495.51L646.81 493.96L647.5 492.63L648.21 491.31L649.09 489.8L649.91 488.54L650.96 487.14L651.92 485.99L653.1 484.7L654.16 483.64L655.47 482.49" class="blu"/>
</g>
<rect x="581.3" y="467.4" width="99.4" height="84.8" class="ax"/>
<path d="M581.3 552.2v-1.6M581.3 467.4v1.6M606.15 552.2v-1.6M606.15 467.4v1.6M631 552.2v-1.6M631 467.4v1.6M655.85 552.2v-1.6M655.85 467.4v1.6M680.7 552.2v-1.6M680.7 467.4v1.6M581.3 538.07h1.6M680.7 538.07h-1.6M581.3 509.8h1.6M680.7 509.8h-1.6M581.3 481.53h1.6M680.7 481.53h-1.6" class="tk"/>
<text x="581.3" y="567.2" text-anchor="middle" class="tl">-4</text>
<text x="606.15" y="567.2" text-anchor="middle" class="tl">-2</text>
<text x="631" y="567.2" text-anchor="middle" class="tl">0</text>
<text x="655.85" y="567.2" text-anchor="middle" class="tl">2</text>
<text x="680.7" y="567.2" text-anchor="middle" class="tl">4</text>
<text x="575.4" y="544.07" text-anchor="end" class="tl">-10</text>
<text x="575.4" y="515.8" text-anchor="end" class="tl">0</text>
<text x="575.4" y="487.53" text-anchor="end" class="tl">10</text>
<text x="586.5" y="480.9" class="pl">Undoped</text>
<text x="675.5" y="549" text-anchor="end" class="pl">Ref.5</text>
<text transform="translate(13.4 66.6) rotate(-90)" text-anchor="middle" class="yl"><tspan font-style="italic">Q</tspan><tspan font-style="italic" font-size="9" dy="4.6">FE</tspan><tspan dy="-4.6"> (μC/cm</tspan><tspan font-size="9.5" dy="-5.2">2</tspan><tspan dy="5.2">)</tspan></text>
<text transform="translate(13.4 175.75) rotate(-90)" text-anchor="middle" class="yl"><tspan font-style="italic">Q</tspan><tspan font-style="italic" font-size="9" dy="4.6">FE</tspan><tspan dy="-4.6"> (μC/cm</tspan><tspan font-size="9.5" dy="-5.2">2</tspan><tspan dy="5.2">)</tspan></text>
<text transform="translate(13.4 291.1) rotate(-90)" text-anchor="middle" class="yl"><tspan font-style="italic">Q</tspan><tspan font-style="italic" font-size="9" dy="4.6">FE</tspan><tspan dy="-4.6"> (μC/cm</tspan><tspan font-size="9.5" dy="-5.2">2</tspan><tspan dy="5.2">)</tspan></text>
<text transform="translate(13.4 400) rotate(-90)" text-anchor="middle" class="yl"><tspan font-style="italic">Q</tspan><tspan font-style="italic" font-size="9" dy="4.6">FE</tspan><tspan dy="-4.6"> (μC/cm</tspan><tspan font-size="9.5" dy="-5.2">2</tspan><tspan dy="5.2">)</tspan></text>
<text transform="translate(13.4 509.8) rotate(-90)" text-anchor="middle" class="yl"><tspan font-style="italic">Q</tspan><tspan font-style="italic" font-size="9" dy="4.6">FE</tspan><tspan dy="-4.6"> (μC/cm</tspan><tspan font-size="9.5" dy="-5.2">2</tspan><tspan dy="5.2">)</tspan></text>
<text x="99.1" y="583.3" text-anchor="middle" class="yl"><tspan font-style="italic">E</tspan><tspan font-style="italic" font-size="9" dy="4.6">FE</tspan><tspan dy="-4.6"> (MV/cm)</tspan></text>
<text x="232.1" y="583.3" text-anchor="middle" class="yl"><tspan font-style="italic">E</tspan><tspan font-style="italic" font-size="9" dy="4.6">FE</tspan><tspan dy="-4.6"> (MV/cm)</tspan></text>
<text x="365.1" y="583.3" text-anchor="middle" class="yl"><tspan font-style="italic">E</tspan><tspan font-style="italic" font-size="9" dy="4.6">FE</tspan><tspan dy="-4.6"> (MV/cm)</tspan></text>
<text x="498" y="583.3" text-anchor="middle" class="yl"><tspan font-style="italic">E</tspan><tspan font-style="italic" font-size="9" dy="4.6">FE</tspan><tspan dy="-4.6"> (MV/cm)</tspan></text>
<text x="631" y="583.3" text-anchor="middle" class="yl"><tspan font-style="italic">E</tspan><tspan font-style="italic" font-size="9" dy="4.6">FE</tspan><tspan dy="-4.6"> (MV/cm)</tspan></text></svg></body></html>
